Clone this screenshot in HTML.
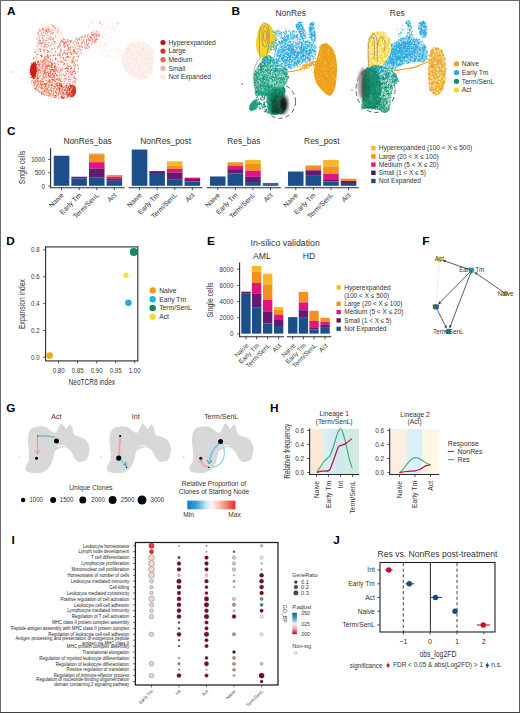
<!DOCTYPE html>
<html><head><meta charset="utf-8"><style>
html,body{margin:0;padding:0;background:#fff;}
svg{display:block;font-family:"Liberation Sans",sans-serif;}
</style></head><body>
<svg width="520" height="713" viewBox="0 0 520 713" fill="#2b2b2b">
<rect x="0" y="0" width="520" height="713" fill="#fff"/>
<text x="7.00" y="14.50" font-size="11.8" fill="#000" font-weight="bold">A</text>
<text x="231.50" y="15.00" font-size="11.8" fill="#000" font-weight="bold">B</text>
<text x="7.00" y="134.50" font-size="11.8" fill="#000" font-weight="bold">C</text>
<text x="6.30" y="244.60" font-size="11.8" fill="#000" font-weight="bold">D</text>
<text x="207.00" y="244.60" font-size="11.8" fill="#000" font-weight="bold">E</text>
<text x="422.30" y="244.60" font-size="11.8" fill="#000" font-weight="bold">F</text>
<text x="6.30" y="412.00" font-size="11.8" fill="#000" font-weight="bold">G</text>
<text x="270.00" y="412.00" font-size="11.8" fill="#000" font-weight="bold">H</text>
<text x="11.60" y="543.80" font-size="11.8" fill="#000" font-weight="bold">I</text>
<text x="333.30" y="543.80" font-size="11.8" fill="#000" font-weight="bold">J</text>
<path d="M38.5 29.6 C39.9 27.9 43.0 27.2 45.4 26.5 C47.8 25.8 50.7 25.4 53.0 25.5 C55.3 25.6 57.7 26.0 59.2 27.3 C60.8 28.6 61.4 31.2 62.3 33.5 C63.2 35.8 63.6 39.1 64.6 41.2 C65.5 43.3 66.4 44.5 68.0 46.0 C69.6 47.5 72.2 48.2 74.0 50.0 C75.8 51.8 78.5 54.6 79.0 56.5 C79.5 58.4 77.0 59.4 77.0 61.2 C77.0 63.0 79.2 64.2 79.2 67.3 C79.2 70.4 77.8 76.3 77.0 79.6 C76.2 82.9 74.9 85.2 74.6 87.3 C74.3 89.4 76.0 90.5 75.4 92.0 C74.8 93.5 73.1 95.4 70.8 96.5 C68.5 97.6 64.8 98.7 61.5 98.8 C58.2 98.9 54.1 98.1 50.8 97.3 C47.5 96.5 44.2 95.3 41.5 94.2 C38.8 93.1 36.3 92.3 34.6 90.4 C32.9 88.5 32.4 85.5 31.5 82.7 C30.6 79.9 29.7 76.6 29.5 73.5 C29.3 70.4 29.6 67.0 30.5 64.2 C31.4 61.4 33.6 59.6 34.6 56.5 C35.6 53.4 35.8 49.1 36.2 45.8 C36.6 42.5 36.6 39.2 37.0 36.5 C37.4 33.8 37.1 31.3 38.5 29.6 Z" fill="#fef4f1"/>
<path d="M62.0 38.0 C63.2 37.2 67.0 40.2 70.0 40.0 C73.0 39.8 76.8 38.2 80.0 37.0 C83.2 35.8 86.2 34.0 89.0 33.0 C91.8 32.0 95.0 30.7 97.0 31.0 C99.0 31.3 101.2 33.0 101.0 35.0 C100.8 37.0 98.5 40.5 96.0 43.0 C93.5 45.5 89.0 48.0 86.0 50.0 C83.0 52.0 81.0 55.0 78.0 55.0 C75.0 55.0 70.5 51.7 68.0 50.0 C65.5 48.3 64.0 47.0 63.0 45.0 C62.0 43.0 60.8 38.8 62.0 38.0 Z" fill="#fef7f5"/>
<path d="M132.3 42.7 C134.6 41.7 137.4 41.1 140.0 41.2 C142.6 41.3 145.5 42.0 147.7 43.5 C149.9 45.0 152.0 47.4 153.0 50.4 C154.0 53.4 153.9 57.6 153.8 61.2 C153.7 64.8 153.3 69.2 152.3 72.0 C151.3 74.8 149.8 76.7 147.7 78.0 C145.6 79.3 142.6 79.8 140.0 79.6 C137.4 79.3 134.6 77.8 132.3 76.5 C130.0 75.2 127.9 74.0 126.2 72.0 C124.5 70.0 123.0 67.0 122.3 64.2 C121.6 61.4 121.6 57.8 122.3 55.0 C123.0 52.2 124.5 49.3 126.2 47.3 C127.9 45.2 130.0 43.7 132.3 42.7 Z" fill="#fdf2ef"/>
<path d="M142.8 72.8h0M150.4 70.3h0M146.5 53.7h0M131.7 46.3h0M149.8 47.3h0M148.1 58.0h0M147.1 76.9h0M137.4 52.3h0M131.6 76.2h0M131.7 67.9h0M131.0 73.9h0M136.2 57.1h0M139.1 71.5h0M147.0 46.5h0M141.0 71.5h0M129.1 49.8h0M127.8 51.4h0M141.5 76.9h0M138.7 46.1h0M137.3 73.4h0M142.1 60.3h0M138.1 41.8h0M137.4 63.0h0M130.2 73.0h0M128.7 52.4h0M143.9 70.2h0M128.5 64.7h0M134.3 53.8h0M149.1 59.3h0M131.4 52.8h0M149.3 70.2h0M138.5 65.4h0M149.4 69.5h0M142.0 56.4h0M146.0 69.1h0M125.6 68.6h0M139.5 54.9h0M138.0 42.0h0M133.2 68.7h0M141.7 48.8h0M133.9 52.9h0M132.2 58.6h0M148.1 58.6h0M133.9 52.7h0M152.9 52.5h0M141.0 44.5h0M141.0 49.8h0M142.4 53.0h0M143.3 48.5h0M136.1 59.0h0M130.2 49.9h0M135.6 69.7h0M152.5 51.4h0M129.3 63.5h0M144.2 60.9h0M132.3 44.8h0M143.2 74.4h0M125.9 58.7h0M149.7 71.7h0M151.4 64.3h0M141.1 74.9h0M151.5 61.1h0M139.7 55.5h0M127.7 70.4h0M143.3 50.5h0M140.4 72.0h0M134.2 59.7h0M135.2 59.0h0M122.7 54.0h0M136.7 56.6h0M139.6 45.8h0M132.1 44.5h0M146.7 63.1h0M134.2 62.7h0M124.0 67.0h0M126.2 53.5h0M152.0 63.6h0M144.4 70.4h0M136.4 64.1h0M138.3 72.7h0M149.2 62.2h0M133.3 49.3h0M141.1 63.8h0M143.5 59.4h0M133.5 47.2h0M138.0 64.3h0M146.2 71.6h0M126.4 61.3h0M151.8 69.6h0M123.5 55.9h0M145.7 52.0h0M147.7 55.3h0M127.5 61.8h0M134.9 66.9h0M148.1 62.8h0M141.4 72.1h0M147.5 77.0h0M138.1 45.4h0M145.5 49.9h0M129.3 48.1h0M133.5 75.1h0M133.1 54.3h0M141.2 58.1h0M134.3 76.0h0M131.3 44.5h0M136.8 60.0h0M152.6 61.6h0M138.2 68.6h0M140.1 58.4h0M146.6 54.3h0M141.3 79.7h0M136.5 70.0h0M134.7 72.1h0M150.3 52.3h0M138.7 74.2h0M130.1 58.6h0M148.7 67.3h0M143.6 61.3h0M144.5 47.4h0M142.6 45.9h0M152.8 51.5h0M132.8 44.0h0M134.5 49.6h0M128.2 45.6h0M123.3 59.8h0M130.2 55.1h0M150.8 64.1h0M148.6 52.4h0M141.5 54.1h0M137.7 69.9h0M140.8 50.2h0M142.8 56.0h0M131.9 69.7h0M152.6 57.0h0M136.3 74.9h0M141.6 76.8h0M143.2 53.6h0M127.9 70.2h0M134.5 47.3h0M146.0 56.6h0M149.3 65.1h0M144.8 77.2h0M151.0 68.6h0M146.8 59.1h0M139.0 78.7h0M151.7 68.0h0M131.4 44.4h0M130.3 53.0h0M139.5 43.1h0M140.4 65.0h0M143.6 62.5h0M122.8 58.6h0M131.8 63.2h0M152.2 69.2h0M138.8 67.4h0M143.0 47.7h0M142.9 72.8h0M128.3 56.9h0M140.0 70.8h0M152.0 51.2h0M149.0 59.0h0M132.1 55.4h0M141.4 57.6h0M147.7 56.5h0M132.6 71.0h0M149.4 59.7h0M148.8 57.8h0M127.0 56.9h0M146.7 58.2h0M141.0 69.8h0M142.6 62.4h0M141.1 66.7h0M143.1 50.1h0M142.4 49.5h0M149.3 52.5h0M148.0 52.7h0M132.6 70.7h0M145.3 54.7h0M150.0 55.1h0M149.5 66.1h0M127.6 48.3h0M143.5 67.4h0M129.1 71.0h0M140.0 52.4h0M152.1 65.4h0M135.0 42.0h0M130.7 56.1h0M137.0 63.3h0M141.7 50.9h0M124.9 54.3h0M135.1 64.0h0M126.0 64.6h0M143.2 47.9h0M148.6 67.9h0M134.1 44.9h0M139.8 49.0h0M129.1 50.9h0M129.8 49.9h0M136.7 51.6h0M124.6 64.8h0M140.9 77.6h0M124.4 61.2h0M145.5 63.6h0M126.8 67.9h0M126.7 54.7h0M126.8 53.8h0M131.9 62.7h0M131.8 44.5h0M148.7 48.5h0M141.9 53.9h0M135.0 42.3h0M134.0 57.7h0M143.8 48.9h0M125.3 68.5h0M146.2 50.9h0M142.9 75.6h0M134.6 65.3h0M138.4 54.0h0M128.1 49.5h0M139.3 46.6h0M144.7 65.1h0M147.0 53.5h0M142.2 53.6h0M145.2 44.1h0M151.9 67.4h0M148.5 62.3h0M147.6 65.1h0M134.4 45.0h0M142.0 51.3h0M128.6 63.2h0M146.1 78.3h0M145.9 72.7h0M144.5 65.4h0M136.0 62.2h0M135.3 75.1h0M148.6 46.1h0M139.7 67.9h0M135.5 72.5h0M140.3 71.5h0M145.3 57.9h0M134.3 48.0h0M126.5 49.5h0M146.7 74.3h0M126.7 53.0h0M144.6 60.8h0M150.7 57.7h0M126.3 48.9h0M125.0 68.3h0M153.0 60.5h0M141.0 52.8h0M137.1 52.4h0M145.7 77.7h0M127.6 59.7h0M123.8 63.2h0M137.0 43.0h0M123.4 59.8h0M132.4 59.8h0M131.8 57.7h0M144.4 77.0h0M136.1 77.6h0M150.6 57.1h0M150.7 72.8h0M129.6 65.4h0M133.7 69.8h0M129.2 62.9h0M126.4 49.8h0M138.3 42.3h0M126.2 68.6h0M128.5 48.6h0M150.1 59.4h0M128.1 61.4h0M143.3 43.8h0M130.0 58.0h0M139.1 66.7h0M137.5 50.9h0M142.4 41.5h0M139.2 60.7h0M135.1 55.5h0M147.6 59.6h0M150.2 52.4h0M128.4 66.0h0M126.3 49.0h0M151.5 59.8h0M129.4 58.6h0M129.4 53.2h0M137.9 71.2h0M138.6 52.8h0M151.5 69.4h0M123.1 53.9h0M131.5 63.6h0M141.7 76.4h0M130.9 72.2h0M136.6 62.4h0M150.9 56.0h0M145.7 54.8h0M147.0 50.9h0M144.2 65.6h0M143.8 66.4h0M145.3 77.8h0M146.3 72.2h0" stroke="#f9e0d8" stroke-width="1.10" stroke-linecap="round"/>
<path d="M47.2 55.4h0M63.6 44.9h0M53.8 27.2h0M47.0 59.1h0M46.7 90.5h0M58.7 97.9h0M45.0 44.6h0M35.2 63.8h0M66.3 68.5h0M69.6 89.3h0M64.1 50.7h0M78.4 68.7h0M42.8 35.0h0M55.2 63.7h0M40.3 30.4h0M51.1 33.6h0M64.9 46.9h0M68.4 48.2h0M30.7 77.3h0M41.5 33.8h0M43.9 73.9h0M71.0 74.4h0M73.9 77.6h0M66.0 78.6h0M46.7 73.9h0M52.4 65.1h0M70.9 79.7h0M46.4 31.6h0M68.6 79.6h0M52.6 39.2h0M74.4 63.8h0M48.5 45.4h0M66.8 57.3h0M61.2 86.2h0M46.0 74.1h0M55.5 58.3h0M60.1 46.0h0M55.5 84.1h0M34.4 74.1h0M31.6 76.5h0M55.6 73.7h0M70.3 65.9h0M50.7 77.6h0M65.2 87.3h0M55.8 59.4h0M31.9 70.0h0M63.9 83.2h0M74.5 78.2h0M42.9 94.2h0M68.1 52.5h0M73.0 59.5h0M46.6 92.2h0M50.4 55.7h0M46.7 86.6h0M40.9 49.7h0M45.7 46.4h0M67.7 57.4h0M51.0 37.3h0M57.7 86.2h0M47.7 32.8h0M53.0 25.8h0M58.8 93.7h0M50.1 31.3h0M56.3 75.3h0M43.7 39.9h0M54.8 43.5h0M64.2 76.0h0M54.5 67.2h0M41.5 44.0h0M70.1 73.3h0M60.6 71.8h0M55.9 59.8h0M66.5 91.7h0M75.3 64.8h0M61.3 86.5h0M59.2 72.2h0M48.8 66.1h0M57.9 61.4h0M56.6 75.1h0M74.1 61.9h0M69.6 78.6h0M67.1 54.3h0M52.9 87.0h0M66.9 93.9h0M45.0 68.3h0M53.2 32.4h0M70.0 81.4h0M31.2 74.2h0M44.1 46.3h0M54.1 88.8h0M72.0 60.6h0M43.1 29.4h0M42.0 42.7h0M44.9 70.4h0M57.3 84.2h0M73.5 71.0h0M42.0 55.4h0M66.0 57.7h0M61.3 86.2h0M48.4 92.5h0M68.6 96.0h0M74.9 82.6h0M53.0 26.1h0M36.5 68.0h0M45.3 63.1h0M59.2 54.4h0M53.6 55.5h0M37.1 46.0h0M67.7 45.6h0M42.3 65.9h0M69.2 57.9h0M74.7 76.7h0M72.8 72.4h0M55.5 95.6h0M47.6 50.6h0M51.1 89.9h0M37.5 54.3h0M54.4 73.5h0M41.0 84.9h0M37.7 54.7h0M48.1 57.9h0M32.7 72.1h0M52.5 33.2h0M64.6 64.1h0M74.0 71.3h0M61.3 97.5h0M51.9 44.9h0M43.3 63.2h0M55.9 58.5h0M59.8 82.8h0M54.8 77.6h0M69.0 66.7h0M45.0 70.6h0M71.2 67.7h0M30.6 74.5h0M41.8 93.1h0M44.7 58.0h0M57.9 83.3h0M64.1 47.1h0M67.8 69.0h0M48.7 29.7h0M40.0 40.7h0M71.5 54.4h0M41.0 42.1h0M54.9 88.0h0M66.0 53.8h0M56.7 83.6h0M55.6 66.3h0M60.8 41.9h0M46.1 69.9h0M38.4 43.8h0M68.0 71.3h0M61.1 61.2h0M32.4 66.9h0M74.6 71.5h0M48.3 28.2h0M58.9 47.6h0M56.9 90.0h0M60.7 50.7h0M63.5 39.8h0M36.2 76.2h0M59.5 85.3h0M47.1 29.6h0M35.9 76.8h0M53.2 41.2h0M42.2 92.9h0M67.3 46.3h0M35.8 83.0h0M45.2 62.7h0M55.3 91.6h0M39.7 86.8h0M39.4 66.2h0M49.7 29.8h0M68.6 56.2h0M57.9 55.2h0M47.4 52.3h0M41.4 82.0h0M38.0 33.0h0M45.4 85.2h0M72.5 75.0h0M68.4 76.8h0M62.7 54.9h0M45.0 57.2h0M72.0 85.5h0M40.0 40.8h0M51.1 61.9h0M61.7 86.4h0M38.2 74.9h0M68.4 68.8h0M54.7 68.0h0M62.4 68.9h0M66.0 60.1h0M60.5 52.4h0M39.6 43.0h0M35.0 52.5h0M43.2 81.6h0M52.1 65.6h0M34.1 84.8h0M65.7 93.2h0M48.4 73.2h0M49.0 66.7h0M40.3 55.5h0M56.0 86.1h0M31.5 63.8h0M46.1 64.5h0M61.8 75.4h0M43.7 32.7h0M60.8 80.2h0M73.4 65.1h0M34.7 75.7h0M53.5 79.5h0M63.7 53.5h0M35.7 51.8h0M55.8 91.9h0M63.8 64.4h0M46.0 30.2h0M54.3 77.8h0M61.8 84.7h0M55.1 28.5h0M66.3 60.8h0M58.5 64.4h0M57.5 32.2h0M55.5 91.5h0M45.8 74.6h0M53.7 73.2h0M52.3 49.4h0M62.3 41.4h0M40.0 92.4h0M38.9 49.1h0M71.4 68.5h0M64.7 52.4h0M51.9 67.0h0M35.0 78.3h0M53.2 77.7h0M72.2 61.3h0M54.5 48.1h0M48.6 64.0h0M37.3 71.0h0M60.3 57.1h0M54.4 95.8h0M46.8 40.1h0M42.8 84.3h0M64.1 79.1h0M45.1 91.4h0M58.4 92.9h0M42.4 43.2h0M67.0 93.2h0M48.0 55.2h0M53.3 75.9h0M65.5 69.0h0M65.1 68.5h0M46.7 30.3h0M70.5 68.8h0M49.0 42.7h0M73.8 53.3h0M62.7 96.8h0M70.8 72.0h0M57.2 79.1h0M41.5 56.3h0M57.8 54.3h0M67.1 63.6h0M37.0 58.1h0M77.5 60.2h0M46.4 56.4h0M67.8 45.3h0M53.4 38.1h0M47.5 57.0h0M33.3 58.5h0M61.2 62.3h0M68.0 83.4h0M47.2 54.7h0M44.0 50.4h0M75.5 78.6h0M71.9 54.2h0M64.3 81.3h0M64.3 63.5h0M71.3 74.9h0M54.6 75.2h0M47.6 65.5h0M71.9 87.5h0M73.9 56.9h0M43.2 69.2h0M38.6 69.4h0M57.9 46.5h0M41.7 55.2h0M46.2 66.2h0M68.0 50.3h0M53.1 77.6h0M59.6 76.3h0M44.1 35.5h0M74.8 92.3h0M38.1 60.8h0M67.3 71.3h0M52.1 48.8h0M37.9 33.2h0M54.3 86.6h0M73.0 61.6h0M48.5 57.6h0M75.0 66.8h0M78.8 56.8h0M55.0 97.5h0M40.6 51.2h0M56.6 79.1h0M64.2 42.9h0M52.7 81.5h0M48.0 81.1h0M41.7 85.9h0M44.4 60.6h0M42.5 71.6h0M50.0 94.4h0M39.7 29.6h0M64.4 90.3h0M65.8 53.5h0M54.4 75.6h0M73.0 58.1h0M58.2 79.4h0M63.4 58.8h0M43.4 65.4h0M74.3 70.0h0M44.1 45.1h0M35.4 89.4h0M55.4 51.9h0M38.7 72.0h0M67.4 65.7h0M49.1 51.4h0M38.9 70.5h0M46.6 83.6h0M72.2 62.7h0M63.7 93.2h0M63.0 62.5h0M66.7 67.0h0M65.2 78.7h0M33.5 69.9h0M60.3 55.3h0M55.4 73.3h0M33.9 58.2h0M46.6 90.0h0M70.4 52.6h0M54.6 69.6h0M34.8 70.9h0M68.2 56.6h0M57.5 75.4h0M40.4 43.4h0M63.1 90.1h0M46.0 40.6h0M71.9 54.1h0M48.8 79.9h0M44.3 51.8h0M44.1 90.8h0M50.3 46.1h0M60.3 49.0h0M40.1 48.8h0M66.3 85.7h0M40.5 87.9h0M54.1 41.5h0M45.3 42.3h0M40.3 80.6h0M55.3 42.2h0M61.5 40.6h0M64.9 43.8h0M42.2 56.7h0M33.5 62.8h0M53.3 71.4h0M60.1 45.5h0M50.8 39.4h0M67.4 53.8h0M55.6 36.0h0M37.9 74.4h0M75.6 73.6h0M70.2 53.0h0M55.3 55.3h0M44.2 47.8h0M61.5 84.5h0M37.4 84.3h0M60.4 61.6h0M30.0 72.7h0M65.5 75.8h0M46.9 44.4h0M63.5 42.3h0M70.7 92.8h0M60.3 84.1h0M71.6 91.7h0M62.1 86.0h0M74.1 56.6h0M31.5 82.2h0M42.6 37.7h0M48.6 73.4h0M42.5 28.5h0M72.5 88.7h0M38.3 81.1h0M66.6 86.2h0M42.6 66.2h0M77.9 56.5h0M67.1 71.1h0M51.1 90.0h0M35.7 78.0h0M43.2 40.4h0M77.8 65.8h0M68.9 66.5h0M48.5 51.6h0M43.7 42.7h0M36.0 74.7h0M44.3 59.8h0M72.0 72.9h0M74.3 81.0h0M63.1 74.4h0M66.8 73.9h0M47.0 89.3h0M52.0 63.2h0M67.5 68.5h0M75.9 81.2h0M44.1 94.5h0M61.8 70.8h0M48.9 87.1h0M52.8 60.0h0M52.3 30.3h0M30.0 72.7h0M67.4 56.9h0M63.6 57.8h0M70.6 49.2h0M36.9 38.8h0M41.3 60.1h0M59.4 44.2h0M53.1 38.9h0M59.0 88.4h0M72.8 82.0h0M74.3 68.5h0M50.2 59.5h0M42.0 85.0h0M72.7 86.8h0" stroke="#e4412e" stroke-width="1.00" stroke-linecap="round"/>
<path d="M49.8 36.5h0M43.1 38.1h0M75.5 72.3h0M53.5 93.0h0M41.4 46.8h0M46.2 49.9h0M33.1 65.5h0M35.6 80.9h0M62.1 57.7h0M73.9 86.6h0M69.6 91.0h0M42.6 81.5h0M64.4 47.2h0M76.5 53.7h0M35.3 68.1h0M58.0 92.2h0M51.9 43.2h0M44.9 56.3h0M44.1 30.7h0M61.5 43.1h0M38.6 84.9h0M50.9 74.9h0M76.1 60.5h0M47.4 55.7h0M44.8 44.7h0M75.2 81.0h0M58.6 61.6h0M58.6 30.6h0M40.5 71.0h0M61.8 98.5h0M48.1 31.1h0M49.5 32.0h0M64.2 96.8h0M44.6 78.1h0M44.2 71.0h0M37.0 54.2h0M44.4 83.3h0M45.2 71.7h0M37.9 42.7h0M43.1 61.6h0M44.2 77.3h0M72.0 71.3h0M51.4 65.8h0M70.0 79.2h0M32.5 70.9h0M55.5 86.6h0M38.3 33.9h0M59.2 53.7h0M59.2 55.5h0M39.0 65.7h0M56.3 91.7h0M52.5 68.9h0M32.7 73.8h0M40.9 50.0h0M57.3 66.4h0M71.8 66.2h0M45.3 72.7h0M67.8 67.2h0M41.1 67.8h0M76.9 79.5h0M39.5 35.3h0M32.7 71.4h0M52.3 76.3h0M60.7 93.7h0M56.8 85.7h0M60.8 96.4h0M50.6 58.8h0M73.6 90.0h0M64.8 89.5h0M50.8 65.7h0M44.5 91.5h0M36.3 85.6h0M45.5 33.5h0M47.8 34.9h0M75.9 65.0h0M42.3 73.4h0M55.1 66.6h0M57.7 83.5h0M61.4 33.1h0M37.8 81.5h0M65.4 71.5h0M46.6 34.2h0M73.1 63.2h0M45.6 31.2h0M62.9 85.8h0M72.4 60.8h0M43.8 89.7h0M55.8 29.9h0M50.0 72.5h0M63.0 88.5h0M41.1 46.1h0M70.7 77.1h0M65.1 44.0h0M38.7 40.9h0M44.7 50.0h0M47.0 47.6h0M52.1 43.1h0M59.9 56.0h0M76.0 61.2h0M49.4 76.2h0M44.1 70.3h0M64.1 74.3h0M48.4 38.5h0M70.2 89.1h0M56.6 69.9h0M47.1 87.8h0M58.2 64.1h0M64.5 60.5h0M48.4 31.6h0M54.1 91.5h0M71.6 62.6h0M47.5 31.1h0M32.4 75.9h0M71.8 52.8h0M52.6 64.4h0M77.8 71.7h0M66.5 86.4h0M47.8 93.2h0M56.3 88.6h0M57.9 47.2h0M49.1 81.5h0M49.0 66.0h0M61.0 53.8h0M49.6 83.8h0M65.0 94.0h0M55.7 72.5h0M66.7 73.6h0M70.3 87.8h0M58.6 47.3h0M61.1 50.2h0M45.8 62.7h0M48.8 56.5h0M66.2 50.9h0M41.6 32.0h0M60.6 69.7h0M73.4 58.5h0M47.7 82.8h0M52.8 55.7h0M55.8 27.6h0M46.5 90.2h0M53.4 54.9h0M45.1 44.1h0M47.8 37.7h0M69.0 75.3h0M42.0 37.9h0M61.4 69.5h0M59.7 86.7h0M64.9 60.0h0M66.6 84.0h0M72.1 83.3h0M43.9 72.0h0M35.4 83.9h0M69.3 53.4h0M40.4 63.9h0M41.3 80.1h0M68.7 79.8h0M51.3 29.9h0M70.8 86.6h0M70.6 56.9h0M68.6 69.1h0M73.1 85.9h0M42.9 29.5h0M46.5 74.8h0M61.4 50.9h0M58.6 28.1h0M68.7 49.6h0M70.0 72.5h0M44.3 32.0h0M35.5 87.8h0M63.8 43.0h0M43.1 49.8h0M42.9 91.9h0M39.5 39.5h0M37.7 50.1h0M46.9 47.1h0M33.4 76.1h0M38.9 31.3h0M51.1 25.0h0M70.9 93.8h0M72.8 51.4h0M49.3 84.6h0M35.7 56.4h0M43.6 32.5h0M62.9 60.8h0M49.8 38.3h0M57.9 31.0h0M62.6 54.9h0M55.0 76.9h0M60.4 43.2h0M42.1 80.7h0M32.3 76.0h0M52.8 64.6h0M38.2 43.7h0M39.3 41.0h0M49.1 56.1h0M48.1 91.0h0M65.1 60.4h0M48.4 74.8h0M50.1 91.4h0M36.6 71.1h0M39.2 37.5h0M67.5 49.1h0M51.1 92.8h0M43.5 28.7h0M72.9 70.9h0M43.0 88.9h0M51.6 86.0h0M58.1 79.6h0M37.6 77.3h0M50.9 52.8h0M43.4 29.8h0M69.7 71.6h0M41.4 35.1h0M46.0 27.4h0M70.9 67.9h0M55.7 96.7h0M48.0 25.9h0M60.2 75.2h0M46.4 87.9h0M42.6 30.6h0M62.5 81.2h0M51.7 64.5h0M55.3 91.4h0M55.3 71.3h0M60.1 70.0h0M47.0 57.6h0M41.2 83.8h0M61.5 78.1h0M49.0 39.6h0M45.2 80.5h0M46.4 49.3h0M57.5 48.2h0M39.8 87.1h0M71.1 95.0h0M35.7 62.0h0M36.4 87.1h0M70.0 68.9h0M41.4 81.5h0M39.9 31.6h0M38.9 51.6h0M70.8 89.7h0M44.3 92.2h0M57.8 77.8h0M44.5 69.4h0M45.7 29.5h0M74.2 73.8h0M38.0 70.4h0M65.1 86.5h0M45.1 71.1h0M33.1 76.4h0M61.7 81.2h0M66.6 79.4h0M68.2 91.8h0M49.0 71.7h0M38.8 37.1h0M51.3 32.8h0M51.7 87.4h0M60.4 68.3h0M72.3 84.2h0M65.6 72.8h0" stroke="#f08a70" stroke-width="1.00" stroke-linecap="round"/>
<path d="M49.4 93.4h0M57.5 90.3h0M44.4 87.3h0M54.2 80.1h0M46.8 83.9h0M47.1 88.3h0M50.1 71.2h0M34.8 66.5h0M38.0 85.7h0M36.3 82.3h0M51.5 74.8h0M52.6 74.3h0M37.5 62.5h0M35.5 63.7h0M50.9 81.9h0M39.3 62.7h0M38.0 64.3h0M60.3 84.8h0M45.7 69.9h0M41.4 93.8h0M37.3 64.2h0M53.3 75.3h0M59.4 88.4h0M35.9 89.1h0M49.3 81.4h0M44.3 83.7h0M60.0 79.2h0M36.7 68.2h0M44.9 64.4h0M45.0 72.1h0M38.8 69.8h0M45.7 72.1h0M54.2 71.8h0M34.9 88.4h0M45.4 76.6h0M47.1 92.2h0M37.1 78.0h0M50.9 69.7h0M48.7 84.0h0M48.7 91.9h0M53.9 67.3h0M59.7 83.3h0M46.8 72.6h0M39.0 67.8h0M38.7 61.8h0M54.6 65.9h0M55.2 70.5h0M56.6 79.2h0M48.5 74.1h0M51.6 64.3h0M51.3 69.8h0M54.7 83.7h0M43.7 93.4h0M54.1 97.6h0M40.3 82.6h0M45.9 59.2h0M54.3 97.6h0M57.4 86.9h0M58.4 93.1h0M50.5 61.9h0M38.2 78.5h0M31.3 77.3h0M54.6 66.3h0M54.8 80.2h0M54.0 80.5h0M53.0 69.5h0M47.9 65.3h0M51.1 67.4h0M38.0 70.7h0M47.5 72.7h0M50.9 96.3h0M48.1 71.7h0M39.2 77.1h0M34.8 64.4h0M51.3 66.9h0M34.6 66.5h0M55.4 81.0h0M36.6 70.7h0M54.7 69.3h0M42.0 78.7h0M52.3 74.5h0M54.7 97.5h0M42.1 64.4h0M46.0 60.0h0M51.4 77.8h0M40.6 83.4h0M43.1 73.8h0M49.0 66.5h0M40.3 85.6h0M35.4 81.2h0M35.1 82.7h0M57.2 79.0h0M44.7 73.5h0M57.8 82.5h0M33.0 78.4h0M48.4 62.3h0M41.7 94.2h0M39.9 62.9h0M58.5 88.1h0M32.4 75.5h0M58.2 89.7h0M33.6 78.7h0M51.6 90.8h0M39.8 76.6h0M47.3 67.4h0M60.1 88.5h0M55.5 91.3h0M33.6 78.4h0M46.4 86.2h0M52.9 95.2h0M30.6 66.2h0M57.1 88.5h0M37.0 72.2h0M38.0 79.9h0M56.7 93.3h0M47.1 84.9h0M39.2 69.5h0M31.4 69.4h0M52.2 84.4h0M42.2 68.4h0M59.3 80.0h0M47.1 66.1h0M46.9 76.8h0M43.7 84.5h0M43.4 61.0h0M42.1 68.1h0M56.4 93.0h0M44.2 59.3h0M37.9 62.6h0M44.3 90.6h0M59.9 85.2h0M50.6 76.7h0M44.2 66.4h0M45.2 58.3h0M60.8 83.8h0M33.9 81.4h0M48.2 61.0h0M41.0 70.8h0M37.2 81.3h0M39.2 91.5h0M32.6 70.9h0M42.5 61.5h0M53.1 70.4h0M56.7 83.9h0M48.8 85.5h0M41.5 85.5h0M51.2 85.3h0M51.6 84.5h0M55.1 81.7h0M34.5 84.9h0M49.8 65.2h0M34.0 83.4h0M53.0 63.3h0M33.1 66.4h0M50.5 94.8h0M48.6 74.3h0M53.1 80.1h0M33.7 65.9h0M59.5 78.5h0M54.5 96.1h0M41.4 85.8h0M49.6 80.2h0M52.9 70.3h0M51.6 89.7h0M37.9 73.6h0M57.3 71.5h0M51.4 79.5h0M42.2 87.9h0M35.5 85.5h0M44.5 63.6h0M61.5 90.5h0M43.4 75.2h0M43.1 83.4h0M55.7 80.0h0M35.2 69.7h0M50.2 65.7h0M56.6 85.5h0M48.3 61.9h0M33.8 62.0h0M37.5 78.7h0M47.3 61.0h0M60.8 89.9h0M51.2 71.3h0M52.4 70.0h0M49.2 82.0h0M49.7 69.6h0M31.5 66.8h0M44.4 72.4h0M56.3 89.5h0M51.5 63.5h0M36.2 70.6h0M58.0 70.2h0M38.4 87.9h0M60.7 85.6h0M41.5 88.3h0M50.1 73.3h0M56.1 95.5h0M46.1 60.2h0M49.2 90.9h0M32.5 77.8h0M42.8 85.9h0M59.4 83.8h0M47.4 91.1h0M36.6 79.0h0M50.7 71.7h0M45.1 62.7h0M59.7 74.8h0M45.9 66.1h0M36.3 88.7h0M36.7 69.2h0M42.1 76.6h0M42.0 82.0h0M37.5 68.7h0M50.2 82.5h0M35.9 66.8h0M45.5 83.8h0M38.2 62.0h0M52.5 79.7h0M36.2 87.1h0M52.9 79.7h0M40.0 81.7h0M39.9 81.6h0M42.4 67.2h0M40.8 75.4h0M42.2 88.0h0M52.8 74.2h0M36.8 64.4h0M52.6 73.6h0M42.0 62.2h0M34.2 62.3h0M35.0 62.4h0M59.2 78.4h0M32.0 71.1h0M39.2 65.5h0M58.3 87.4h0M33.7 82.6h0M37.7 90.4h0M39.5 64.5h0M57.1 82.8h0M34.9 68.6h0M34.9 76.3h0M48.6 81.6h0M55.0 81.0h0M48.2 95.0h0M47.1 83.0h0M44.8 72.2h0M38.5 89.9h0M43.9 88.9h0M50.3 81.1h0M48.9 69.0h0M60.8 88.1h0M38.4 62.6h0M46.6 77.9h0M50.9 83.0h0M50.8 70.2h0M55.2 81.0h0M56.6 70.6h0M31.7 77.5h0M57.2 90.4h0M55.7 95.4h0M50.4 73.9h0M31.9 71.4h0M54.4 71.2h0M49.0 89.9h0M58.1 80.6h0M49.7 76.3h0M45.2 84.7h0M37.1 80.6h0M36.4 65.3h0M35.5 73.6h0M56.1 68.8h0M37.9 63.9h0M56.2 96.8h0M43.9 85.8h0M50.1 74.1h0M43.1 62.1h0M46.6 72.1h0M51.1 93.9h0M59.3 90.0h0M37.7 81.2h0M37.6 61.3h0M43.2 60.5h0M54.8 92.4h0M40.7 61.2h0M37.2 86.5h0M52.7 83.1h0M55.0 66.8h0M34.1 74.9h0M48.4 96.0h0M49.3 66.4h0M40.5 84.1h0M45.1 62.3h0M60.0 80.1h0M35.0 68.0h0M42.1 84.4h0M41.4 88.2h0M43.1 64.1h0M37.3 67.7h0M52.5 67.9h0M50.7 72.4h0M38.8 67.9h0M46.4 68.1h0M42.2 91.3h0M50.1 80.2h0M38.7 64.4h0M60.4 84.4h0M46.7 80.5h0M51.2 68.1h0M39.6 70.1h0M52.6 95.2h0M53.3 88.3h0M49.5 84.5h0M58.2 94.8h0M45.6 67.0h0M31.5 71.1h0M59.5 91.5h0M48.4 75.5h0M50.0 75.7h0M49.8 90.6h0M51.2 75.5h0M57.7 85.9h0M51.5 67.0h0M56.1 67.9h0M41.1 66.8h0M36.2 88.2h0M40.7 68.8h0M38.7 84.1h0M36.3 73.0h0M52.3 90.9h0M49.6 77.7h0M56.2 68.1h0M38.4 61.6h0M54.9 71.4h0M48.2 75.6h0M61.4 83.9h0M46.8 95.6h0M34.8 81.1h0M40.6 72.7h0M52.6 64.7h0M49.0 81.6h0M38.3 83.6h0M48.4 64.3h0M51.5 92.2h0M45.0 84.6h0M38.0 78.5h0M54.5 63.3h0M53.4 70.4h0M38.6 78.1h0M38.1 82.2h0M44.8 95.0h0M48.8 86.5h0M51.4 85.5h0M42.3 79.2h0M44.0 76.9h0M48.4 76.3h0M35.5 80.5h0M53.4 90.6h0M45.2 91.2h0M56.8 94.0h0M41.9 70.0h0M60.5 81.4h0M52.8 85.4h0M35.6 63.6h0M45.3 89.0h0M31.4 70.8h0M43.8 78.8h0M47.4 68.7h0M55.8 69.3h0M41.6 92.6h0M51.1 89.0h0M47.0 88.8h0M49.8 95.1h0M45.5 86.6h0M50.1 85.5h0M45.4 68.7h0M59.7 85.4h0M34.6 72.6h0M58.0 95.0h0M54.2 86.4h0M31.5 70.7h0M53.4 93.7h0M42.2 89.0h0M46.4 66.4h0M46.9 66.4h0M46.0 88.6h0M50.6 61.8h0M38.0 69.4h0M52.1 70.0h0M43.1 81.3h0M51.9 63.1h0M44.1 70.8h0M55.6 65.1h0M41.4 87.8h0M49.7 62.5h0M49.9 87.8h0M61.4 88.0h0M36.5 83.1h0M52.5 77.4h0M37.5 76.7h0M34.2 81.8h0M44.2 62.6h0M45.9 89.5h0M47.8 89.2h0M45.7 84.9h0M37.0 67.2h0M51.8 66.2h0M55.3 87.8h0M51.9 88.7h0M54.0 76.1h0M59.5 92.8h0M57.5 85.2h0M37.8 75.5h0M61.5 84.9h0M46.9 61.1h0M48.9 73.4h0M39.7 91.6h0M43.1 77.4h0M48.3 80.3h0M32.1 80.3h0M53.3 95.2h0" stroke="#e64a32" stroke-width="1.00" stroke-linecap="round"/>
<path d="M43.3 69.5h0M48.6 69.2h0M58.2 75.9h0M41.6 59.6h0M44.9 59.3h0M44.6 67.7h0M58.0 86.4h0M44.7 88.4h0M43.2 91.0h0M57.5 90.7h0M47.4 91.3h0M34.4 86.9h0M42.4 68.0h0M35.6 77.5h0M45.5 75.3h0M42.0 59.7h0M41.9 79.0h0M56.8 68.8h0M54.1 84.9h0M54.6 90.1h0M59.3 86.3h0M36.0 90.8h0M58.7 76.2h0M36.2 68.1h0M39.8 77.4h0M55.6 80.0h0M35.5 75.3h0M59.8 85.2h0M50.5 68.6h0M47.6 60.4h0M47.8 85.8h0M48.8 71.8h0M48.1 78.9h0M49.1 71.6h0M38.3 74.7h0M32.6 78.8h0M59.4 75.7h0M49.8 77.0h0M40.4 68.1h0M36.8 61.3h0M43.5 62.2h0M42.8 85.2h0M37.4 72.6h0M42.8 65.4h0M32.1 65.1h0M41.8 71.1h0M31.3 68.4h0M50.0 73.9h0M45.8 90.1h0M41.9 67.7h0M51.1 88.8h0M43.4 62.4h0M58.3 78.6h0M41.9 93.0h0M38.0 71.0h0M36.5 62.9h0M38.8 68.5h0M47.5 61.9h0M42.9 92.1h0M37.4 64.4h0M60.1 88.3h0M41.7 83.6h0M45.7 70.4h0M60.5 86.5h0M55.2 63.8h0M47.8 81.0h0M52.0 82.1h0M52.3 81.1h0M34.0 81.3h0M53.2 82.5h0M56.5 69.6h0M36.7 83.8h0M40.2 82.0h0M42.3 72.5h0M37.0 68.9h0M47.8 70.8h0M58.3 84.4h0M42.8 87.9h0M46.3 88.8h0M38.7 88.4h0M46.1 92.3h0M41.0 86.5h0M56.9 76.6h0M36.3 74.7h0M48.2 64.4h0M52.8 92.8h0M41.4 73.7h0M41.1 91.3h0M37.1 86.8h0M59.1 79.5h0M58.9 78.6h0M45.0 68.4h0M33.4 84.6h0M58.1 93.2h0M61.6 90.9h0M52.9 95.1h0M34.8 79.3h0M55.9 79.2h0M35.1 73.9h0M49.4 91.0h0M34.1 85.9h0M46.1 91.1h0M58.5 90.5h0M51.4 81.3h0M46.4 93.9h0M39.5 62.6h0M49.4 84.8h0M44.4 63.4h0M52.7 95.0h0M36.1 61.7h0M31.5 73.0h0M37.0 69.1h0M50.7 68.0h0M35.3 61.7h0M39.3 73.2h0M46.8 61.7h0M54.4 83.2h0M57.6 70.7h0M41.2 89.1h0M51.2 95.3h0M58.8 87.7h0M51.6 89.4h0M46.6 81.1h0M54.9 80.1h0M53.2 77.1h0M56.0 78.3h0M48.4 63.4h0M35.1 81.1h0M57.7 88.3h0M43.3 90.0h0M39.7 85.4h0M42.7 75.8h0M52.3 68.5h0M36.5 82.5h0M50.9 62.6h0M58.6 72.7h0M51.2 93.5h0M39.9 91.1h0M41.9 65.8h0M42.3 63.4h0M55.4 88.5h0M45.4 79.4h0M52.5 71.0h0M41.0 71.5h0M55.9 80.7h0M43.1 63.5h0M31.7 76.1h0M47.5 63.5h0M41.1 76.0h0M53.6 86.8h0M48.4 88.0h0M51.0 74.9h0M48.6 94.1h0M42.4 63.5h0M45.3 64.5h0M45.8 62.4h0M59.5 74.0h0M41.4 60.8h0M35.5 85.5h0M33.9 65.1h0M40.4 85.6h0M49.0 80.7h0M49.6 85.6h0M53.8 85.8h0M51.5 89.9h0M33.7 77.2h0M42.5 80.7h0M42.1 68.3h0M34.3 78.2h0M49.0 62.2h0M54.7 96.2h0M48.2 61.0h0M54.8 74.0h0M48.6 79.3h0M32.5 77.2h0M46.4 72.1h0M38.5 82.8h0M37.6 74.2h0M51.3 74.7h0M43.5 58.8h0" stroke="#f8c8a0" stroke-width="1.10" stroke-linecap="round"/>
<path d="M59.6 88.7h0M67.9 95.5h0M73.2 92.6h0M72.2 85.4h0M59.6 87.8h0M59.6 90.9h0M71.5 92.5h0M73.2 91.4h0M72.1 94.6h0M64.8 86.7h0M64.3 97.4h0M66.0 92.0h0M67.8 93.6h0M62.1 87.7h0M58.6 86.0h0M67.4 92.3h0M59.5 89.6h0M62.9 98.0h0M63.4 98.1h0M69.5 85.7h0M69.9 92.3h0M71.6 86.1h0M71.5 88.1h0M66.3 85.4h0M74.7 90.9h0M62.4 92.9h0M67.2 92.0h0M64.1 90.6h0M66.4 90.7h0M70.9 88.6h0M61.0 93.3h0M63.0 91.9h0M62.0 94.8h0M71.1 93.3h0M71.9 89.1h0M74.6 89.6h0M70.6 97.0h0M62.2 89.2h0M63.6 97.7h0M64.7 90.3h0M66.9 86.4h0M71.6 96.3h0M67.5 90.5h0M61.0 86.9h0M71.3 92.1h0M66.2 87.4h0M71.6 91.8h0M67.4 89.4h0M72.5 86.2h0M69.1 86.1h0M74.0 86.8h0M70.2 83.8h0M68.6 86.9h0M72.3 90.7h0M62.1 97.4h0M68.7 97.0h0M62.2 97.3h0M70.9 87.4h0M59.4 85.8h0M71.4 87.6h0M62.2 90.0h0M63.0 98.3h0M66.1 95.8h0M62.1 98.2h0M61.0 91.2h0M61.9 92.5h0M70.9 85.5h0M70.9 85.5h0M71.9 85.6h0M63.5 87.5h0M62.3 86.7h0M68.9 87.7h0M64.5 94.1h0M67.4 97.2h0M61.6 96.6h0M64.1 98.0h0M71.6 87.4h0M62.1 95.1h0M66.3 92.6h0M69.6 94.4h0M73.8 97.4h0M74.0 93.5h0M68.4 89.6h0M67.2 92.0h0M60.3 86.1h0M62.7 95.9h0M60.0 92.0h0M67.7 92.6h0M65.9 94.5h0M61.3 85.5h0M67.7 85.7h0M62.2 86.4h0M72.3 89.4h0M70.2 93.7h0M67.3 88.0h0M62.3 97.7h0M66.1 98.0h0M63.7 92.6h0M67.3 96.1h0M68.1 94.2h0M65.9 90.5h0M60.1 93.9h0M67.0 94.0h0M74.0 94.5h0M59.2 88.9h0M68.0 96.8h0M63.3 93.0h0M64.6 89.5h0M75.2 87.4h0M69.4 84.3h0M63.5 94.7h0M66.0 88.4h0M73.5 89.1h0M65.9 88.2h0M68.0 95.7h0M65.9 89.7h0M61.9 97.9h0M61.8 85.8h0M69.3 90.6h0M67.7 94.8h0" stroke="#e0402c" stroke-width="1.00" stroke-linecap="round"/>
<path d="M80.3 49.4h0M94.4 37.4h0M97.1 33.6h0M81.4 53.5h0M73.9 49.2h0M88.5 42.9h0M76.3 53.5h0M79.5 37.8h0M82.5 46.2h0M96.7 39.3h0M96.6 31.7h0M94.9 42.7h0M91.2 40.9h0M64.2 44.4h0M96.1 38.5h0M71.9 46.9h0M94.0 41.5h0M95.3 40.4h0M64.4 39.5h0M74.7 51.0h0M85.2 36.8h0M71.4 40.6h0M85.5 48.6h0M67.3 42.0h0M86.7 44.3h0M84.2 42.8h0M87.8 45.2h0M99.2 36.3h0M91.4 37.8h0M69.9 40.6h0M82.7 36.9h0M84.2 37.9h0M91.1 38.1h0M78.9 55.2h0M62.8 41.1h0M77.0 42.2h0M67.3 39.7h0M90.0 35.9h0M87.2 48.5h0M94.9 41.9h0M81.2 47.2h0M81.1 37.4h0M65.4 41.9h0M94.9 36.4h0M70.3 50.1h0M75.7 52.2h0M77.4 40.2h0M68.7 41.5h0M79.2 46.7h0M81.5 43.9h0M94.7 34.4h0M99.7 36.4h0M94.1 35.0h0M82.5 42.9h0M77.1 53.5h0M85.5 43.6h0M86.4 42.2h0M75.5 39.8h0M98.4 34.6h0M86.3 40.4h0M92.6 39.1h0M70.8 41.9h0M89.9 39.9h0M68.8 44.8h0M84.2 36.3h0M77.8 46.5h0M92.8 39.5h0M92.0 38.0h0M70.3 47.3h0M77.0 52.5h0M89.1 40.5h0M74.7 41.4h0M96.6 35.1h0M81.3 37.7h0M64.7 42.7h0M76.3 42.8h0M83.6 39.9h0M81.4 36.1h0M92.3 42.5h0M91.1 32.4h0M80.8 51.8h0M78.9 39.2h0M80.0 45.7h0M66.7 44.0h0M64.3 42.7h0M65.2 42.8h0M78.0 44.0h0M87.4 35.2h0M73.7 51.2h0M99.3 34.4h0M62.9 42.5h0M92.1 34.9h0M84.4 47.8h0M62.9 38.5h0M66.2 42.3h0M77.6 39.4h0M61.3 40.3h0M87.5 44.9h0M73.5 50.2h0M75.0 47.8h0M91.7 34.4h0M90.8 37.5h0M69.7 50.1h0M75.1 51.2h0M88.1 39.7h0M82.5 41.6h0M93.7 31.8h0M78.5 43.3h0M97.1 39.2h0M70.8 42.4h0M87.4 44.9h0M92.5 34.8h0M76.5 48.1h0M86.5 42.0h0M96.0 33.4h0M83.9 41.5h0M68.3 48.3h0M68.8 40.3h0M86.5 39.6h0M73.8 49.5h0M87.5 37.0h0M87.9 37.1h0M80.9 46.5h0M88.7 38.5h0M65.0 45.5h0M97.7 39.4h0M77.8 49.6h0M67.2 41.8h0M79.6 49.1h0M82.2 50.2h0M81.4 39.8h0M79.8 46.7h0M89.3 46.8h0M85.7 35.9h0M97.0 30.9h0M73.0 47.1h0M89.6 40.0h0M94.6 42.4h0M74.6 45.2h0M94.8 37.6h0M91.1 37.3h0M74.6 52.4h0M95.9 35.4h0M82.7 47.1h0M83.9 40.3h0M85.7 46.7h0M96.7 36.6h0M95.0 33.3h0M78.1 48.7h0M96.1 41.7h0M88.6 47.9h0M90.8 40.1h0M70.8 40.8h0M88.2 40.1h0M76.2 38.8h0M68.2 47.4h0M81.3 43.3h0M79.6 38.9h0M76.3 38.1h0M97.1 35.1h0M79.3 39.8h0M84.9 44.8h0M76.2 45.6h0M91.3 32.9h0M92.8 34.7h0M69.6 44.0h0M88.4 43.8h0M86.7 47.6h0M89.7 46.6h0M88.3 34.7h0M90.2 40.1h0M87.1 46.2h0M94.4 40.3h0M90.2 36.8h0M81.5 43.2h0M73.7 50.4h0M90.1 37.0h0M96.8 37.0h0M70.4 42.4h0M92.8 41.1h0M76.1 54.4h0M78.1 44.2h0M69.6 47.9h0M91.3 44.1h0M73.0 42.1h0M74.9 51.6h0M93.2 34.9h0M92.2 36.0h0M78.3 51.5h0M70.4 41.5h0M73.3 43.2h0M96.9 35.3h0M95.6 39.9h0M94.8 34.2h0M73.5 50.9h0M77.0 43.7h0M98.3 35.4h0M77.3 40.9h0M85.8 34.9h0M65.8 40.9h0" stroke="#e8604a" stroke-width="0.90" stroke-linecap="round"/>
<path d="M103.3 24.7h0M109.1 19.8h0M112.6 25.4h0M103.0 36.7h0M101.6 21.5h0M111.9 28.6h0M105.1 43.7h0M100.7 26.8h0M110.9 29.4h0M108.8 28.4h0M88.9 26.5h0M99.7 45.8h0M105.1 27.9h0M109.6 27.2h0M96.4 46.4h0M108.0 23.9h0M88.9 24.7h0M114.9 30.8h0M110.6 32.7h0M93.5 21.8h0M104.8 29.7h0M118.9 22.5h0M100.6 45.7h0M107.8 42.9h0M101.0 45.2h0M113.7 28.7h0M110.1 36.6h0M93.1 32.4h0M104.8 44.6h0M98.7 37.3h0M100.4 27.6h0M117.1 22.9h0M97.6 46.3h0M94.0 33.5h0M94.8 37.2h0M109.4 38.0h0M100.5 42.4h0M91.0 22.8h0M101.9 24.5h0M96.9 21.3h0M100.9 34.0h0M100.3 21.3h0M115.2 30.1h0M118.0 26.4h0M102.1 23.8h0M115.8 27.3h0M99.6 32.1h0M93.4 23.4h0M103.4 38.2h0M109.1 41.1h0M117.7 32.9h0M96.6 43.3h0M102.3 24.1h0M102.5 36.4h0M104.9 34.5h0M97.9 24.0h0M93.1 41.7h0M107.8 33.5h0M113.4 27.0h0M91.9 22.1h0" stroke="#f6cfc6" stroke-width="1.00" stroke-linecap="round"/>
<path d="M104.8 49.1h0M103.1 50.1h0M109.8 56.8h0M113.5 56.6h0M119.4 49.5h0M116.1 48.5h0M110.9 44.0h0M105.0 46.3h0M112.0 49.2h0M105.6 49.8h0M103.5 54.0h0M108.3 46.7h0M103.4 53.6h0M102.8 52.2h0M116.8 53.6h0M106.9 54.7h0M98.3 52.6h0M120.6 55.2h0M120.6 51.2h0M121.4 57.3h0M103.3 45.5h0M104.7 45.0h0M110.7 49.9h0M109.9 55.3h0M109.8 51.8h0M99.0 48.2h0M114.3 58.3h0M109.7 51.9h0M108.6 51.2h0M118.7 52.6h0M101.3 50.5h0M107.7 46.2h0M108.0 55.7h0M118.4 58.9h0M118.9 50.5h0M101.5 44.6h0M119.3 56.6h0M121.1 51.8h0M113.1 47.2h0M105.4 56.5h0" stroke="#f8d8d0" stroke-width="1.00" stroke-linecap="round"/>
<path d="M34 62 Q29.5 66 30 71 Q30.5 76 34 79 Q36.5 76 36.5 70 Q36.5 65 34 62 Z" fill="#d41a1a"/>
<path d="M36.4 70.0h0M31.1 67.0h0M31.5 64.9h0M34.5 68.1h0M35.5 63.7h0M35.3 62.7h0M34.5 70.4h0M36.3 65.0h0M33.3 69.8h0M36.0 65.2h0M36.9 65.7h0M34.9 71.1h0M31.4 73.7h0M32.8 69.9h0M31.9 66.3h0M35.9 68.2h0M36.6 71.3h0M31.6 65.8h0M32.5 70.2h0M35.3 73.3h0M33.5 67.5h0M33.7 64.9h0M34.7 71.5h0M34.5 70.8h0M31.0 70.5h0M36.8 68.2h0M34.3 68.8h0M32.6 64.4h0M31.7 74.0h0M36.0 68.6h0M32.1 70.7h0M35.1 72.9h0M31.8 66.4h0M35.1 71.6h0M35.7 65.6h0M31.8 69.9h0M33.8 64.3h0M35.8 64.4h0M34.4 66.3h0M34.5 65.7h0M34.5 64.6h0M32.5 73.0h0M36.8 71.2h0M34.0 73.0h0M32.0 63.8h0M32.6 77.1h0M35.2 69.8h0M33.0 75.1h0M33.5 65.5h0M35.5 73.3h0" stroke="#d01c1c" stroke-width="1.00" stroke-linecap="round"/>
<path d="M73.5 84.5 Q77 88 76 93 Q74.5 97 70 97.5 Q72.5 93 72.5 89 Z" fill="#d42a24" opacity="0.85"/>
<path d="M72.7 96.5h0M69.1 90.1h0M72.6 86.3h0M71.6 92.5h0M72.1 86.6h0M71.5 86.2h0M70.1 88.7h0M74.0 87.8h0M69.7 89.0h0M72.6 86.0h0M72.5 90.6h0M73.3 87.6h0M68.0 88.3h0M70.7 95.6h0M68.4 87.5h0M70.8 85.3h0M70.8 85.9h0M68.6 94.2h0M71.5 85.9h0M70.1 94.7h0M74.0 94.8h0M74.9 89.6h0M74.7 88.3h0M71.2 91.2h0M70.8 90.6h0M74.2 91.4h0M74.7 89.5h0M69.9 94.1h0M69.6 88.6h0M71.9 91.6h0M73.5 94.6h0M68.2 88.0h0M70.0 86.8h0M73.5 90.6h0M70.5 86.5h0M69.6 88.7h0M69.6 88.8h0M71.4 92.4h0M69.2 94.7h0M71.4 90.9h0M73.9 95.2h0M71.4 91.5h0M73.2 95.6h0M73.8 91.8h0M69.2 92.1h0M69.5 94.0h0M69.9 90.1h0M70.0 92.6h0M74.5 93.2h0M73.9 86.6h0M73.0 91.5h0M73.6 91.4h0M75.4 91.8h0M72.3 86.2h0M68.9 95.2h0M73.8 89.8h0M70.1 95.8h0M68.7 93.7h0M70.4 86.1h0M74.1 89.7h0" stroke="#d02a22" stroke-width="1.00" stroke-linecap="round"/>
<circle cx="13.00" cy="72.00" r="0.80" fill="#e8a8a0"/>
<circle cx="100.00" cy="23.00" r="1.20" fill="#f4d0c8"/>
<circle cx="117.50" cy="23.50" r="1.20" fill="#f4d0c8"/>
<circle cx="163.00" cy="42.50" r="2.60" fill="#c0101c"/>
<text x="168.50" y="44.81" font-size="6.7" fill="#333">Hyperexpanded</text>
<circle cx="163.00" cy="51.10" r="2.60" fill="#c43a22"/>
<text x="168.50" y="53.41" font-size="6.7" fill="#333">Large</text>
<circle cx="163.00" cy="59.70" r="2.60" fill="#e2694c"/>
<text x="168.50" y="62.01" font-size="6.7" fill="#333">Medium</text>
<circle cx="163.00" cy="68.30" r="2.60" fill="#eeb2a8"/>
<text x="168.50" y="70.61" font-size="6.7" fill="#333">Small</text>
<circle cx="163.00" cy="76.90" r="2.60" fill="#fbe7e2"/>
<text x="168.50" y="79.21" font-size="6.7" fill="#333">Not Expanded</text>
<text x="290.70" y="16.40" font-size="8.4" text-anchor="middle" fill="#333">NonRes</text>
<text x="397.30" y="16.40" font-size="8.4" text-anchor="middle" fill="#333">Res</text>
<path d="M274.0 50.0 C274.7 47.8 276.3 45.0 278.0 43.0 C279.7 41.0 282.0 39.7 284.0 38.0 C286.0 36.3 288.3 34.3 290.0 33.0 C291.7 31.7 292.7 29.5 294.0 30.0 C295.3 30.5 296.5 34.3 298.0 36.0 C299.5 37.7 301.3 39.3 303.0 40.0 C304.7 40.7 306.3 40.0 308.0 40.0 C309.7 40.0 311.6 38.7 313.0 40.0 C314.4 41.3 316.0 45.3 316.5 48.0 C317.0 50.7 316.8 53.8 316.0 56.0 C315.2 58.2 314.0 59.9 312.0 61.0 C310.0 62.1 306.5 61.7 304.0 62.5 C301.5 63.3 299.3 64.9 297.0 66.0 C294.7 67.1 292.3 69.0 290.0 69.0 C287.7 69.0 285.2 67.2 283.0 66.0 C280.8 64.8 278.5 63.7 277.0 62.0 C275.5 60.3 274.5 58.0 274.0 56.0 C273.5 54.0 273.3 52.2 274.0 50.0 Z" fill="#d2ecf8"/>
<path d="M295.5 24.5 C295.8 23.4 297.4 21.8 298.5 21.5 C299.6 21.2 301.2 21.6 302.0 22.5 C302.8 23.4 302.4 25.4 303.0 27.0 C303.6 28.6 305.0 30.2 305.5 32.0 C306.0 33.8 306.6 36.8 306.0 38.0 C305.4 39.2 303.2 39.8 302.0 39.0 C300.8 38.2 299.9 34.8 299.0 33.0 C298.1 31.2 297.1 29.4 296.5 28.0 C295.9 26.6 295.2 25.6 295.5 24.5 Z" fill="#d2ecf8"/>
<path d="M309.5 25.0 C309.9 23.5 310.8 22.4 311.5 22.0 C312.2 21.6 313.4 21.2 314.0 22.5 C314.6 23.8 314.7 27.1 315.0 30.0 C315.3 32.9 316.3 37.8 316.0 40.0 C315.7 42.2 314.0 43.3 313.0 43.0 C312.0 42.7 310.7 40.0 310.0 38.0 C309.3 36.0 309.1 33.2 309.0 31.0 C308.9 28.8 309.1 26.5 309.5 25.0 Z" fill="#d2ecf8"/>
<path d="M285.1 38.4h0M290.4 55.4h0M280.4 61.4h0M277.1 45.3h0M290.5 35.1h0M310.0 58.3h0M287.8 57.6h0M297.1 57.3h0M290.0 66.6h0M290.4 51.6h0M305.6 41.2h0M297.0 42.6h0M286.2 54.1h0M291.5 36.9h0M285.7 66.9h0M291.9 39.6h0M289.4 64.6h0M295.3 45.1h0M283.4 40.7h0M290.9 59.7h0M284.1 50.5h0M293.0 35.0h0M275.7 51.3h0M280.9 44.9h0M286.7 53.5h0M298.1 51.8h0M285.0 40.4h0M285.2 40.7h0M284.3 51.2h0M297.5 37.7h0M278.8 60.7h0M284.2 51.2h0M309.0 47.6h0M305.3 46.8h0M292.6 51.4h0M290.7 38.6h0M305.8 42.7h0M292.6 49.5h0M284.4 55.0h0M309.7 42.4h0M281.6 57.3h0M302.4 43.1h0M286.4 65.6h0M281.0 52.3h0M311.2 44.4h0M290.1 47.8h0M305.1 42.2h0M295.0 36.8h0M296.0 57.0h0M278.2 60.7h0M297.6 60.8h0M297.2 64.8h0M311.3 44.8h0M289.0 54.9h0M291.5 49.1h0M306.1 50.5h0M274.4 56.1h0M298.8 46.3h0M304.9 58.9h0M294.4 35.4h0M282.5 49.8h0M301.7 52.5h0M284.5 61.1h0M292.2 53.2h0M284.2 54.0h0M290.5 41.6h0M305.0 47.6h0M281.3 64.0h0M299.7 47.3h0M286.1 53.2h0M279.1 50.0h0M276.7 55.8h0M300.1 60.3h0M310.0 45.2h0M291.6 36.6h0M288.7 66.4h0M277.1 59.5h0M308.0 57.6h0M311.2 46.7h0M296.3 65.3h0M302.8 55.6h0M285.1 65.7h0M283.0 61.2h0M309.0 59.0h0M302.9 52.3h0M294.2 36.6h0M290.8 38.1h0M308.2 44.8h0M283.5 58.2h0M304.1 46.2h0M309.2 51.8h0M300.0 39.7h0M310.9 48.7h0M298.7 44.8h0M279.2 43.9h0M304.0 60.3h0M290.0 41.5h0M288.0 36.7h0M283.9 40.2h0M307.8 45.0h0M292.7 44.4h0M309.8 54.9h0M285.6 65.1h0M291.3 49.7h0M279.4 58.4h0M307.3 41.2h0M281.7 47.7h0M283.2 59.0h0M299.9 61.6h0M312.2 56.5h0M313.7 47.5h0M314.7 46.2h0M297.0 56.5h0M302.0 62.4h0M286.0 41.9h0M285.4 63.0h0M291.5 36.6h0M289.0 65.0h0M274.9 49.1h0M297.0 36.0h0M300.9 57.8h0M300.7 42.7h0M292.8 57.4h0M302.2 43.7h0M296.8 63.9h0M288.8 38.8h0M312.4 49.0h0M277.9 56.3h0M277.3 61.6h0M299.1 38.5h0M291.3 44.4h0M314.2 49.2h0M291.6 60.3h0M290.2 42.5h0M296.4 62.1h0M299.1 62.8h0M309.3 60.2h0M285.9 44.4h0M311.3 50.6h0M276.8 60.6h0M282.4 57.7h0M291.5 50.0h0M288.3 38.5h0M308.5 58.2h0M296.2 44.4h0M290.0 67.5h0M308.4 45.3h0M286.9 36.9h0M283.7 67.3h0M307.2 48.8h0M303.8 60.8h0M277.6 54.1h0M314.6 50.6h0M316.0 47.1h0M282.7 42.9h0M294.9 54.9h0M293.2 51.8h0M286.4 49.6h0M278.5 55.6h0M286.3 49.4h0M315.4 58.0h0M293.1 48.7h0M282.6 60.3h0M301.8 44.6h0M310.4 42.8h0M284.1 64.9h0M305.0 52.7h0M278.9 50.7h0M278.6 58.8h0M294.4 63.9h0M293.9 41.6h0M308.6 41.8h0M305.0 59.0h0M306.9 54.9h0M301.5 43.2h0M300.9 51.8h0M306.1 52.0h0M293.4 30.7h0M286.1 51.7h0M295.7 59.6h0M304.7 48.2h0M277.9 59.6h0M285.5 39.7h0M315.0 51.7h0M297.1 42.8h0M296.3 45.0h0M279.7 57.8h0M285.5 59.4h0M297.7 34.5h0M303.9 41.8h0M300.3 37.1h0M302.0 45.1h0M287.8 35.4h0M298.9 61.4h0M315.7 47.8h0M311.3 47.5h0M277.8 51.7h0M310.2 60.7h0M284.9 43.4h0M312.9 40.6h0M315.6 54.4h0M305.6 46.7h0M300.9 39.5h0M293.8 66.2h0M301.3 45.7h0M305.1 62.2h0M288.6 55.9h0M288.9 39.8h0M305.7 57.0h0M290.7 34.4h0M298.0 63.1h0M289.4 46.5h0M285.0 41.5h0M295.0 54.6h0M286.6 40.5h0M300.5 56.6h0M305.6 59.2h0M287.2 54.3h0M290.4 47.5h0M294.7 57.3h0M315.0 45.3h0M281.9 59.9h0M307.0 56.6h0M278.9 56.0h0M289.9 48.3h0M290.6 54.3h0M302.4 56.1h0M288.2 48.5h0M316.0 51.7h0M303.5 40.2h0M273.6 49.5h0M291.6 36.6h0M310.2 61.2h0M304.3 44.2h0M297.3 52.9h0M286.4 39.7h0M278.8 48.8h0M290.8 35.8h0M278.5 50.6h0M296.6 56.2h0M301.0 53.3h0M303.0 44.3h0M307.5 58.6h0M308.9 56.0h0M283.0 57.3h0M288.2 52.0h0M292.8 31.6h0M299.3 52.2h0M296.3 35.7h0M290.0 67.6h0M294.7 51.6h0M274.7 54.1h0M307.5 61.4h0M292.7 47.0h0M301.7 59.0h0M284.3 47.2h0M304.1 60.4h0M292.7 34.2h0M300.8 56.3h0M293.0 43.3h0M282.6 44.3h0M309.1 50.7h0M291.2 64.6h0M289.6 48.8h0M309.3 42.7h0M305.0 48.1h0M285.8 47.2h0M309.1 46.1h0M288.3 49.4h0M309.8 57.9h0M278.9 58.5h0M288.4 66.9h0M313.6 43.0h0M285.6 46.7h0M291.3 50.6h0M285.4 65.6h0M285.4 62.3h0M302.2 55.2h0M303.2 50.5h0M307.1 46.1h0M292.5 51.3h0M292.3 57.4h0M284.9 47.6h0M294.7 66.8h0M295.8 51.4h0M285.3 48.5h0M297.5 66.6h0M289.9 64.7h0M287.5 49.2h0M297.5 35.3h0M306.3 57.6h0M293.6 47.2h0M278.6 51.1h0M288.6 67.5h0M305.5 56.6h0M300.9 47.0h0M304.6 55.0h0M308.7 55.2h0M288.6 36.3h0M290.0 45.3h0M299.4 43.3h0M297.0 36.8h0M276.1 49.5h0M301.5 46.4h0M288.7 57.0h0M294.5 55.4h0M300.4 58.7h0M312.3 44.2h0M292.8 38.4h0M289.5 46.1h0M282.2 48.1h0M297.6 52.7h0M305.6 52.9h0M285.4 61.0h0M301.4 42.1h0M305.1 55.5h0M290.2 67.2h0M297.6 44.6h0M289.8 64.7h0M296.2 31.7h0M309.3 50.4h0M307.9 41.8h0M291.5 36.9h0M298.5 43.2h0M305.3 58.7h0M283.9 42.6h0M307.6 58.7h0M305.3 47.9h0M297.5 39.7h0M291.3 44.4h0M292.1 50.7h0M280.9 46.8h0M311.8 52.7h0M279.8 60.8h0M307.8 46.0h0M288.6 54.0h0M288.0 37.2h0M292.9 59.1h0M286.9 53.8h0M280.1 56.3h0M281.7 40.2h0M309.3 45.3h0M294.9 52.5h0M307.0 41.1h0M308.6 53.2h0M287.3 64.9h0M296.4 62.7h0M281.2 54.5h0M294.2 62.3h0M290.8 68.7h0M281.0 47.3h0M303.5 50.2h0M301.5 62.9h0M292.0 49.8h0M293.4 49.3h0M291.7 49.8h0M306.0 52.2h0M288.4 49.6h0M300.2 53.0h0M290.7 57.0h0M293.6 31.6h0M275.6 50.1h0M302.8 46.1h0M278.6 60.4h0M281.9 63.7h0M294.6 65.1h0M313.7 56.8h0M307.1 61.9h0M292.1 65.3h0M276.0 58.7h0M285.3 46.7h0M287.2 40.2h0M291.9 67.6h0M304.9 60.1h0M284.9 63.2h0M288.1 45.7h0M291.3 52.4h0M312.2 44.8h0M309.5 43.4h0M286.9 53.7h0M301.9 52.5h0M286.7 43.8h0M287.5 38.6h0M291.0 55.5h0M285.2 37.8h0M288.3 41.9h0M295.3 51.9h0M287.2 57.9h0M313.2 46.5h0M278.0 50.6h0M285.0 45.8h0M288.2 42.4h0M278.8 50.5h0M276.4 48.5h0M280.4 55.1h0M289.8 53.3h0M282.5 58.1h0M307.0 47.5h0M294.5 37.5h0M306.5 45.1h0M309.1 49.3h0M280.6 54.5h0M295.1 50.9h0M301.9 56.4h0M308.5 46.3h0M305.1 51.6h0M292.0 45.5h0M279.2 55.9h0M294.5 53.4h0M282.9 57.9h0M285.1 56.3h0M298.7 52.7h0M293.2 37.4h0M283.3 39.4h0M288.0 44.5h0M302.0 57.1h0M301.7 48.2h0M282.3 46.0h0M294.3 63.6h0M285.6 43.9h0M299.4 41.7h0M293.4 38.5h0M297.9 61.4h0M305.7 44.2h0M312.3 45.4h0M302.8 41.2h0M285.0 41.8h0M303.4 48.0h0M282.6 46.7h0M307.1 44.9h0M302.5 61.7h0M308.4 59.2h0M296.3 37.0h0M315.2 54.0h0M288.2 55.1h0M295.5 42.4h0M299.0 51.4h0M288.7 55.9h0M314.5 52.1h0M288.0 54.6h0M281.1 64.4h0M296.4 63.9h0M300.0 64.7h0M286.7 39.3h0M302.9 60.5h0M297.9 59.4h0M289.1 65.6h0M288.6 47.9h0M300.2 47.9h0M307.0 42.2h0M310.7 51.0h0M296.9 35.0h0M305.9 50.6h0M280.6 64.4h0M292.1 49.1h0M290.7 32.7h0M305.2 46.5h0M280.5 50.1h0M309.9 53.2h0M307.3 54.0h0M276.1 59.2h0M292.1 51.0h0M297.7 52.6h0M293.2 53.2h0M294.8 49.9h0M311.8 55.3h0M294.6 59.6h0M310.2 59.5h0M306.8 55.0h0M313.2 58.4h0M287.8 59.2h0M276.7 48.3h0M313.9 51.7h0M290.4 53.6h0M289.9 45.4h0M311.9 50.7h0M310.0 58.9h0M284.0 60.2h0M294.5 64.7h0M280.7 65.2h0" stroke="#2aaade" stroke-width="1.20" stroke-linecap="round"/>
<path d="M286.0 61.0h0M297.8 54.5h0M304.0 56.4h0M289.7 62.2h0M300.3 53.7h0M293.5 52.4h0M297.6 56.0h0M310.4 52.8h0M288.1 53.6h0M308.5 54.2h0M297.4 47.4h0M282.4 56.9h0M290.8 57.7h0M295.4 63.9h0M287.0 52.1h0M279.1 56.8h0M312.2 49.9h0M299.0 53.1h0M279.6 50.4h0M295.3 52.6h0M306.5 50.2h0M282.4 53.2h0M310.9 50.1h0M283.2 49.3h0M281.3 51.1h0M305.6 58.1h0M283.2 58.0h0M286.5 46.8h0M297.9 54.4h0M308.0 58.2h0M282.2 58.1h0M293.2 57.7h0M309.0 52.5h0M296.8 56.5h0M279.5 55.4h0M289.4 50.4h0M297.1 53.4h0M297.3 61.0h0M285.4 59.9h0M287.5 45.3h0M290.7 66.2h0M285.4 50.5h0M297.9 53.2h0M287.5 45.6h0M311.5 53.2h0M285.0 49.9h0M291.1 52.0h0M287.5 59.1h0M291.8 48.6h0M294.5 53.5h0M298.7 55.1h0M282.0 46.9h0M282.7 48.6h0M289.2 45.9h0M300.7 47.1h0M295.0 63.3h0M282.5 57.3h0M290.1 57.4h0M291.0 46.3h0M294.1 46.3h0M290.7 56.5h0M303.1 54.5h0M307.2 53.3h0M301.4 51.3h0M303.7 59.2h0M303.3 51.2h0M295.8 55.0h0M310.4 52.8h0M297.1 58.3h0M295.8 47.3h0M288.9 61.7h0M308.5 49.8h0M283.8 57.0h0M304.2 48.0h0M296.7 49.2h0M298.1 58.2h0M285.1 57.0h0M302.6 50.6h0M297.0 57.1h0M310.2 50.9h0M301.0 47.7h0M295.3 62.3h0M286.5 63.5h0M305.9 48.2h0M312.2 55.8h0M291.0 53.3h0M286.5 60.0h0M284.9 58.8h0M301.2 50.9h0M296.7 49.1h0M304.5 49.3h0M296.2 54.7h0M305.9 50.5h0M301.4 47.3h0M288.8 45.2h0M302.9 49.4h0M281.4 59.6h0M278.6 52.6h0M295.5 57.9h0M309.6 53.4h0M293.9 62.8h0M301.4 53.6h0M300.8 50.7h0M298.5 63.1h0M298.3 52.2h0M298.4 54.9h0M291.3 50.0h0M283.1 51.5h0M302.5 54.7h0M296.9 48.4h0M295.9 55.1h0M284.6 53.6h0M300.1 60.2h0M300.3 58.4h0M288.2 64.6h0M308.5 53.8h0M297.1 48.2h0M307.6 51.3h0M298.1 61.8h0M292.8 49.9h0M286.7 61.8h0M288.1 60.3h0M297.6 53.0h0M288.2 47.5h0M302.8 55.7h0M293.9 49.8h0M278.9 55.5h0M307.1 48.3h0M297.4 55.8h0M300.8 55.8h0M297.1 47.7h0M287.3 57.7h0M286.9 62.8h0M303.6 55.7h0M287.2 49.5h0M289.8 47.8h0M281.0 55.8h0M285.8 56.8h0M292.6 60.8h0M308.8 55.2h0M277.0 53.0h0M306.3 54.2h0M286.6 53.2h0M283.3 61.7h0M292.6 56.0h0M294.6 64.1h0M295.8 51.8h0M284.5 56.3h0M284.0 46.1h0M287.5 52.9h0M290.4 45.5h0M303.4 55.5h0M280.8 54.6h0M289.9 50.0h0M290.4 56.0h0M312.4 49.6h0M309.6 55.1h0M297.7 54.7h0M312.7 50.7h0M284.3 45.3h0M287.8 55.5h0M301.1 48.4h0M299.6 48.9h0M280.7 52.8h0M289.8 56.2h0M295.4 57.0h0M309.5 50.2h0M307.7 57.7h0M303.0 54.3h0M292.0 53.3h0M284.2 45.8h0M290.0 44.7h0M281.5 58.2h0M306.4 48.6h0M284.7 54.8h0M280.2 56.3h0M305.3 55.5h0M278.1 55.4h0M283.4 51.9h0M294.2 54.2h0M293.7 59.8h0M304.1 54.3h0M282.3 59.4h0M307.4 51.5h0M291.8 47.9h0M308.2 54.0h0M301.2 48.2h0M287.5 45.8h0M303.1 56.9h0M288.9 53.0h0M301.0 53.2h0M296.0 46.5h0M290.7 46.8h0M288.5 48.0h0M289.4 57.5h0M298.8 58.1h0M303.5 53.3h0M297.1 49.8h0M286.9 61.1h0M303.8 58.8h0M280.4 54.4h0M298.1 62.4h0M278.8 52.3h0M300.1 60.2h0M289.4 60.2h0M292.8 48.2h0M306.6 51.3h0M305.7 51.5h0M304.9 50.3h0M289.8 58.4h0M289.7 59.4h0M300.8 49.7h0M280.0 52.4h0M302.2 50.8h0M302.3 50.0h0M305.5 58.0h0M285.2 61.6h0M288.3 60.0h0M292.9 64.9h0M292.7 61.3h0M309.6 52.5h0M298.0 60.7h0M313.3 49.9h0M306.1 51.6h0M288.4 63.8h0M292.0 46.3h0M292.8 54.3h0M288.5 50.5h0M290.2 51.6h0M283.7 53.9h0M291.0 51.2h0M292.2 60.7h0M289.7 59.6h0M302.5 51.9h0M291.7 62.5h0M299.0 54.0h0M289.3 49.0h0M277.3 54.8h0M283.3 50.2h0M290.6 56.2h0M287.3 58.1h0M310.4 49.3h0M302.9 59.3h0M298.3 46.8h0M310.4 51.9h0M283.6 50.3h0M303.6 53.0h0M287.5 49.1h0M286.6 63.8h0M293.4 50.4h0M286.1 60.3h0M299.8 48.1h0M281.8 51.6h0M294.2 63.9h0M291.7 45.0h0M303.5 49.2h0M292.6 53.4h0M295.7 57.4h0M297.7 62.1h0M290.5 64.4h0M307.6 57.3h0M294.4 63.1h0M287.9 60.4h0M308.2 54.2h0M297.2 62.0h0M282.1 50.0h0M295.8 61.1h0M292.9 48.2h0M296.6 55.6h0M281.8 49.3h0M283.8 62.7h0M297.0 55.1h0M301.8 47.6h0M282.5 55.5h0M306.3 52.2h0M293.6 52.6h0M290.2 56.9h0M289.7 62.7h0M296.8 52.4h0M301.8 51.2h0M289.2 57.5h0M285.5 62.3h0M303.4 47.8h0M290.6 59.7h0M303.8 46.5h0M290.3 49.0h0M284.5 49.8h0M302.5 60.2h0M293.2 55.5h0M294.8 61.9h0M289.2 48.3h0M293.7 51.9h0M292.8 48.4h0M283.5 55.6h0M287.4 59.6h0M291.1 55.8h0M291.5 61.6h0M282.6 51.8h0M289.2 61.6h0M286.4 56.6h0M301.4 58.5h0M310.2 56.8h0M284.3 50.7h0M302.0 49.5h0M284.6 59.6h0M285.2 52.8h0M278.2 52.9h0M289.2 56.4h0M283.9 49.3h0M293.3 54.1h0M291.5 49.8h0M294.3 58.7h0M300.5 49.2h0M303.7 50.1h0M298.8 55.8h0M278.8 53.0h0M298.9 60.7h0M302.2 57.4h0M281.2 59.0h0M293.1 45.6h0" stroke="#2aaade" stroke-width="1.20" stroke-linecap="round"/>
<path d="M301.4 35.0h0M302.4 37.0h0M299.2 25.3h0M303.9 31.0h0M305.2 38.1h0M300.1 32.3h0M301.8 34.7h0M301.2 24.9h0M302.3 29.6h0M302.9 33.5h0M301.5 34.4h0M304.4 36.2h0M299.5 28.1h0M297.9 29.2h0M297.8 27.1h0M301.4 35.2h0M301.0 37.1h0M302.9 27.3h0M296.4 24.8h0M299.3 26.3h0M303.8 32.8h0M298.4 26.7h0M304.7 34.9h0M301.9 35.0h0M300.5 28.2h0M298.3 28.3h0M301.0 35.5h0M304.7 30.5h0M301.5 34.7h0M300.5 25.5h0M300.3 24.1h0M300.5 24.3h0M303.5 38.7h0M303.2 32.7h0M300.0 23.9h0M300.9 36.5h0M297.3 29.5h0M299.2 31.2h0M301.6 30.6h0M296.3 26.7h0M302.4 38.7h0M303.5 35.5h0M296.6 27.0h0M296.2 25.5h0M300.6 33.9h0M301.8 26.4h0M302.3 28.3h0M300.7 28.9h0M301.0 22.4h0M296.2 24.8h0M297.9 25.9h0M298.7 23.9h0M300.3 31.4h0M302.2 22.4h0M305.9 37.1h0M298.3 22.1h0M303.9 29.9h0M301.8 37.2h0M300.1 32.4h0M298.9 24.1h0M297.0 27.0h0M303.6 33.8h0M299.0 25.0h0M302.7 38.0h0M302.0 24.8h0M302.9 28.5h0M305.1 36.0h0M300.6 35.3h0M303.8 29.0h0M300.8 28.4h0M296.9 24.3h0M302.7 27.6h0M300.1 23.2h0M301.4 24.8h0M298.4 27.3h0M301.2 25.3h0M300.4 25.9h0M301.0 26.1h0M301.9 30.0h0M296.5 27.5h0M299.1 22.4h0M305.3 35.3h0M298.1 24.3h0M300.1 22.6h0M302.2 26.5h0M304.2 36.0h0M299.0 26.8h0M297.2 26.4h0M299.2 31.7h0M299.3 30.4h0M302.2 36.3h0M302.1 39.1h0M299.6 33.7h0M305.9 33.1h0M300.0 29.1h0M304.0 38.5h0M301.3 33.6h0M302.1 36.8h0M301.2 28.5h0M301.2 31.3h0M301.9 33.3h0M304.0 31.3h0M296.5 27.2h0M302.4 31.3h0M303.6 27.0h0M299.8 31.2h0M299.7 32.2h0M302.4 37.6h0M300.6 24.9h0M296.8 28.0h0" stroke="#2aaade" stroke-width="1.20" stroke-linecap="round"/>
<path d="M310.4 27.5h0M311.9 39.3h0M309.9 28.7h0M312.5 25.9h0M308.8 34.3h0M311.4 28.3h0M312.5 35.4h0M311.6 30.1h0M312.2 24.5h0M310.2 28.7h0M310.6 30.8h0M310.3 36.9h0M314.6 30.9h0M313.2 28.7h0M314.6 41.1h0M310.1 24.3h0M311.6 23.4h0M312.1 29.3h0M310.7 31.6h0M311.2 38.8h0M314.5 37.1h0M313.6 25.4h0M312.5 24.3h0M314.7 32.5h0M314.3 39.1h0M315.3 34.7h0M313.1 31.8h0M311.3 23.0h0M314.6 35.8h0M314.3 33.8h0M311.4 37.7h0M314.1 32.0h0M310.4 27.0h0M311.6 23.3h0M309.6 28.4h0M311.7 35.0h0M309.3 32.0h0M315.3 34.3h0M310.5 31.3h0M310.1 34.7h0M310.0 24.3h0M312.0 29.8h0M311.0 23.2h0M312.2 36.5h0M314.3 32.9h0M309.8 28.9h0M313.9 36.2h0M312.2 22.9h0M312.1 35.2h0M313.6 34.9h0M314.8 36.7h0M310.1 31.8h0M311.0 31.9h0M311.1 24.2h0M314.5 39.3h0M313.7 42.1h0M311.0 29.0h0M311.4 33.4h0M311.9 28.0h0M311.9 28.1h0M312.0 39.1h0M312.0 39.8h0M311.0 34.6h0M314.2 40.0h0M310.3 24.3h0M313.5 22.7h0M309.8 24.8h0M312.3 33.1h0M314.7 41.2h0M314.1 32.2h0M315.2 37.4h0M309.3 27.5h0M311.9 33.9h0M313.7 24.1h0M311.9 27.4h0M312.9 24.5h0M314.6 34.4h0M314.8 41.0h0M312.4 29.4h0M314.3 40.0h0M312.0 22.5h0M310.8 29.5h0M311.6 34.7h0M309.5 30.0h0M310.3 30.5h0M311.6 36.3h0M314.2 28.1h0M311.6 29.0h0M312.0 29.0h0M311.9 38.9h0M310.9 28.2h0M310.9 36.1h0M312.5 33.9h0M314.1 31.5h0M315.7 38.7h0M314.3 35.4h0M311.4 25.7h0M312.2 38.7h0M311.1 32.3h0M313.6 36.1h0M309.7 27.8h0M313.3 27.5h0M311.2 34.3h0M310.3 30.9h0M311.9 40.0h0M309.5 37.4h0M310.4 26.0h0M310.4 34.0h0M314.1 23.9h0M311.7 23.9h0" stroke="#2aaade" stroke-width="1.20" stroke-linecap="round"/>
<path d="M285.4 30.3h0M285.7 31.5h0M288.4 34.9h0M283.5 37.3h0M280.0 33.8h0M289.2 30.5h0M281.6 33.1h0M285.7 29.7h0M288.3 31.2h0M292.1 32.7h0M281.8 35.5h0M282.1 37.6h0M289.9 31.5h0M293.0 34.8h0M284.5 35.9h0M286.3 36.8h0M281.9 34.9h0M284.8 38.4h0" stroke="#2aaade" stroke-width="1.00" stroke-linecap="round"/>
<path d="M321.0 45.0 C322.5 43.2 325.2 43.5 327.0 44.0 C328.8 44.5 330.6 46.0 332.0 48.0 C333.4 50.0 334.7 53.0 335.5 56.0 C336.3 59.0 336.8 62.3 337.0 66.0 C337.2 69.7 336.8 74.3 336.5 78.0 C336.2 81.7 335.9 85.1 335.0 88.0 C334.1 90.9 332.5 94.5 331.0 95.5 C329.5 96.5 327.8 95.2 326.0 94.0 C324.2 92.8 321.7 90.0 320.0 88.0 C318.3 86.0 317.0 84.3 316.0 82.0 C315.0 79.7 314.2 77.0 314.0 74.0 C313.8 71.0 314.3 67.2 315.0 64.0 C315.7 60.8 317.0 58.2 318.0 55.0 C319.0 51.8 319.5 46.8 321.0 45.0 Z" fill="#eea21c"/>
<path d="M325.5 84.4h0M330.4 82.3h0M322.3 55.5h0M328.7 94.4h0M325.1 69.6h0M333.0 89.7h0M331.7 56.2h0M332.1 67.0h0M316.6 79.4h0M328.7 71.5h0M327.2 79.5h0M329.3 49.3h0M325.1 88.7h0M328.0 81.8h0M316.0 71.3h0M319.8 74.4h0M326.8 47.8h0M335.1 66.7h0M313.1 72.6h0M319.9 58.7h0M332.2 90.0h0M327.3 70.7h0M319.4 77.9h0M333.7 68.9h0M327.1 56.2h0M332.5 89.7h0M320.8 87.7h0M318.8 70.5h0M316.2 66.1h0M314.7 69.8h0M323.5 48.4h0M330.2 87.6h0M318.0 65.5h0M323.5 68.8h0M321.4 80.1h0M330.3 54.9h0M331.4 66.5h0M328.7 74.7h0M325.6 44.7h0M329.7 66.5h0M317.5 73.5h0M319.0 65.4h0M335.5 73.5h0M326.8 61.7h0M325.4 67.4h0M322.0 59.9h0M333.1 50.2h0M323.8 61.4h0M333.9 65.1h0M325.7 75.1h0M328.0 87.7h0M329.2 93.2h0M320.4 50.4h0M321.4 58.4h0M319.4 53.6h0M321.1 78.5h0M331.3 55.5h0M323.0 84.7h0M324.3 81.4h0M317.4 66.4h0M317.1 78.1h0M322.2 59.1h0M322.2 81.9h0M327.9 54.9h0M328.6 51.9h0M328.1 64.7h0M323.4 81.1h0M317.9 81.8h0M330.8 71.8h0M317.7 82.2h0M325.2 46.2h0M319.7 51.9h0M321.1 66.9h0M331.7 55.4h0M331.8 63.5h0M326.6 53.3h0M328.0 80.2h0M329.6 84.6h0M319.7 50.0h0M331.6 89.3h0M329.6 78.9h0M320.8 51.3h0M328.4 77.5h0M326.7 65.5h0M333.8 59.7h0M320.5 51.9h0M317.4 57.9h0M333.4 63.9h0M317.9 62.9h0M331.1 77.4h0M321.2 73.1h0M320.2 47.1h0M333.0 55.2h0M331.4 92.2h0M318.9 71.4h0M330.8 75.2h0M330.0 55.6h0M332.8 69.9h0M329.3 48.6h0M323.2 84.4h0M325.1 68.2h0M319.1 53.2h0M323.6 61.5h0M316.1 73.0h0M326.1 69.5h0M316.5 66.5h0M317.7 66.1h0M327.5 67.4h0M325.9 60.2h0M327.9 88.8h0M329.3 83.9h0M325.3 79.7h0M328.6 63.5h0M326.1 73.9h0M320.3 87.7h0M322.1 75.3h0M334.8 62.6h0M316.0 67.0h0M327.4 74.3h0M325.0 71.4h0M315.6 76.0h0M332.8 55.2h0M324.3 64.7h0M334.7 64.1h0M320.1 58.1h0M332.6 84.4h0M332.5 87.3h0M331.3 90.9h0M328.4 72.9h0M330.9 85.0h0M326.8 68.9h0M323.9 86.8h0M327.0 61.9h0M317.2 60.8h0M335.4 75.3h0M322.8 63.6h0M332.6 85.8h0M327.9 85.5h0M321.3 48.9h0M330.0 79.5h0M334.7 87.1h0M323.0 52.3h0M314.1 66.1h0M332.2 89.3h0M325.6 90.3h0M328.1 45.2h0M328.0 90.7h0M328.5 78.0h0M330.1 76.3h0M334.0 72.8h0M331.0 91.1h0M331.1 79.7h0M334.5 56.0h0M317.6 62.1h0M318.1 57.3h0M328.1 60.0h0M322.5 77.8h0M318.1 68.6h0M333.4 50.8h0M327.8 80.8h0M320.0 52.4h0M318.0 77.1h0M325.8 91.5h0M324.8 77.2h0M323.8 54.3h0M329.1 83.4h0M324.3 72.2h0M334.3 64.0h0M321.6 75.3h0M331.4 49.4h0M322.1 77.6h0M320.1 55.7h0M323.1 77.4h0M319.1 63.3h0M333.8 62.6h0M334.0 84.2h0M332.2 50.4h0M325.1 79.2h0M329.8 69.9h0M324.4 88.3h0M331.8 57.5h0M325.3 58.2h0M326.1 66.9h0M318.6 77.2h0M333.9 81.4h0M326.9 48.2h0M329.6 54.9h0M332.5 79.5h0M322.9 50.3h0M323.2 68.0h0M323.2 66.1h0M329.6 71.9h0M325.7 50.3h0M328.2 66.6h0M329.3 84.6h0M333.1 73.0h0M323.4 53.6h0M321.8 78.7h0M320.0 61.2h0M319.3 68.4h0M331.2 54.6h0M328.5 70.2h0M317.2 68.3h0M320.4 64.5h0M329.6 73.1h0M321.8 76.6h0M330.4 83.0h0M328.6 51.4h0M331.7 90.3h0M327.2 47.4h0M324.6 92.4h0M326.1 55.7h0M319.6 68.7h0M333.3 61.9h0M329.4 49.2h0M326.3 79.8h0M331.3 80.6h0M316.6 64.3h0M328.4 78.1h0M333.5 87.1h0M326.3 43.4h0M334.2 77.4h0M316.2 75.4h0M335.4 67.3h0M321.0 54.8h0M329.9 62.3h0M336.6 65.9h0M326.3 86.4h0M321.2 81.1h0M337.1 70.5h0M320.5 59.7h0M331.2 88.7h0M327.3 46.4h0M326.3 61.8h0M332.6 61.9h0M335.9 68.5h0M332.7 66.2h0M333.5 51.4h0M326.7 86.5h0M324.6 61.8h0M335.1 77.2h0M335.3 56.1h0M323.9 89.3h0M335.0 77.8h0M322.5 66.0h0M331.6 58.6h0M317.2 66.2h0M324.7 83.3h0M320.6 71.6h0M319.2 46.9h0" stroke="#eea21c" stroke-width="1.20" stroke-linecap="round"/>
<path d="M332.7 76.6h0M321.0 60.4h0M334.3 69.7h0M335.5 66.5h0M334.8 63.7h0M325.7 69.8h0M321.7 54.2h0M315.9 70.0h0M336.0 66.9h0M333.0 64.0h0M332.7 80.4h0M333.9 88.9h0M322.3 68.4h0M335.7 78.9h0M322.7 87.8h0M327.2 68.6h0M319.2 59.8h0M320.9 46.9h0M328.7 77.1h0M323.8 88.0h0M328.2 51.7h0M320.3 50.0h0M331.5 70.5h0M327.6 94.2h0M335.1 78.1h0M324.6 61.1h0M324.3 69.3h0M320.7 74.0h0M330.4 95.0h0M324.7 61.7h0M322.0 63.9h0M331.9 93.1h0M325.9 74.2h0M333.6 60.7h0M324.9 72.1h0M333.5 75.7h0M332.8 64.5h0M320.5 50.9h0M336.7 71.2h0M328.4 49.9h0M334.9 58.0h0M326.4 72.6h0M323.4 67.0h0M326.2 88.8h0M335.8 66.4h0M325.4 63.7h0M323.6 81.2h0M331.4 63.0h0M325.1 84.0h0M317.7 77.3h0M323.2 79.0h0M318.4 57.6h0M332.2 60.4h0M326.2 91.3h0M331.3 85.2h0M316.9 61.4h0M324.2 48.3h0M328.4 59.7h0M332.1 65.4h0M330.2 72.9h0M335.6 79.2h0M331.3 66.4h0M316.9 60.4h0M319.7 57.3h0M321.7 58.0h0M328.6 54.1h0M327.2 75.1h0M321.7 78.5h0M325.4 63.6h0M332.6 87.5h0M319.8 79.4h0M318.8 79.2h0M327.6 75.4h0M314.7 68.2h0M332.2 87.7h0M332.6 51.7h0M316.9 74.8h0M328.8 55.3h0M318.7 64.5h0M321.3 59.8h0" stroke="#f8c870" stroke-width="0.90" stroke-linecap="round"/>
<path d="M285 72 Q292 72 299 70 Q306 67 312 63 L318 61" fill="none" stroke="#eea21c" stroke-width="1.3"/>
<path d="M308.0 63.1h0M312.4 61.5h0M305.9 67.0h0M307.3 67.0h0M306.7 67.2h0M305.6 68.0h0M309.7 64.7h0M305.2 65.4h0M304.3 64.7h0M306.3 64.2h0M309.4 62.7h0M304.6 66.9h0M306.5 63.8h0M310.1 63.6h0M302.8 66.4h0M309.4 66.8h0M300.4 68.0h0M311.8 64.3h0M312.4 63.5h0M306.6 64.4h0M309.3 66.2h0M302.9 67.0h0M305.8 63.0h0M313.3 64.4h0M300.9 67.0h0M310.8 65.0h0M304.7 67.9h0M307.5 64.5h0M311.7 64.7h0M311.6 65.8h0M313.2 64.8h0M306.9 63.9h0M312.8 62.8h0M313.6 64.1h0M311.8 62.6h0M303.0 65.3h0M306.7 68.2h0M312.7 62.8h0M310.6 65.6h0M304.3 65.4h0M308.3 68.1h0M309.6 65.8h0M313.8 61.1h0M310.4 63.9h0M306.1 65.2h0M304.5 68.1h0M302.2 65.5h0M311.7 63.7h0M303.7 65.1h0M313.5 65.1h0M309.4 65.1h0M305.8 67.8h0M310.2 61.9h0M310.6 61.2h0M313.8 64.3h0M313.7 61.0h0M300.7 69.7h0M314.6 64.5h0M311.9 63.9h0M304.4 69.3h0" stroke="#eea21c" stroke-width="1.20" stroke-linecap="round"/>
<path d="M263.0 24.0 C264.5 23.2 266.5 22.8 268.0 23.5 C269.5 24.2 270.8 26.1 272.0 28.0 C273.2 29.9 274.8 32.7 275.5 35.0 C276.2 37.3 276.6 39.7 276.0 42.0 C275.4 44.3 273.5 46.8 272.0 49.0 C270.5 51.2 268.8 54.0 267.0 55.5 C265.2 57.0 263.1 58.6 261.5 58.0 C259.9 57.4 258.4 54.3 257.5 52.0 C256.6 49.7 256.1 46.7 256.0 44.0 C255.9 41.3 256.5 38.7 257.0 36.0 C257.5 33.3 258.0 30.0 259.0 28.0 C260.0 26.0 261.5 24.8 263.0 24.0 Z" fill="#f4d42c"/>
<path d="M273.1 38.4h0M262.0 44.8h0M268.1 50.7h0M263.9 44.8h0M264.5 35.7h0M268.5 33.8h0M259.3 32.4h0M265.1 27.3h0M267.0 46.8h0M273.4 36.8h0M273.8 34.9h0M267.6 53.7h0M257.4 39.7h0M262.6 24.3h0M261.1 57.2h0M268.8 48.8h0M263.8 29.1h0M267.3 27.2h0M272.7 42.0h0M263.2 46.1h0M260.1 55.4h0M273.8 38.4h0M262.6 30.5h0M265.9 44.1h0M270.8 31.4h0M274.4 38.7h0M266.2 32.2h0M265.3 55.2h0M257.2 44.0h0M261.8 46.9h0M260.5 46.6h0M272.9 37.5h0M265.0 48.9h0M268.5 45.1h0M265.0 52.2h0M256.5 43.8h0M275.7 41.2h0M274.2 38.9h0M258.7 36.3h0M262.6 36.5h0M267.6 36.4h0M275.2 42.4h0M266.8 36.9h0M258.4 43.3h0M259.3 36.2h0M271.8 33.8h0M268.2 52.5h0M264.1 50.3h0M264.4 52.2h0M271.3 39.8h0M258.8 49.7h0M271.6 34.7h0M269.6 27.1h0M261.0 55.2h0M263.9 50.5h0M269.6 41.4h0M260.3 31.7h0M266.0 30.0h0M263.5 53.2h0M266.9 42.4h0M257.6 42.4h0M269.3 44.1h0M256.8 48.3h0M264.4 33.0h0M262.1 49.5h0M271.0 38.6h0M257.7 35.0h0M260.2 54.5h0M267.4 49.4h0M266.9 49.5h0M268.5 47.6h0M273.6 35.3h0M258.9 49.1h0M263.4 51.9h0M268.8 51.4h0M257.8 36.6h0M264.1 22.8h0M258.6 47.0h0M259.5 31.7h0M262.2 45.7h0M267.9 46.4h0M256.9 41.1h0M266.2 53.9h0M258.4 48.1h0M260.3 41.6h0M261.2 45.9h0M262.6 48.4h0M269.3 48.6h0M259.2 50.3h0M258.8 41.4h0M261.9 28.0h0M267.8 46.3h0M268.6 52.4h0M264.4 27.8h0M267.1 47.2h0M271.2 31.2h0M268.2 36.3h0M269.2 37.0h0M268.1 38.6h0M256.6 39.5h0M261.1 46.7h0M261.0 35.1h0M275.4 39.7h0M267.5 49.0h0M269.4 35.6h0M265.9 43.6h0M273.8 36.0h0M270.9 48.5h0M258.5 35.1h0M269.0 27.2h0M273.0 39.0h0M269.8 38.3h0M272.7 40.9h0M270.2 34.4h0M265.1 34.1h0M258.4 50.3h0M261.7 49.8h0M261.3 40.4h0M275.1 42.1h0M261.2 37.2h0M257.6 45.3h0M273.0 45.3h0M262.9 26.0h0M274.0 37.0h0M261.6 31.0h0M269.9 28.2h0M269.5 41.6h0M266.7 31.9h0M266.0 48.4h0M271.0 31.3h0M270.9 28.6h0M260.6 48.3h0M264.0 53.5h0M271.2 47.7h0M271.4 27.3h0M272.4 47.3h0M274.2 41.9h0M263.5 24.4h0M258.8 36.8h0M261.7 50.0h0M263.9 49.8h0M260.1 36.9h0M262.0 27.6h0M262.9 50.1h0M271.6 38.0h0M261.7 33.8h0M272.2 44.8h0M260.1 40.3h0M268.2 37.9h0M265.3 23.5h0" stroke="#f4d42c" stroke-width="1.20" stroke-linecap="round"/>
<path d="M272.0 42.3h0M279.9 41.2h0M278.3 31.3h0M284.5 33.4h0M276.7 33.2h0M274.2 42.5h0M275.5 46.0h0M276.7 43.7h0M281.7 42.5h0M279.7 42.4h0M279.4 42.2h0M281.3 32.9h0M282.4 41.6h0M280.7 38.0h0M277.1 31.1h0M282.5 38.2h0M270.6 49.2h0M284.3 37.7h0M276.5 46.9h0M278.4 35.7h0M282.7 42.5h0M282.2 37.2h0M278.2 32.8h0M281.5 43.3h0M276.7 36.2h0M285.3 33.2h0M276.2 45.5h0M272.8 41.8h0M275.6 34.6h0M273.6 47.5h0M270.8 48.1h0M276.7 39.8h0M274.3 32.2h0M276.1 43.8h0M285.1 34.6h0M275.8 42.6h0M279.8 34.9h0M279.3 42.6h0M284.6 39.5h0M286.3 33.0h0M271.4 42.8h0M287.8 35.0h0M273.5 36.0h0M280.6 43.6h0M279.0 32.9h0M282.8 37.9h0M275.6 31.6h0M273.2 46.7h0M274.9 46.2h0M279.2 41.6h0M276.1 47.0h0M275.2 47.0h0M273.1 30.7h0M281.9 40.6h0M273.7 36.1h0M282.0 33.0h0M278.0 33.3h0M271.6 49.9h0M273.2 44.2h0M286.1 32.2h0M277.2 39.2h0M279.9 42.8h0M276.2 38.6h0M274.1 45.2h0M279.9 33.5h0M278.6 41.3h0M280.4 32.8h0M274.1 39.7h0M276.4 33.1h0M275.4 32.4h0M269.9 46.3h0M275.9 40.2h0M284.0 32.7h0M284.7 36.6h0M278.8 30.1h0M277.2 45.0h0M272.0 46.2h0M276.0 33.9h0M279.9 31.4h0M287.2 36.2h0M268.5 48.9h0M281.3 37.5h0M281.4 42.9h0M272.3 43.0h0M270.6 46.8h0M273.3 46.8h0M277.2 34.9h0M281.7 37.8h0M274.1 42.7h0M275.4 37.8h0M274.5 48.1h0M283.5 32.1h0M285.8 34.5h0M273.2 31.7h0M286.6 36.0h0M281.2 34.8h0M273.9 44.9h0M280.0 36.5h0M273.8 49.2h0M281.8 41.6h0M276.5 40.8h0M271.3 46.3h0M277.3 31.0h0M274.9 32.5h0M275.3 41.1h0M271.7 44.0h0M287.8 35.3h0M286.3 31.4h0M278.0 44.0h0M276.6 30.8h0" stroke="#2aaade" stroke-width="1.10" stroke-linecap="round"/>
<ellipse cx="279.8" cy="101.5" rx="15.8" ry="16.8" fill="none" stroke="#3a3a3a" stroke-width="0.8" stroke-dasharray="4.5 3"/>
<path d="M264.5 56.5 C265.9 55.6 267.3 54.1 269.8 55.4 C272.3 56.6 276.6 61.7 279.5 64.0 C282.4 66.3 285.6 67.2 287.0 69.4 C288.4 71.6 288.0 74.8 288.0 77.0 C288.0 79.2 287.6 80.7 287.0 82.3 C286.4 83.9 284.8 84.8 284.4 86.6 C284.0 88.4 286.6 91.8 284.5 93.0 C282.4 94.2 275.8 93.5 272.0 94.0 C268.2 94.5 264.7 95.8 262.0 96.0 C259.3 96.2 257.0 95.8 255.8 95.0 C254.6 94.2 255.2 93.1 254.8 91.0 C254.5 88.9 253.8 85.2 253.7 82.3 C253.6 79.4 253.6 76.2 254.2 73.7 C254.8 71.2 255.8 69.4 257.0 67.2 C258.2 65.0 259.9 62.6 261.2 60.8 C262.4 59.0 263.1 57.4 264.5 56.5 Z" fill="#7ccab2"/>
<path d="M269.0 90.0 C271.8 87.3 281.8 87.0 284.4 88.0 C287.0 89.0 284.3 92.3 284.5 96.0 C284.7 99.7 286.1 107.0 285.5 110.0 C284.9 113.0 283.6 113.3 281.0 114.0 C278.4 114.7 272.2 115.7 270.0 114.0 C267.8 112.3 267.7 108.0 267.5 104.0 C267.3 100.0 266.2 92.7 269.0 90.0 Z" fill="#3aa888"/>
<path d="M249.4 106.0 C249.6 104.7 250.4 103.8 251.5 102.7 C252.6 101.6 254.7 99.3 255.8 99.5 C256.9 99.7 257.9 102.4 258.0 104.0 C258.1 105.6 257.8 107.9 256.5 109.0 C255.2 110.1 251.7 111.3 250.5 110.8 C249.3 110.3 249.2 107.3 249.4 106.0 Z" fill="#4ab090"/>
<path d="M253.9 82.9h0M283.9 83.7h0M281.9 73.8h0M286.4 71.9h0M259.0 72.6h0M270.0 76.1h0M266.5 73.9h0M266.9 89.6h0M276.3 79.3h0M265.9 67.8h0M286.2 72.0h0M259.4 78.7h0M284.4 89.8h0M262.6 81.4h0M266.0 92.2h0M268.7 86.0h0M278.3 79.2h0M276.1 82.8h0M283.4 81.3h0M264.7 86.5h0M256.7 87.3h0M262.1 64.6h0M267.3 61.0h0M261.4 64.2h0M266.4 71.5h0M275.7 89.3h0M275.4 93.6h0M257.0 79.1h0M282.4 76.2h0M273.1 75.1h0M273.7 93.9h0M276.2 91.5h0M272.9 81.2h0M285.9 69.7h0M261.3 89.1h0M274.3 76.1h0M276.1 74.7h0M261.6 69.1h0M266.7 57.6h0M285.1 81.4h0M256.0 80.4h0M280.0 78.0h0M270.0 59.3h0M254.6 82.7h0M282.1 72.1h0M260.4 68.7h0M264.4 69.2h0M271.5 73.4h0M264.9 76.7h0M282.3 87.8h0M286.4 80.2h0M270.6 73.6h0M281.4 84.9h0M265.6 70.1h0M270.7 56.8h0M271.2 94.1h0M268.6 76.6h0M260.5 63.6h0M264.7 57.5h0M263.6 60.9h0M269.9 79.8h0M266.1 93.3h0M283.8 70.4h0M258.6 93.6h0M260.8 66.4h0M276.2 68.8h0M263.2 77.2h0M266.2 90.1h0M286.0 82.9h0M261.3 70.3h0M258.6 67.0h0M264.7 69.4h0M266.7 90.5h0M270.5 66.8h0M258.8 66.0h0M260.8 71.2h0M277.0 74.3h0M258.2 91.2h0M274.4 91.6h0M282.7 78.9h0M261.7 84.9h0M270.0 61.2h0M281.3 72.9h0M262.7 59.4h0M267.7 75.6h0M273.2 89.1h0M276.9 89.4h0M280.8 73.0h0M256.2 92.2h0M272.2 76.9h0M271.3 85.7h0M268.8 93.5h0M275.7 92.9h0M282.2 68.6h0M280.5 79.2h0M278.7 77.1h0M260.7 64.4h0M260.6 67.6h0M268.5 60.1h0M280.2 76.6h0M256.4 81.1h0M266.4 65.7h0M273.5 77.3h0M257.1 68.9h0M267.7 58.9h0M282.3 79.5h0M259.0 68.1h0M284.0 92.5h0M266.8 77.0h0M268.5 67.5h0M283.5 91.2h0M277.0 78.0h0M261.5 72.1h0M258.9 74.6h0M267.3 88.8h0M263.7 87.8h0M269.3 65.7h0M259.7 78.9h0M270.7 64.9h0M260.2 62.9h0M257.1 78.5h0M274.0 70.9h0M268.5 65.6h0M257.2 72.7h0M256.8 91.0h0M257.0 77.8h0M269.8 82.1h0M282.6 79.5h0M271.9 79.1h0M255.6 82.8h0M276.0 70.1h0M275.0 80.9h0M281.7 72.6h0M272.5 92.7h0M264.9 74.9h0M263.7 77.9h0M269.2 62.8h0M262.7 85.2h0M286.7 74.3h0M276.5 76.0h0M267.2 64.2h0M266.8 70.1h0M272.4 66.9h0M263.8 76.6h0M278.5 79.3h0M274.4 87.6h0M270.7 75.2h0M268.4 91.0h0M272.1 88.8h0M259.6 69.6h0M259.9 91.1h0M266.5 57.4h0M271.7 65.2h0M267.8 80.1h0M277.0 93.7h0M275.9 65.7h0M271.1 60.2h0M269.0 75.5h0M265.9 80.3h0M264.8 63.6h0M268.2 67.9h0M268.4 58.9h0M258.9 69.4h0M260.8 70.7h0M270.7 86.1h0M266.4 94.4h0M273.8 62.0h0M262.0 84.9h0M264.5 63.2h0M267.7 58.1h0M283.4 77.8h0M272.0 87.4h0M282.7 92.0h0M275.9 92.1h0M265.1 67.8h0M270.2 90.4h0M265.1 79.1h0M281.0 82.3h0M274.3 83.4h0M271.5 65.6h0M265.3 93.0h0M278.4 70.3h0M262.3 59.2h0M264.8 75.1h0M257.7 79.2h0M264.7 80.2h0M264.4 94.5h0M268.4 77.3h0M275.3 87.0h0M263.3 84.7h0M259.4 77.8h0M274.5 79.3h0M277.6 90.9h0M271.6 86.3h0M255.4 71.0h0M265.0 83.4h0M267.6 73.2h0M259.0 89.7h0M285.3 72.8h0M262.6 62.0h0M258.6 91.5h0M261.3 86.4h0M271.1 70.0h0M262.4 75.3h0M266.6 75.9h0M275.1 89.9h0M254.5 85.4h0M264.6 73.1h0M258.2 88.1h0M283.7 68.8h0M270.0 62.2h0M280.9 79.7h0M263.3 79.9h0M255.9 70.5h0M284.4 69.1h0M272.8 62.1h0M257.6 83.8h0M255.5 71.7h0M265.9 86.3h0M273.7 77.5h0M256.7 75.2h0M286.9 78.9h0M268.8 89.9h0M268.4 86.8h0M269.5 62.6h0M255.7 74.2h0M271.1 78.2h0M263.1 84.9h0M263.6 87.8h0M277.3 69.8h0M287.6 78.5h0M257.4 82.3h0M280.1 90.5h0M277.2 81.5h0M272.5 74.0h0M263.0 85.5h0M267.8 83.7h0M258.2 71.2h0M257.0 91.1h0M261.0 81.7h0M274.4 71.8h0M271.4 60.1h0M269.2 87.6h0M271.1 58.4h0M278.1 82.8h0M266.6 76.4h0M263.3 79.9h0M267.8 70.2h0M263.0 66.4h0M266.4 89.1h0M273.2 59.0h0M255.3 82.6h0M263.5 72.5h0M258.2 79.0h0M261.7 93.9h0M281.4 84.9h0M267.0 84.3h0M269.9 76.0h0M264.4 82.4h0M286.6 73.3h0M283.3 74.0h0M255.8 88.8h0M262.3 79.8h0M268.6 87.0h0M279.2 79.5h0M264.7 76.4h0M260.9 85.8h0M259.1 69.2h0M284.1 89.6h0M268.6 80.2h0M264.5 65.9h0M268.5 83.3h0M278.2 65.2h0M261.3 70.0h0M260.8 77.0h0M284.9 83.9h0M269.2 88.7h0M278.3 74.8h0M260.3 84.8h0M267.9 80.2h0M281.1 76.7h0M268.9 86.4h0M264.6 94.9h0M256.9 75.7h0M268.6 66.1h0M260.2 86.2h0M267.3 83.2h0M266.6 87.2h0M275.1 74.6h0M269.7 70.7h0M267.5 63.8h0M261.2 66.3h0M258.5 81.9h0M268.0 64.0h0M285.1 75.0h0M265.5 89.8h0M274.2 66.2h0M259.7 93.4h0M262.5 78.2h0M259.6 86.6h0M254.6 74.0h0M283.4 83.4h0M260.9 86.1h0M264.5 59.6h0M261.1 66.9h0M277.1 87.6h0M285.4 68.7h0M269.5 86.9h0M259.2 66.8h0M264.4 65.0h0M267.2 77.6h0M274.4 84.6h0M257.0 93.0h0M265.1 64.2h0M275.0 71.8h0M260.8 88.2h0M271.8 70.4h0M266.8 86.8h0M273.5 67.7h0M263.0 68.9h0M260.9 82.3h0M268.1 70.4h0M266.4 89.2h0M267.7 74.1h0M267.1 84.7h0M266.4 70.1h0M282.1 84.3h0M268.5 75.4h0M272.4 79.2h0M272.3 72.3h0M285.0 82.0h0M254.6 80.9h0M267.7 64.7h0M261.5 88.8h0M270.3 63.3h0M267.3 64.5h0M275.1 76.8h0M280.1 80.9h0M276.6 68.5h0M261.8 90.6h0M278.8 78.3h0M258.1 73.2h0M275.4 93.5h0M254.6 85.2h0M267.7 91.6h0M265.2 87.9h0M275.7 70.2h0M277.5 69.1h0M275.7 89.9h0M277.4 88.8h0M273.2 87.7h0M272.5 89.6h0M262.4 66.5h0M286.7 81.1h0M274.8 74.2h0M266.2 63.3h0M263.5 83.9h0M264.8 85.3h0M264.7 74.0h0M258.3 92.3h0M265.3 86.8h0M265.5 95.1h0M259.4 74.9h0M286.5 69.0h0M268.3 71.8h0M283.4 90.2h0M263.8 93.7h0M283.3 87.5h0M279.9 81.7h0M255.2 79.1h0M279.2 65.9h0M268.5 88.5h0M274.5 83.4h0M258.8 72.3h0M264.6 67.4h0M268.1 56.9h0M267.2 73.9h0M283.1 82.5h0M275.1 77.7h0M269.5 79.0h0M278.0 82.5h0M263.3 65.5h0M262.3 62.8h0M267.1 66.2h0M283.0 86.7h0M272.1 73.9h0M281.9 84.7h0M277.8 71.7h0M259.1 67.3h0M254.2 74.1h0M282.0 91.4h0M260.2 92.8h0M281.2 83.3h0M262.1 77.3h0M285.2 91.6h0M279.6 67.5h0M269.8 87.4h0M265.0 94.6h0M274.7 83.7h0M257.7 79.3h0M276.1 70.6h0M267.5 66.9h0M284.3 83.6h0M258.6 90.8h0M279.4 87.8h0M272.3 89.6h0M274.4 63.9h0M271.1 72.6h0M267.4 79.8h0M275.5 77.4h0M269.2 58.6h0M284.6 73.6h0M259.6 69.0h0M256.0 80.4h0M277.2 73.0h0M276.3 61.1h0M270.5 90.1h0M256.7 77.9h0M269.3 76.4h0M259.9 69.6h0M277.4 91.0h0M279.9 91.4h0M277.4 93.3h0M274.7 73.6h0M277.8 79.7h0M269.7 60.1h0M273.1 76.8h0M283.4 82.7h0M282.1 69.9h0M256.4 72.8h0M265.1 85.5h0M263.8 65.9h0M254.5 78.6h0M267.3 93.8h0M260.6 83.1h0M263.5 92.8h0M264.8 65.6h0M255.0 75.4h0M277.7 65.7h0M280.0 88.3h0M256.1 91.6h0M257.3 87.8h0M263.6 94.2h0M267.9 87.3h0M259.7 72.9h0M254.6 80.0h0M271.0 71.4h0M288.3 76.4h0M268.9 79.7h0M260.6 76.2h0M258.9 77.1h0M254.6 81.7h0M275.9 74.9h0M268.4 89.5h0M257.9 77.3h0M257.9 90.5h0M255.7 94.8h0M281.4 70.3h0M260.9 78.5h0M254.6 73.8h0M272.4 80.1h0M268.3 92.0h0M285.6 82.5h0M261.9 78.7h0M277.6 88.0h0M262.4 78.9h0M285.2 80.8h0M284.6 67.8h0M268.0 57.1h0M263.2 76.9h0M267.5 59.2h0M264.1 63.4h0M276.8 62.4h0M270.1 57.3h0M283.1 70.9h0M275.6 71.6h0M280.3 86.8h0M272.2 60.0h0M277.1 65.8h0M272.3 89.1h0M260.9 69.9h0M256.3 80.3h0M271.7 74.5h0M281.7 90.9h0M281.0 76.9h0M269.0 85.8h0M277.4 86.8h0M268.6 85.3h0M280.7 70.1h0M264.3 88.6h0M268.4 80.6h0M279.0 90.5h0M284.6 91.0h0M281.6 78.1h0M258.8 95.0h0M261.8 63.6h0M264.0 81.0h0M271.8 90.0h0M267.1 66.1h0M269.9 73.9h0M264.3 90.9h0M268.6 57.7h0M274.1 77.1h0M268.3 93.7h0M256.6 87.7h0M271.8 84.8h0M260.4 67.5h0M260.7 80.6h0M264.0 81.3h0M268.1 57.3h0M260.6 85.2h0M275.7 63.4h0M261.7 78.7h0M285.7 73.4h0M266.1 65.8h0M265.5 58.3h0M256.8 72.0h0M264.1 63.4h0M264.7 89.1h0M255.8 87.6h0M258.7 90.6h0M258.9 73.5h0M287.6 77.8h0M264.7 60.4h0M269.7 87.6h0M279.6 80.5h0M275.4 71.6h0M255.6 71.6h0M286.0 76.7h0M286.8 72.5h0M266.1 90.6h0M263.9 71.8h0M263.2 58.8h0M258.8 85.2h0M255.2 85.5h0M269.3 60.6h0M269.9 56.0h0M262.1 77.6h0M269.5 77.1h0M263.3 68.5h0M263.4 92.1h0M271.4 62.5h0M274.3 80.0h0M283.3 87.8h0M265.2 57.2h0M272.9 62.0h0M283.8 91.4h0M283.1 76.5h0M264.4 79.4h0M274.5 62.9h0M261.6 93.1h0M266.0 93.5h0M265.6 70.0h0M271.1 85.3h0M267.2 93.5h0M287.1 77.8h0M265.2 75.0h0M283.2 81.8h0M287.8 76.9h0M282.6 71.9h0M268.6 67.0h0M273.8 76.4h0M281.0 75.7h0M269.3 72.7h0M278.5 90.8h0M275.1 91.3h0M260.2 87.8h0M265.0 65.6h0M284.3 79.3h0M266.8 86.9h0M272.3 77.8h0M271.4 70.7h0M285.6 77.9h0M276.9 82.7h0M284.5 74.3h0M282.6 81.0h0M267.6 86.1h0M258.5 87.2h0M282.6 87.2h0M286.3 75.0h0M277.0 90.2h0M263.3 62.4h0M280.2 78.7h0M269.8 61.9h0M266.6 78.7h0M277.8 79.0h0M273.1 91.9h0M272.5 85.6h0M260.6 85.9h0M270.4 74.6h0M260.6 72.1h0M274.1 87.1h0M272.0 90.2h0M270.3 59.9h0M260.7 68.3h0M279.7 71.8h0M275.1 86.9h0M275.8 89.2h0M259.2 94.7h0M261.1 91.5h0M275.0 70.5h0M275.0 63.1h0M280.7 93.1h0M271.2 69.2h0M271.5 59.2h0M280.8 91.6h0M261.5 66.1h0M275.6 89.5h0M266.7 93.5h0M276.7 70.8h0M267.4 68.4h0M262.0 82.1h0M272.0 93.1h0M283.6 88.4h0M279.2 66.1h0M286.8 73.2h0M277.4 63.0h0M281.2 89.1h0M284.0 78.5h0M276.3 81.0h0M256.9 70.9h0M258.9 89.9h0M270.9 57.1h0M278.9 76.0h0M275.8 74.3h0M285.6 74.1h0M276.7 78.2h0M265.7 82.8h0M261.8 66.7h0M288.5 77.8h0M275.7 68.8h0M265.5 91.0h0M269.7 56.4h0M268.2 57.9h0M264.2 83.9h0M267.6 63.5h0M275.5 74.1h0M261.4 80.3h0M259.6 74.8h0M281.4 77.8h0M284.3 72.3h0M262.3 77.9h0M261.9 68.1h0M270.2 64.4h0M282.1 73.5h0M271.6 61.0h0M282.1 84.7h0M282.1 66.2h0M275.9 92.9h0M278.4 91.4h0M264.2 79.3h0M262.6 78.6h0M270.3 69.7h0M275.6 87.0h0M286.4 80.6h0M274.8 68.7h0M264.5 79.0h0M275.0 91.4h0M275.2 62.5h0M279.2 73.2h0M263.0 65.0h0M264.0 92.5h0M257.4 91.2h0M280.1 69.6h0M260.9 85.2h0M268.8 76.3h0M269.8 93.9h0M268.5 93.6h0M278.8 85.8h0M257.8 83.4h0M270.8 62.2h0M255.5 74.9h0M275.4 81.1h0M273.2 90.3h0M261.8 69.3h0M279.1 76.2h0M280.3 90.4h0M269.6 62.5h0M276.0 88.3h0M266.7 92.7h0M265.0 61.4h0M260.3 63.4h0M263.0 74.8h0M262.6 81.6h0M266.7 56.2h0M262.6 71.3h0M259.1 66.2h0M274.1 65.2h0M274.7 65.4h0M265.5 82.4h0M277.7 84.6h0M263.9 63.3h0M269.6 64.8h0M257.0 86.5h0M256.7 95.6h0M273.8 76.9h0M267.1 62.6h0M276.7 90.5h0M268.1 70.1h0M261.9 76.0h0M285.1 70.0h0M264.1 80.2h0M260.6 85.8h0M260.1 79.5h0M266.1 89.0h0M266.9 79.8h0M268.1 71.2h0M269.7 91.3h0M273.6 75.9h0M263.6 82.0h0M273.2 68.2h0M272.7 84.7h0M279.9 92.6h0M272.5 88.3h0M283.7 79.9h0M273.1 71.8h0M287.1 70.0h0M263.9 70.3h0M280.8 68.9h0M257.3 68.1h0M259.3 71.0h0M283.7 87.7h0M268.8 75.9h0M262.7 86.4h0M277.1 91.5h0M262.8 65.0h0M260.5 67.2h0M278.9 83.1h0M261.6 81.8h0M259.2 66.3h0M260.0 65.0h0M264.0 77.3h0M260.1 85.0h0M281.9 82.5h0M268.7 77.1h0M260.7 92.7h0M263.4 78.6h0M276.6 88.3h0M279.3 93.1h0M263.2 86.4h0M262.0 62.9h0M284.1 67.7h0M257.2 92.6h0M262.1 95.3h0M265.2 78.8h0M262.2 75.1h0M270.2 90.2h0M270.5 78.4h0M254.7 77.5h0M270.3 59.0h0M266.6 66.8h0M257.6 88.5h0M267.1 85.2h0M278.9 92.7h0M286.4 76.5h0M284.6 78.7h0M284.0 79.2h0M284.3 83.1h0M261.5 93.5h0M282.2 68.6h0M281.5 76.4h0M270.7 87.1h0M268.4 85.5h0M274.5 89.4h0M283.3 90.6h0M276.8 75.4h0M269.5 64.4h0M261.3 66.9h0M273.0 61.7h0M261.4 94.9h0M280.0 82.1h0M281.5 66.9h0M286.6 70.2h0M270.6 93.5h0M269.1 70.3h0M275.2 93.4h0M264.9 84.1h0M257.6 93.0h0M279.6 71.8h0M254.5 85.3h0M270.6 63.2h0M267.3 82.5h0M276.2 84.1h0M268.3 90.5h0M268.6 62.1h0M263.5 69.3h0M262.9 78.1h0M257.6 89.0h0M255.8 90.5h0M256.8 76.5h0M275.9 76.5h0M269.1 86.9h0M267.3 88.8h0M269.1 81.8h0M267.9 69.4h0M278.6 76.3h0M265.7 94.7h0M263.2 68.5h0M283.8 92.3h0M254.3 82.4h0" stroke="#139a7a" stroke-width="1.20" stroke-linecap="round"/>
<path d="M279.3 101.8h0M272.0 113.0h0M275.3 92.3h0M280.4 95.7h0M281.5 103.5h0M281.3 102.3h0M284.7 103.3h0M280.3 108.0h0M271.0 100.4h0M275.1 91.0h0M284.1 91.9h0M275.7 98.0h0M277.8 108.8h0M279.0 94.5h0M273.9 92.3h0M273.9 91.0h0M275.9 103.7h0M273.6 99.9h0M273.9 102.6h0M276.6 90.6h0M270.9 96.7h0M281.4 113.2h0M273.7 113.0h0M270.7 95.6h0M279.8 103.4h0M284.9 104.3h0M273.8 93.4h0M269.8 107.3h0M271.3 94.0h0M280.2 97.6h0M277.7 104.4h0M282.5 94.9h0M276.1 96.6h0M275.0 89.8h0M275.7 98.4h0M277.9 109.5h0M276.5 108.8h0M270.5 94.4h0M279.9 92.0h0M270.1 95.8h0M275.5 93.4h0M273.7 108.6h0M280.9 96.5h0M273.7 102.4h0M270.1 104.1h0M273.9 93.6h0M283.7 90.7h0M282.4 102.6h0M278.2 108.4h0M276.0 91.7h0M270.9 98.4h0M268.6 94.4h0M283.1 103.8h0M278.7 93.4h0M276.6 90.0h0M275.9 111.2h0M280.6 90.7h0M273.6 94.4h0M283.1 105.0h0M279.6 96.6h0M269.9 100.1h0M273.8 97.2h0M268.2 103.1h0M283.4 97.4h0M279.1 91.8h0M282.4 108.4h0M279.2 100.4h0M272.0 96.7h0M280.6 101.4h0M276.7 108.4h0M269.3 104.5h0M272.9 92.6h0M278.8 103.9h0M277.4 94.0h0M275.9 113.5h0M281.1 102.4h0M269.8 92.0h0M283.5 109.9h0M273.0 92.6h0M272.2 103.5h0M268.4 104.0h0M275.6 89.4h0M273.1 107.9h0M272.8 107.0h0M276.2 105.6h0M272.4 101.8h0M273.4 95.9h0M272.5 106.3h0M270.2 112.6h0M271.6 109.4h0M270.9 98.1h0M273.5 95.5h0M275.2 90.3h0M283.2 89.6h0M280.2 111.0h0M279.3 94.7h0M282.4 93.1h0M281.7 107.9h0M281.5 111.9h0M284.0 104.0h0M277.7 101.4h0M278.4 101.1h0M269.4 104.3h0M283.8 100.4h0M277.5 112.6h0M282.0 109.9h0M281.3 110.4h0M268.6 104.3h0M277.7 97.5h0M272.9 95.1h0M276.5 113.0h0M269.3 106.3h0M276.0 112.5h0M284.2 95.0h0M282.4 88.7h0M280.3 95.0h0M278.4 96.8h0M269.5 104.6h0M282.6 92.5h0M282.8 101.4h0M282.6 113.4h0M274.7 98.8h0M270.6 98.8h0M284.0 88.9h0M269.8 95.1h0M280.6 104.0h0M271.8 100.9h0M268.6 104.5h0M279.8 95.3h0M279.6 110.3h0M283.7 110.3h0M281.6 106.5h0M282.7 107.4h0M279.9 108.9h0M273.0 103.3h0M283.8 93.8h0M278.2 113.1h0M269.2 98.3h0M274.2 100.1h0M284.7 102.1h0M272.7 106.0h0M281.0 100.1h0M277.3 111.7h0M269.9 110.5h0M275.9 97.2h0M278.7 108.0h0M284.2 107.9h0M276.6 96.2h0M280.5 114.0h0M280.8 99.6h0M284.4 103.0h0M274.1 90.0h0M283.3 91.5h0M272.7 101.4h0M270.6 101.4h0M275.9 109.2h0M282.2 110.6h0M277.7 89.8h0M277.2 89.6h0M268.8 97.5h0M269.1 109.1h0M281.3 92.2h0M275.4 90.2h0M278.9 107.7h0M284.4 100.7h0M280.5 104.0h0M281.6 103.8h0M279.8 91.6h0M277.7 97.5h0M277.4 107.6h0M282.0 112.5h0M283.4 93.7h0M277.0 113.9h0M277.4 102.5h0M284.4 93.2h0M273.7 106.4h0M272.4 106.0h0M272.7 111.7h0M277.9 109.8h0M273.0 89.7h0M281.8 94.9h0M268.1 104.0h0M273.5 99.5h0M276.2 94.7h0M274.9 100.6h0M275.7 99.3h0M271.0 111.7h0M269.6 95.8h0M269.5 108.8h0M272.0 90.3h0M282.2 110.2h0M280.5 95.8h0M276.0 105.1h0M272.6 101.6h0M278.5 107.1h0M276.7 98.5h0M271.8 98.7h0M271.9 94.9h0M271.4 98.8h0M283.4 111.0h0M281.8 101.5h0M276.8 102.6h0M279.3 101.7h0M284.2 103.6h0M271.7 108.9h0M275.1 96.0h0M270.5 104.9h0M274.8 98.5h0M273.3 112.3h0M268.7 93.8h0M275.4 104.6h0M275.4 100.7h0M273.6 99.6h0M278.5 105.5h0M283.9 108.3h0M275.1 111.9h0M268.8 101.6h0M271.8 93.2h0M270.6 104.4h0M273.7 94.9h0M282.9 96.4h0M282.3 91.0h0M275.2 103.6h0M282.8 108.3h0M285.2 107.9h0M284.6 107.4h0M270.6 92.5h0M279.6 89.4h0M284.1 106.4h0M278.2 96.1h0M280.2 104.4h0M279.9 103.9h0M271.3 104.8h0M281.6 96.3h0M276.5 112.7h0M280.1 98.8h0M282.7 97.7h0M276.6 94.8h0M274.2 101.4h0M268.5 98.0h0M272.9 110.8h0M271.2 97.1h0M281.5 105.3h0M278.2 97.0h0M278.6 105.0h0M275.6 91.0h0M271.0 111.2h0M269.2 103.7h0M283.7 109.4h0M275.7 95.4h0M268.8 103.1h0M279.7 92.9h0M275.6 90.9h0M281.3 92.0h0M280.5 99.0h0M280.7 106.2h0M275.2 107.4h0M274.0 93.6h0M269.5 106.6h0M269.2 98.9h0M279.6 94.4h0M280.8 94.9h0M275.0 105.2h0M277.1 96.5h0M282.1 111.2h0M268.2 105.2h0M271.6 94.7h0M276.6 98.1h0M274.3 93.0h0M282.6 107.7h0M280.2 96.4h0M274.0 113.1h0M279.2 89.2h0M275.5 92.2h0M280.3 98.7h0M268.6 108.5h0M280.3 91.3h0M270.3 99.4h0M271.2 98.3h0M280.6 95.7h0M284.6 88.4h0M275.9 93.1h0M280.6 106.1h0M278.0 109.3h0M276.0 102.0h0M284.4 98.8h0M280.8 98.0h0M275.8 101.6h0M283.5 93.7h0M280.1 108.4h0M272.1 95.9h0M273.2 102.3h0M275.4 100.9h0M270.1 95.3h0M275.2 99.8h0M268.7 92.6h0M281.9 93.3h0M274.5 101.6h0M273.5 110.1h0M269.5 95.9h0" stroke="#0e8a68" stroke-width="1.20" stroke-linecap="round"/>
<path d="M263.7 104.4h0M258.5 99.0h0M267.9 94.7h0M266.7 97.0h0M260.3 98.6h0M259.4 103.8h0M267.7 99.9h0M264.3 102.5h0M259.8 108.5h0M268.5 110.6h0M261.7 104.2h0M263.0 106.9h0M266.6 109.1h0M260.8 93.1h0M266.2 106.0h0M263.4 94.6h0M259.8 104.5h0M261.1 98.9h0M255.1 92.7h0M265.4 94.4h0M259.9 103.7h0M266.1 95.6h0M262.8 93.7h0M263.1 105.3h0M268.2 100.9h0M267.9 97.1h0M264.1 101.9h0M267.3 95.6h0M260.4 103.0h0M259.5 91.9h0M268.8 112.9h0M261.8 96.3h0M267.9 102.4h0M266.5 109.4h0M268.0 96.0h0M268.3 99.4h0M259.3 101.9h0M259.1 107.2h0M268.3 95.4h0M269.1 93.4h0M264.4 96.2h0M266.7 95.4h0M266.8 102.8h0M264.2 111.8h0M259.0 106.5h0M262.4 96.3h0M258.4 104.2h0M265.0 102.1h0M259.4 91.6h0M266.0 110.4h0M265.1 111.4h0M263.8 94.0h0M258.1 99.7h0M267.8 101.5h0M257.7 99.8h0M262.9 93.0h0M258.3 102.9h0M269.6 96.8h0M264.1 107.6h0M261.5 94.3h0M262.7 92.1h0M268.3 102.1h0M265.3 110.6h0M262.4 96.5h0M264.9 91.7h0M261.7 106.3h0M260.3 108.7h0M262.6 108.0h0M261.8 104.7h0M267.7 106.7h0M269.1 107.3h0M264.6 106.1h0M264.9 104.7h0M267.1 98.5h0M263.8 97.5h0M266.0 109.1h0M265.9 111.8h0M258.7 94.2h0M269.3 94.7h0M267.4 111.5h0M262.4 97.6h0M258.9 104.7h0M257.3 101.2h0M263.2 99.9h0M257.5 95.9h0M261.6 104.3h0M264.5 105.6h0M262.0 94.1h0M268.1 109.7h0M268.0 100.2h0M256.3 99.2h0M256.2 97.5h0M265.5 98.0h0M259.9 104.0h0M265.1 94.1h0M263.5 106.8h0M260.2 98.1h0M261.6 92.0h0M266.8 100.0h0M262.8 93.6h0M267.5 95.9h0M259.4 102.9h0M267.4 106.3h0M260.3 103.5h0M261.1 103.5h0M257.3 97.2h0M261.9 100.1h0M256.5 92.2h0M260.3 108.3h0M266.4 101.3h0M265.2 94.7h0M265.3 93.7h0M267.0 112.8h0M260.6 99.3h0M264.3 103.0h0M260.9 109.2h0M264.2 109.3h0M262.2 107.7h0M256.4 92.8h0M265.5 106.4h0" stroke="#139a7a" stroke-width="1.20" stroke-linecap="round"/>
<path d="M251.9 106.5h0M251.5 103.0h0M252.3 103.3h0M251.4 109.3h0M250.4 110.6h0M252.4 105.6h0M253.8 102.1h0M254.3 106.2h0M256.3 107.4h0M252.7 110.0h0M250.3 108.2h0M250.5 106.6h0M252.9 107.9h0M255.0 102.0h0M254.3 102.4h0M254.1 100.2h0M254.4 106.8h0M255.5 106.0h0M252.7 101.5h0M252.6 104.0h0M255.6 104.2h0M253.9 107.6h0M251.7 108.5h0M254.1 105.3h0M256.3 103.9h0M254.3 102.5h0M258.0 104.1h0M254.2 104.4h0M250.2 109.7h0M254.5 107.7h0M252.2 109.8h0M254.7 105.2h0M254.5 104.3h0M250.8 107.1h0M255.8 102.1h0M253.7 103.4h0M251.9 108.7h0M255.1 103.7h0M253.2 105.8h0M251.3 103.3h0M251.2 105.3h0M250.2 106.0h0M255.0 103.1h0M252.8 109.6h0M255.8 103.4h0M256.3 107.5h0M251.9 107.1h0M256.0 100.3h0M254.5 108.6h0M252.6 108.3h0M252.3 107.3h0M250.7 108.4h0M253.5 105.3h0M255.1 103.7h0M254.9 107.3h0M256.8 105.6h0M250.2 105.2h0M256.4 107.1h0M253.6 108.2h0M253.9 103.3h0M254.8 109.0h0M253.8 102.2h0M255.2 102.4h0M255.3 100.8h0M255.9 103.2h0M255.7 101.1h0M249.5 108.4h0M257.3 104.4h0M252.9 105.8h0M251.5 104.9h0" stroke="#139a7a" stroke-width="1.20" stroke-linecap="round"/>
<path d="M276.5 68.7h0M274.5 69.0h0M276.5 60.1h0M276.2 68.2h0M284.8 68.2h0M274.7 73.3h0M266.3 58.8h0M266.4 60.1h0M277.2 71.5h0M266.6 60.2h0M283.4 68.2h0M274.5 71.8h0M283.2 69.3h0M269.9 58.3h0M271.0 67.0h0M269.6 66.0h0M278.2 71.9h0M268.8 57.4h0M271.5 58.7h0M273.7 71.9h0M284.4 70.9h0M282.2 69.4h0M275.9 66.4h0M281.3 68.8h0M272.8 58.4h0M271.1 68.4h0M280.0 69.1h0M276.4 63.1h0M272.6 59.2h0M279.3 61.1h0M285.2 71.6h0M272.5 66.9h0M269.4 60.5h0M286.0 73.2h0M270.7 68.0h0M272.9 65.0h0M280.4 68.3h0M273.0 60.5h0M267.5 62.0h0M267.8 65.7h0M277.3 59.9h0M268.3 63.0h0M283.0 68.6h0M264.1 56.9h0M276.7 59.9h0M274.2 61.7h0M268.8 64.2h0M279.8 67.5h0M266.7 60.2h0M264.9 57.4h0M285.5 74.0h0M266.6 62.7h0M271.0 57.5h0M267.0 67.4h0M273.1 57.9h0M266.8 61.2h0M285.1 68.7h0M264.4 62.5h0M277.7 72.9h0M274.5 59.9h0M272.0 60.7h0M276.6 72.4h0M276.8 70.4h0M263.9 59.9h0M275.1 60.2h0M264.2 59.0h0M266.1 64.0h0M277.1 69.4h0M278.5 63.0h0M270.0 56.9h0M274.5 64.1h0M266.5 62.3h0M275.2 67.0h0M276.9 61.9h0M281.1 74.6h0M282.1 71.1h0M282.0 63.5h0M277.9 69.0h0M270.8 61.3h0M265.5 60.7h0M286.1 73.5h0M277.2 69.3h0M264.7 59.6h0M272.9 61.0h0M272.0 67.5h0M267.5 59.0h0M271.7 58.0h0M269.3 55.8h0M265.4 61.3h0M274.2 67.4h0" stroke="#2aaade" stroke-width="1.10" stroke-linecap="round"/>
<path d="M278.8 64.1h0M260.1 76.7h0M272.2 71.8h0M266.8 63.5h0M259.8 81.5h0M275.4 82.3h0M264.1 68.6h0M282.5 76.4h0M281.7 67.5h0M268.8 57.8h0M276.7 74.5h0M273.3 74.1h0M280.1 76.4h0M259.8 68.2h0M270.7 80.7h0M276.8 64.4h0M279.3 67.6h0M280.9 76.2h0M280.1 75.3h0M275.1 72.7h0M285.8 81.2h0M274.9 76.8h0M286.2 77.3h0M270.0 79.8h0M268.5 76.7h0M268.0 67.0h0M257.4 68.0h0M281.6 74.2h0M281.1 84.4h0M272.7 84.2h0M260.6 61.1h0M261.9 80.0h0M274.7 75.8h0M271.9 59.1h0M266.6 68.5h0M277.9 79.9h0M271.5 64.6h0M271.6 73.1h0M272.0 67.6h0M260.0 61.9h0M282.8 83.6h0M264.7 73.3h0M277.2 73.5h0M269.9 77.0h0M267.3 74.7h0M261.6 76.1h0M278.4 67.1h0M269.2 82.5h0M287.1 78.0h0M285.1 83.7h0M269.3 65.7h0M280.7 69.0h0M256.9 69.4h0M281.1 72.1h0M264.5 80.6h0M284.3 81.1h0M260.0 77.2h0M275.4 63.3h0M256.9 70.9h0M279.7 66.2h0M283.7 75.4h0M261.1 60.6h0M269.2 59.1h0M275.3 61.4h0M280.8 72.8h0M260.0 77.5h0M286.9 72.0h0M258.7 68.3h0M286.1 70.5h0M274.2 65.1h0M259.6 71.8h0M255.9 69.3h0M277.4 84.9h0M278.2 82.8h0M277.8 67.2h0M259.4 67.3h0M265.0 67.2h0M259.4 71.9h0M282.6 82.3h0M274.6 65.5h0M268.9 58.3h0M287.2 82.2h0M266.8 73.1h0M276.8 72.6h0M271.6 74.3h0M258.7 67.4h0M269.0 61.2h0M285.2 78.8h0M270.0 75.4h0M274.1 83.2h0M273.0 82.3h0M266.1 83.0h0M259.5 63.3h0M264.5 68.8h0M263.9 70.0h0M284.4 70.7h0M271.4 68.1h0M269.8 74.8h0M279.7 79.8h0M263.4 64.0h0M280.8 69.0h0M271.6 62.2h0M268.6 67.2h0M262.3 64.0h0M261.7 77.8h0M260.7 62.2h0M269.1 64.6h0M271.5 71.8h0M261.8 57.5h0M274.5 67.0h0M285.7 80.3h0M272.8 78.4h0M275.3 81.3h0M265.8 67.8h0M266.9 65.1h0M268.7 56.6h0M278.4 76.6h0M282.7 68.6h0M274.1 75.6h0M271.0 63.9h0M273.7 67.3h0M268.8 71.2h0M280.4 66.8h0M270.6 69.8h0M259.4 67.2h0M269.3 79.8h0M270.9 82.2h0M283.7 75.6h0M257.5 71.0h0M271.5 62.6h0" stroke="#e4f4ee" stroke-width="1.10" stroke-linecap="round"/>
<defs><radialGradient id="dgk" cx="0.5" cy="0.5" r="0.5"><stop offset="0" stop-color="#0a0505" stop-opacity="0.95"/><stop offset="0.45" stop-color="#1a1a1a" stop-opacity="0.75"/><stop offset="0.75" stop-color="#505050" stop-opacity="0.35"/><stop offset="1" stop-color="#909090" stop-opacity="0"/></radialGradient><linearGradient id="dgs" x1="0" x2="0" y1="0" y2="1"><stop offset="0" stop-color="#063a26" stop-opacity="0"/><stop offset="0.4" stop-color="#063a26" stop-opacity="0.6"/><stop offset="1" stop-color="#042a1c" stop-opacity="0.8"/></linearGradient><radialGradient id="dgr" cx="0.5" cy="0.5" r="0.5"><stop offset="0" stop-color="#fff" stop-opacity="1"/><stop offset="0.7" stop-color="#fff" stop-opacity="0.9"/><stop offset="1" stop-color="#fff" stop-opacity="0"/></radialGradient></defs>
<defs><filter id="blr1" x="-30%" y="-30%" width="160%" height="160%"><feGaussianBlur stdDeviation="1"/></filter></defs>
<path d="M272 94 Q277 89 283 90 L284 113.5 L272 113.5 Q270 104 272 94 Z" fill="url(#dgs)" filter="url(#blr1)"/>
<ellipse cx="284" cy="104" rx="6.5" ry="12.5" fill="url(#dgk)"/>
<g fill="none" stroke="#98686a" stroke-width="0.6"><path d="M260 58 Q258.5 40 260 30 Q262 22.5 265 23 Q269 24 269.3 32 Q270 44 267 54"/><ellipse cx="265" cy="36.5" rx="3.1" ry="10.5"/><ellipse cx="265.2" cy="36" rx="1.7" ry="5.5"/><path d="M260 58 Q254 64 253.5 76 Q254 84 257 86"/></g>
<circle cx="242.00" cy="84.00" r="0.80" fill="#555"/>
<path d="M384.0 52.0 C385.0 48.5 387.7 47.0 390.0 45.0 C392.3 43.0 395.3 41.5 398.0 40.0 C400.7 38.5 403.3 36.3 406.0 36.0 C408.7 35.7 411.7 37.3 414.0 38.0 C416.3 38.7 418.0 38.7 420.0 40.0 C422.0 41.3 424.7 43.3 426.0 46.0 C427.3 48.7 428.3 53.3 428.0 56.0 C427.7 58.7 426.3 61.0 424.0 62.0 C421.7 63.0 417.3 61.7 414.0 62.0 C410.7 62.3 407.0 63.0 404.0 64.0 C401.0 65.0 398.7 66.3 396.0 68.0 C393.3 69.7 390.0 74.3 388.0 74.0 C386.0 73.7 384.7 69.7 384.0 66.0 C383.3 62.3 383.0 55.5 384.0 52.0 Z" fill="#b4e0f2"/>
<path d="M419.0 24.0 C419.5 22.5 420.8 21.2 422.0 21.0 C423.2 20.8 425.2 21.2 426.0 23.0 C426.8 24.8 427.2 29.5 427.0 32.0 C426.8 34.5 426.0 37.2 425.0 38.0 C424.0 38.8 422.0 38.3 421.0 37.0 C420.0 35.7 419.3 32.2 419.0 30.0 C418.7 27.8 418.5 25.5 419.0 24.0 Z" fill="#b4e0f2"/>
<path d="M411.0 48.3h0M402.2 53.3h0M413.1 50.7h0M418.9 61.2h0M396.1 56.9h0M417.5 50.7h0M391.1 60.3h0M418.3 43.3h0M384.2 54.3h0M408.2 58.2h0M415.2 49.7h0M411.2 48.3h0M384.8 54.9h0M392.1 57.4h0M406.7 61.5h0M403.7 38.2h0M407.6 47.6h0M402.0 45.1h0M404.7 45.8h0M421.4 57.9h0M405.8 39.5h0M401.4 44.9h0M386.0 51.5h0M401.8 43.6h0M414.1 52.0h0M389.6 46.6h0M387.7 57.9h0M387.3 65.3h0M405.1 44.0h0M414.7 61.4h0M399.5 63.3h0M388.1 72.9h0M388.9 61.5h0M386.1 61.5h0M419.8 60.0h0M396.2 50.7h0M419.5 53.2h0M409.4 39.2h0M389.6 59.4h0M400.4 51.3h0M397.2 57.4h0M401.5 62.4h0M397.2 46.6h0M403.7 57.8h0M421.8 57.6h0M393.1 63.2h0M390.4 54.7h0M426.0 55.1h0M412.7 46.9h0M385.9 62.8h0M392.2 69.1h0M404.8 57.3h0M403.1 53.3h0M385.0 58.1h0M390.2 47.8h0M404.5 59.0h0M389.8 64.0h0M390.2 52.3h0M389.7 48.5h0M390.4 63.6h0M394.5 52.7h0M415.9 45.7h0M418.9 44.4h0M393.1 62.2h0M397.0 65.2h0M383.5 64.3h0M394.0 45.0h0M416.8 39.0h0M415.0 56.1h0M389.6 66.5h0M423.0 58.9h0M419.1 54.6h0M414.6 49.8h0M387.9 49.2h0M398.6 39.6h0M401.0 40.8h0M398.8 44.4h0M416.2 48.0h0M404.1 42.0h0M410.8 60.6h0M392.6 55.6h0M416.1 57.4h0M409.9 52.8h0M407.8 62.9h0M408.6 42.9h0M389.0 60.1h0M397.7 57.4h0M414.7 42.8h0M422.8 52.9h0M386.1 58.1h0M424.3 59.7h0M409.3 51.7h0M403.9 63.7h0M412.9 48.7h0M387.4 65.2h0M388.8 60.2h0M405.6 51.3h0M392.9 54.6h0M391.2 46.5h0M403.6 46.6h0M400.3 53.2h0M391.1 57.9h0M423.4 48.1h0M400.3 57.5h0M415.0 60.4h0M387.0 68.4h0M414.3 51.0h0M416.3 48.9h0M422.3 57.6h0M406.8 50.5h0M417.9 53.1h0M403.4 54.0h0M415.9 58.9h0M419.4 50.5h0M396.7 64.1h0M398.9 48.2h0M406.0 46.4h0M414.8 61.2h0M425.3 47.3h0M384.2 53.5h0M421.2 51.4h0M412.3 57.7h0M417.4 50.4h0M420.1 54.2h0M398.4 51.8h0M387.6 49.4h0M400.1 52.3h0M423.9 46.9h0M401.3 44.9h0M404.7 56.3h0M406.5 50.0h0M407.1 51.0h0M386.2 56.8h0M393.0 58.6h0M398.9 42.1h0M400.3 51.1h0M412.0 53.1h0M408.7 44.9h0M424.8 53.9h0M400.5 38.7h0M418.6 39.6h0M407.5 54.0h0M424.8 57.7h0M388.6 54.8h0M391.2 62.0h0M416.6 56.4h0M402.2 63.8h0M398.8 45.9h0M417.0 51.4h0M400.5 56.6h0M409.3 54.2h0M410.2 41.3h0M398.8 56.2h0M389.7 52.0h0M395.2 53.7h0M391.9 51.5h0M409.3 52.5h0M390.3 67.8h0M418.6 56.5h0M411.3 38.9h0M393.9 49.3h0M425.9 47.1h0M402.5 63.1h0M423.4 53.9h0M426.0 56.6h0M389.3 66.5h0M397.6 59.3h0M387.3 62.3h0M388.2 71.9h0M406.8 54.8h0M413.5 52.1h0M415.5 59.0h0M407.2 41.9h0M399.1 43.3h0M400.1 63.3h0M421.0 56.8h0M392.3 65.0h0M384.8 58.7h0M423.0 49.1h0M391.2 59.4h0M388.7 73.2h0M406.6 60.1h0M407.4 44.1h0M384.2 60.9h0M426.8 58.4h0M403.4 38.5h0M398.5 64.9h0M391.5 59.0h0M408.1 55.0h0M388.4 69.1h0M402.4 38.4h0M413.1 37.7h0M419.1 48.0h0M384.6 52.4h0M385.1 59.9h0M390.1 45.6h0M408.6 46.2h0M414.9 58.9h0M393.2 66.1h0M397.1 50.1h0M401.1 62.1h0M412.2 48.5h0M389.1 58.2h0M403.4 61.0h0M408.2 38.9h0M422.6 58.7h0M420.2 49.4h0M405.7 54.8h0M411.0 41.6h0M394.1 63.1h0M410.5 57.4h0M389.4 51.1h0M404.1 45.0h0M420.6 59.1h0M412.3 56.4h0M416.2 56.3h0M399.8 44.3h0M416.8 41.5h0M397.8 66.1h0M420.8 54.1h0M398.8 43.0h0M397.7 42.3h0M413.5 45.0h0M396.6 66.8h0M415.0 41.4h0M394.2 56.0h0M395.0 53.4h0M417.0 48.0h0M384.2 57.6h0M399.9 65.3h0M409.7 44.1h0M416.4 58.4h0M397.3 50.8h0M407.0 53.8h0M422.5 57.4h0M408.2 53.8h0M407.5 48.7h0M414.1 54.0h0M415.8 51.8h0M401.6 40.7h0M409.0 61.6h0M411.7 39.6h0M393.2 64.8h0M393.5 66.7h0M409.2 39.5h0M387.8 49.7h0M392.8 68.5h0M391.4 53.1h0M385.6 66.0h0M395.1 48.6h0M406.0 54.7h0M411.2 58.1h0M403.0 60.9h0M391.1 45.1h0M398.8 55.0h0M403.3 44.4h0M386.0 62.8h0M419.1 42.0h0M402.4 60.2h0M404.0 51.8h0M404.0 45.6h0M386.2 61.4h0M407.2 37.1h0M403.5 47.5h0M395.2 69.2h0M392.1 71.8h0M399.9 64.9h0M390.4 56.8h0M422.8 54.0h0M408.9 52.2h0M390.9 51.5h0M391.5 45.8h0M423.8 51.8h0M386.0 69.6h0M392.1 54.7h0M423.3 61.8h0M404.7 48.0h0M424.7 46.3h0M387.0 59.8h0M406.2 48.0h0M417.1 53.9h0M400.5 60.3h0M419.6 56.5h0M410.7 55.5h0M426.1 59.5h0M411.9 39.7h0M386.9 59.8h0M420.7 60.3h0M417.6 60.4h0M402.9 53.7h0M406.4 38.7h0M414.9 59.3h0M388.4 54.2h0M414.3 59.2h0M415.2 41.6h0M411.4 57.5h0M399.6 44.2h0M420.0 50.7h0M417.2 40.8h0M393.6 67.0h0M404.0 52.3h0M415.2 52.9h0M393.3 51.8h0M407.6 50.7h0M401.4 64.5h0M403.1 47.0h0M397.1 50.2h0M410.4 54.4h0M410.9 59.1h0M388.9 70.5h0M391.0 51.2h0M401.2 45.6h0M414.7 58.2h0M413.5 48.8h0M416.5 45.2h0M415.3 48.1h0M396.3 58.6h0M393.4 52.6h0M393.1 48.2h0M417.3 49.5h0M388.5 52.1h0M399.5 58.2h0M395.1 61.3h0M412.4 56.6h0M414.7 49.2h0M417.7 47.7h0M426.4 51.7h0M426.7 52.5h0M405.1 56.0h0M391.5 45.1h0M406.3 56.8h0M414.3 41.9h0M397.6 44.8h0M422.6 52.1h0M416.9 46.0h0M402.9 48.1h0M400.2 60.9h0M415.4 56.5h0M409.4 59.6h0M418.1 46.5h0M393.4 61.6h0M398.9 47.8h0M398.4 47.2h0M387.2 63.3h0M410.2 42.2h0M420.8 48.0h0M384.9 57.1h0M416.7 39.1h0M408.2 38.8h0M391.0 44.0h0M397.0 60.0h0M395.9 63.9h0M389.0 72.2h0M406.9 55.6h0M390.5 47.7h0M409.7 46.6h0M422.3 41.2h0M387.1 67.7h0M408.0 58.6h0M403.3 57.7h0M414.4 42.2h0M413.4 41.5h0M401.9 52.2h0M396.6 66.9h0M417.0 51.9h0M406.0 51.8h0M393.2 65.6h0M404.0 43.2h0M398.3 64.2h0M412.1 43.3h0M417.2 43.5h0M388.7 49.6h0M410.4 59.9h0M409.1 55.4h0M391.3 68.3h0M426.9 52.2h0M415.6 59.9h0M419.0 49.1h0M402.1 61.3h0M392.5 59.8h0M402.2 51.1h0M423.2 51.3h0M416.2 39.0h0M409.0 45.3h0M422.4 49.0h0M413.7 39.7h0M413.4 48.4h0M416.6 46.8h0M419.3 39.6h0M417.2 41.7h0M419.2 60.4h0M414.2 50.6h0M393.7 66.2h0M388.9 57.3h0M401.9 52.0h0M398.9 54.7h0M390.5 61.2h0M403.7 58.6h0M419.5 47.8h0M397.4 51.0h0M424.5 61.5h0M415.4 47.6h0M391.1 63.2h0M419.3 55.8h0M388.0 64.0h0M404.5 38.8h0M410.2 57.3h0M400.4 65.6h0M419.4 50.0h0M392.8 55.4h0M408.6 55.1h0M422.9 48.8h0M419.6 47.9h0M397.1 47.0h0M405.7 52.0h0M398.8 40.0h0M399.7 49.6h0M399.5 57.7h0M416.5 56.4h0M389.0 50.6h0M400.2 59.5h0M414.2 58.2h0M402.1 48.8h0M409.9 37.2h0M417.4 54.9h0M406.7 36.2h0M404.0 63.5h0M419.3 48.7h0M402.6 57.1h0M394.4 65.0h0M389.6 47.0h0M398.4 47.3h0M414.0 49.1h0M399.5 49.0h0M419.1 59.2h0M421.4 55.5h0M418.2 60.0h0M415.3 44.0h0M404.5 60.5h0M386.7 60.4h0M388.6 56.1h0M400.7 48.1h0M408.1 56.7h0M384.7 59.9h0M392.2 68.9h0M389.7 72.4h0M419.6 58.0h0M403.2 45.2h0M400.1 47.6h0M405.4 42.7h0M395.5 49.4h0M415.5 50.6h0M392.1 49.6h0M399.1 64.0h0M403.7 47.2h0M422.9 53.3h0M404.0 42.6h0M396.2 48.5h0M405.8 48.5h0M387.6 52.3h0M422.9 54.8h0M414.0 41.9h0M412.8 53.8h0M423.8 60.8h0M408.8 48.6h0M405.8 56.6h0M400.4 45.1h0M386.2 62.7h0M396.6 52.1h0M416.1 48.2h0M394.1 52.0h0M414.0 47.5h0M423.1 58.9h0M386.8 67.3h0M406.7 50.9h0M396.6 56.2h0M416.4 48.3h0M410.5 40.6h0M418.6 39.6h0M396.2 63.4h0M389.4 66.4h0M408.5 37.3h0M411.7 49.8h0M401.9 42.9h0M414.9 59.0h0M392.2 51.1h0M398.8 57.4h0M399.5 57.0h0M403.7 56.5h0M404.3 41.7h0M404.7 56.8h0M396.2 42.7h0M405.0 54.0h0M422.9 57.3h0M392.0 45.3h0M394.7 43.0h0M394.8 62.9h0M396.3 62.3h0M395.2 46.7h0M404.7 58.3h0M421.2 45.0h0M398.4 66.0h0M385.7 68.8h0M407.2 57.4h0M404.3 45.0h0M393.1 49.1h0M408.9 40.0h0M396.3 43.3h0M397.8 59.3h0M397.7 56.1h0M406.9 63.2h0M395.5 59.2h0M393.2 63.1h0M410.2 61.8h0M417.3 51.3h0M423.8 50.9h0M385.6 55.7h0M408.9 63.2h0M408.6 38.5h0M424.0 56.2h0M399.6 43.0h0M424.5 45.7h0M391.0 57.7h0M383.9 60.5h0M417.5 45.8h0M420.5 49.7h0M413.8 60.0h0M388.3 68.5h0M398.8 57.8h0M397.9 58.4h0M420.9 60.0h0M390.1 61.5h0M400.0 49.2h0M390.7 47.0h0M418.3 52.0h0M413.1 45.2h0M400.2 64.4h0M407.2 46.6h0M403.9 60.8h0M406.1 44.4h0M409.3 41.5h0M422.2 49.4h0M405.5 61.1h0M422.0 61.8h0M392.4 61.8h0M387.5 69.3h0M404.8 45.0h0M408.9 37.1h0M413.7 61.2h0M409.3 50.4h0M401.6 39.3h0M386.0 54.3h0M414.9 55.3h0M401.7 54.4h0M423.7 49.9h0M404.4 58.1h0M397.0 42.5h0M404.6 53.7h0M403.0 58.4h0M416.6 48.1h0M413.2 40.3h0M392.2 44.4h0M417.2 47.5h0M420.1 42.6h0M416.2 57.9h0M394.6 49.7h0M386.9 51.1h0M422.1 56.5h0M410.5 46.6h0M417.3 49.9h0M389.6 70.5h0M403.6 48.9h0M400.3 40.5h0M393.6 51.7h0M401.5 60.6h0M402.3 43.5h0M404.7 52.8h0M414.9 59.6h0M422.2 47.3h0M394.8 62.0h0M415.2 53.5h0M391.9 53.4h0M394.5 45.9h0M418.3 42.1h0M399.0 52.5h0M398.3 52.6h0M392.1 62.1h0M390.2 55.9h0M391.2 69.9h0M414.5 39.3h0M392.2 60.5h0M401.0 48.8h0M395.5 68.4h0M426.5 56.7h0M391.4 51.8h0M422.2 58.9h0M397.9 64.0h0M408.4 59.0h0M403.1 57.0h0M410.8 46.4h0M423.4 45.8h0M418.4 56.2h0M399.5 50.0h0M424.4 49.8h0M422.5 47.3h0M404.7 45.9h0M416.5 39.5h0M424.4 48.1h0M408.4 62.4h0M403.6 56.5h0M389.5 51.7h0M386.3 69.7h0M406.9 60.4h0M424.8 47.6h0M391.0 57.8h0M393.0 53.8h0M415.9 48.2h0M403.3 39.0h0M393.8 56.4h0M410.0 59.8h0M423.0 55.5h0M412.5 61.9h0M398.5 51.5h0M402.7 42.7h0M395.0 50.7h0M418.4 59.1h0M413.7 47.0h0M384.8 63.9h0M420.9 53.8h0M392.6 67.7h0M415.8 40.3h0M411.3 54.5h0M401.2 51.0h0M422.1 55.6h0M409.9 55.7h0M409.5 38.0h0M385.8 64.6h0M404.9 46.6h0M418.9 43.8h0M389.2 66.9h0M399.7 49.5h0M398.4 58.8h0M404.8 43.1h0M393.9 63.9h0M420.4 60.3h0M393.0 54.3h0M425.1 49.2h0M412.1 60.1h0M412.5 52.6h0M399.5 51.8h0" stroke="#2aaade" stroke-width="1.20" stroke-linecap="round"/>
<path d="M412.3 52.5h0M395.1 53.8h0M413.5 50.3h0M410.4 42.6h0M399.7 50.6h0M401.1 48.1h0M398.6 53.4h0M397.1 60.4h0M401.5 57.3h0M400.0 60.8h0M414.1 54.2h0M385.8 61.0h0M409.7 42.4h0M389.3 51.7h0M392.2 58.8h0M393.1 49.7h0M407.5 40.7h0M408.2 54.1h0M405.9 56.6h0M403.7 47.0h0M387.2 52.2h0M389.0 53.1h0M390.2 62.6h0M415.5 46.5h0M407.0 48.8h0M400.7 58.6h0M400.9 59.9h0M395.9 50.9h0M409.8 44.5h0M401.7 50.1h0M388.8 51.4h0M400.8 54.3h0M405.2 56.1h0M401.0 47.5h0M409.5 44.2h0M410.7 56.9h0M415.0 45.5h0M401.1 49.0h0M407.3 44.2h0M401.0 53.5h0M403.3 56.4h0M410.1 42.8h0M397.9 58.5h0M390.7 60.7h0M411.9 52.2h0M396.2 59.2h0M392.8 52.3h0M392.4 58.7h0M412.5 54.2h0M389.4 55.0h0M389.4 55.2h0M396.2 47.9h0M389.3 58.1h0M397.9 58.3h0M388.2 58.0h0M392.8 47.8h0M413.6 55.7h0M412.5 52.0h0M398.2 59.6h0M409.2 48.0h0M395.3 59.3h0M409.2 44.4h0M386.8 56.4h0M398.0 45.3h0M397.2 50.9h0M415.6 44.7h0M393.9 58.8h0M412.1 42.3h0M399.0 54.8h0M399.0 50.5h0M410.4 41.9h0M399.5 46.5h0M410.4 43.4h0M393.9 60.8h0M389.8 52.9h0M397.2 59.4h0M393.9 48.8h0M406.8 44.0h0M412.2 44.2h0M397.2 61.5h0M407.7 56.3h0M394.5 56.9h0M415.6 45.4h0M402.3 60.0h0M398.8 57.4h0M413.9 54.8h0M393.6 54.3h0M407.7 49.1h0M403.5 54.3h0M407.8 49.1h0M401.5 55.7h0M402.9 50.5h0M402.0 57.3h0M396.3 44.5h0M410.0 46.8h0M404.2 44.4h0M392.4 57.1h0M404.0 57.7h0M395.3 54.6h0M413.6 44.5h0M397.5 53.3h0M395.3 51.7h0M405.2 42.9h0M392.9 59.2h0M408.6 44.0h0M396.1 57.9h0M404.5 47.2h0M403.0 43.2h0M392.1 49.1h0M404.9 53.9h0M400.6 56.8h0M410.3 55.0h0M401.3 50.4h0M411.6 46.7h0M395.3 56.8h0M408.6 49.8h0M405.8 47.9h0M394.1 54.4h0M388.5 57.1h0M387.2 54.5h0M390.7 56.5h0M387.3 53.5h0M404.4 51.0h0M399.3 43.5h0M409.7 53.1h0M409.9 51.6h0M402.0 52.6h0M396.6 53.9h0M407.6 46.1h0M396.7 54.1h0M404.9 48.7h0M413.5 44.7h0M390.1 58.7h0M395.9 49.8h0M393.8 51.0h0M396.2 52.5h0M401.5 51.2h0M406.6 46.6h0M406.7 57.4h0M398.9 59.8h0M388.0 57.0h0M392.0 60.8h0M407.4 43.8h0M410.6 54.7h0M403.5 46.1h0M393.8 58.7h0M386.3 55.3h0M392.9 56.6h0M408.8 45.3h0M394.2 46.4h0M407.3 42.3h0M414.2 50.5h0M407.0 48.7h0M387.8 62.7h0M409.9 55.3h0M396.1 53.6h0M395.0 54.9h0M399.4 58.2h0M406.2 43.3h0M390.5 53.0h0M398.1 46.4h0M411.5 51.7h0M394.2 51.2h0M391.7 49.5h0M407.1 51.4h0M392.9 63.6h0M394.0 56.4h0M390.4 61.0h0M409.6 47.8h0M393.6 56.5h0M391.4 61.2h0M387.2 58.3h0M399.4 50.8h0M393.8 58.8h0M388.5 62.3h0M400.9 52.6h0M396.1 55.9h0M398.1 55.0h0M406.4 50.1h0M392.4 49.3h0M397.2 44.5h0M399.7 50.5h0M399.2 52.1h0M404.8 50.3h0M399.4 48.6h0M403.3 46.5h0M405.1 54.5h0M404.7 51.2h0M403.9 45.5h0M413.3 47.8h0M411.7 49.5h0M398.7 48.0h0M394.6 50.4h0M406.7 53.1h0M386.2 52.7h0M405.3 50.6h0M411.4 56.8h0M399.8 49.4h0M402.2 55.6h0M400.9 49.3h0M403.0 58.1h0M401.7 60.3h0M405.4 42.0h0M396.4 58.1h0M390.0 51.2h0M408.7 48.6h0M409.6 53.7h0M387.2 52.6h0M392.1 51.0h0M410.1 48.4h0M398.6 47.7h0M400.3 47.5h0M409.5 42.3h0M394.3 49.4h0M388.8 62.0h0M394.8 60.1h0M397.2 57.8h0M393.1 59.3h0M393.8 46.6h0M398.4 56.5h0M399.8 59.3h0M405.4 45.7h0M406.4 55.7h0M403.6 46.2h0M411.0 56.6h0M402.1 41.7h0M400.3 45.9h0M389.4 63.0h0M414.5 44.4h0M395.3 55.3h0M401.0 46.5h0M409.5 48.8h0M392.8 53.1h0M400.6 51.8h0M408.1 44.2h0M392.5 53.0h0M391.8 62.5h0M405.2 46.9h0M401.3 44.2h0M405.5 54.9h0M392.9 63.7h0M400.4 60.8h0M395.9 58.0h0M411.6 44.3h0M412.9 48.0h0M394.6 60.5h0M406.8 51.2h0M404.2 47.8h0M393.5 64.2h0M402.0 47.1h0M407.8 42.4h0M405.2 48.8h0M393.6 61.2h0M399.7 49.8h0M389.0 56.8h0M388.3 55.3h0M411.5 43.8h0M397.8 56.8h0M399.9 56.7h0M409.6 47.3h0M391.8 49.7h0M396.0 48.7h0M391.7 64.9h0M396.1 61.5h0M403.4 50.2h0M403.5 56.4h0M408.1 41.9h0M392.6 48.6h0M407.7 42.5h0M391.8 51.3h0M404.3 43.0h0M405.1 43.2h0M391.3 63.1h0M414.1 52.3h0M416.0 45.5h0M407.9 46.0h0M405.7 57.4h0M405.3 41.5h0M403.5 41.3h0M408.1 49.9h0M402.7 51.9h0M393.6 62.3h0M389.9 52.1h0M391.8 58.7h0M407.7 55.8h0M387.7 54.1h0M400.3 45.0h0M407.3 55.9h0M389.7 59.4h0M396.4 46.4h0M394.0 59.6h0M403.6 57.8h0M407.7 51.6h0M397.5 60.8h0M408.4 43.9h0M391.8 49.1h0M392.4 60.2h0M397.2 48.0h0M396.9 46.8h0M388.4 50.9h0M391.4 49.7h0M403.5 47.0h0M392.7 56.9h0M399.5 45.2h0M395.2 55.8h0M396.4 57.0h0M390.3 51.2h0M410.9 44.6h0M397.9 50.4h0M405.5 48.4h0M413.0 52.4h0M414.5 52.3h0M391.9 63.2h0M400.6 54.9h0M388.3 51.9h0M401.1 58.0h0M390.4 58.8h0M395.9 45.6h0M411.5 54.4h0M409.1 42.3h0M406.9 52.8h0M389.9 56.1h0M410.2 54.0h0M387.8 57.9h0M404.2 58.1h0M396.3 63.1h0M397.6 61.0h0M410.3 51.4h0M411.4 49.8h0M389.5 53.7h0M399.9 47.6h0M415.0 45.3h0M397.1 61.5h0M389.5 52.9h0M405.7 43.6h0M406.9 53.8h0M387.8 62.2h0M402.4 55.1h0M397.0 45.5h0M390.9 54.5h0M399.3 52.4h0M397.4 53.4h0M401.2 45.3h0M397.4 53.1h0M400.0 45.0h0M398.3 54.9h0M396.1 58.2h0M396.5 62.6h0M409.3 44.4h0M397.6 46.8h0" stroke="#2aaade" stroke-width="1.20" stroke-linecap="round"/>
<path d="M411.3 32.1h0M409.6 21.3h0M409.4 26.6h0M409.2 23.8h0M411.3 27.5h0M411.1 26.4h0M407.5 35.5h0M406.6 23.3h0M409.9 31.2h0M409.7 29.9h0M407.3 33.4h0M408.1 24.9h0M412.5 35.4h0M409.5 30.4h0M409.3 34.7h0M411.9 34.6h0M410.7 26.1h0M408.3 20.5h0M411.1 33.9h0M410.4 23.7h0M407.6 29.5h0M409.5 36.4h0M406.1 22.4h0M412.5 31.5h0M409.5 33.1h0M408.5 32.6h0M407.0 21.4h0M408.9 25.0h0M408.2 26.9h0M411.0 37.1h0M408.8 21.7h0M406.4 22.4h0M407.5 24.0h0M408.2 23.9h0M410.5 30.1h0M408.9 25.4h0M407.9 32.8h0M409.6 29.4h0M407.2 25.0h0M405.9 23.5h0M409.1 37.1h0M407.9 25.0h0M409.0 29.2h0M410.9 28.4h0M408.5 24.0h0M407.2 21.2h0M409.4 34.8h0M412.7 35.0h0M411.1 33.3h0M408.4 25.9h0M408.0 24.9h0M409.3 24.6h0M409.8 22.6h0M408.0 22.9h0M409.7 26.9h0M409.6 36.6h0M410.8 25.6h0M409.1 29.4h0M410.5 30.0h0M410.6 35.4h0" stroke="#2aaade" stroke-width="1.20" stroke-linecap="round"/>
<path d="M422.6 31.0h0M421.0 31.6h0M421.0 26.6h0M426.3 32.3h0M421.3 23.4h0M426.3 32.2h0M421.5 28.4h0M423.8 27.4h0M425.9 29.8h0M424.7 26.8h0M425.7 36.7h0M424.9 34.9h0M425.0 33.3h0M419.6 23.5h0M424.7 34.9h0M423.7 36.3h0M421.5 31.5h0M420.8 22.9h0M420.7 30.1h0M425.5 23.7h0M421.7 29.8h0M425.8 34.1h0M423.7 23.4h0M421.3 31.8h0M422.2 31.5h0M418.9 27.6h0M421.6 24.7h0M421.9 23.1h0M423.1 23.0h0M421.8 24.6h0M425.0 26.1h0M423.4 32.5h0M426.9 28.9h0M421.3 31.0h0M421.6 34.1h0M422.1 23.2h0M422.1 24.1h0M418.9 23.1h0M421.9 29.3h0M420.9 34.6h0M423.4 22.5h0M423.2 34.4h0M423.1 21.9h0M424.5 34.1h0M423.8 22.8h0M422.3 24.7h0M426.1 32.8h0M422.2 25.3h0M420.3 26.4h0M424.3 35.9h0M422.3 23.0h0M423.8 31.9h0M420.8 31.1h0M419.9 22.7h0M423.8 32.9h0M421.6 32.1h0M419.6 28.9h0M420.2 26.6h0M418.9 25.3h0M422.9 26.6h0M424.7 22.0h0M420.9 24.5h0M425.8 26.5h0M423.7 25.9h0M423.3 27.1h0M425.3 23.4h0M424.7 32.0h0M421.8 32.3h0M422.4 21.3h0M424.8 29.7h0M422.8 24.0h0M422.0 29.7h0M423.3 23.3h0M424.1 26.0h0M426.5 26.6h0M420.7 32.5h0M426.4 32.4h0M423.1 24.0h0M426.2 34.8h0M423.6 30.1h0M425.6 27.4h0M421.3 23.8h0M419.5 23.4h0M419.7 32.7h0M423.9 22.8h0M418.5 28.1h0M423.7 22.8h0M420.2 31.5h0M424.3 31.5h0M423.1 22.4h0M424.7 25.1h0M423.5 21.4h0M425.8 32.8h0M422.2 32.7h0M420.5 34.1h0M422.2 31.5h0M424.1 23.3h0M420.1 32.6h0M422.8 23.9h0M420.4 22.7h0M425.3 23.8h0M423.6 32.9h0M420.7 28.7h0M423.8 30.4h0M425.9 34.0h0M423.2 37.0h0M423.9 33.6h0M419.1 29.0h0M424.6 30.8h0M422.1 24.5h0M424.1 30.5h0M421.3 33.8h0M425.9 31.8h0M422.4 31.2h0M424.2 35.8h0M423.5 22.7h0M420.2 32.6h0M425.5 29.5h0M421.4 25.3h0M420.5 33.7h0" stroke="#2aaade" stroke-width="1.20" stroke-linecap="round"/>
<path d="M400.8 33.1h0M402.7 30.0h0M400.3 31.8h0M398.6 34.4h0M400.3 34.8h0M401.5 28.9h0M402.4 25.4h0M400.4 38.1h0M400.2 32.8h0M404.1 29.7h0M401.6 32.7h0M399.1 36.4h0M402.1 30.7h0M399.1 33.7h0M397.1 29.8h0" stroke="#2aaade" stroke-width="1.00" stroke-linecap="round"/>
<path d="M431.0 49.0 C432.3 47.2 435.2 46.8 437.0 47.0 C438.8 47.2 440.6 47.8 442.0 50.0 C443.4 52.2 444.8 56.3 445.5 60.0 C446.2 63.7 446.1 68.0 446.0 72.0 C445.9 76.0 445.8 80.5 445.0 84.0 C444.2 87.5 442.5 91.1 441.0 93.0 C439.5 94.9 437.7 95.7 436.0 95.5 C434.3 95.3 432.2 94.2 431.0 92.0 C429.8 89.8 429.0 85.7 428.5 82.0 C428.0 78.3 427.9 74.0 428.0 70.0 C428.1 66.0 428.5 61.5 429.0 58.0 C429.5 54.5 429.7 50.8 431.0 49.0 Z" fill="#f8dca0"/>
<path d="M438.1 90.9h0M439.8 73.8h0M438.5 77.1h0M440.4 80.8h0M435.0 55.0h0M429.4 62.0h0M439.7 63.4h0M428.9 67.7h0M435.3 89.6h0M428.9 60.7h0M434.0 47.2h0M434.9 55.8h0M441.1 67.3h0M440.2 64.1h0M437.6 62.7h0M435.0 89.5h0M431.2 70.3h0M440.5 82.0h0M432.2 60.5h0M437.9 71.9h0M435.1 82.7h0M440.7 71.2h0M443.4 71.5h0M436.5 86.6h0M434.5 60.5h0M436.4 54.4h0M433.9 81.3h0M442.8 83.7h0M430.5 60.8h0M434.0 77.1h0M432.8 65.2h0M440.8 88.4h0M431.8 68.1h0M440.6 89.1h0M444.6 71.1h0M433.8 53.8h0M446.3 68.5h0M431.4 84.7h0M433.8 76.2h0M431.5 65.1h0M441.5 72.3h0M440.2 90.0h0M442.3 64.9h0M444.6 76.8h0M431.3 61.4h0M429.0 83.2h0M430.0 80.0h0M431.2 90.7h0M432.8 82.2h0M439.7 93.2h0M432.2 87.5h0M439.9 75.8h0M431.7 84.2h0M438.1 87.6h0M436.6 78.1h0M441.3 85.5h0M434.9 53.6h0M444.6 80.1h0M432.2 62.6h0M440.2 61.1h0M434.0 52.7h0M442.1 79.3h0M441.5 78.3h0M443.6 56.0h0M431.5 50.8h0M439.3 66.1h0M428.5 68.0h0M432.0 66.0h0M443.4 57.5h0M431.1 83.7h0M431.4 59.3h0M429.1 63.7h0M433.8 74.0h0M442.2 61.5h0M435.8 60.9h0M438.1 86.7h0M439.3 92.9h0M437.5 76.8h0M428.8 55.1h0M436.9 88.0h0M433.3 64.4h0M443.8 55.8h0M442.8 67.4h0M439.8 58.6h0M440.6 70.5h0M444.7 68.8h0M439.0 60.2h0M435.9 71.3h0M429.3 74.2h0M442.5 54.8h0M439.2 90.5h0M434.4 85.7h0M442.9 85.2h0M440.9 57.2h0M436.1 58.9h0M442.7 84.9h0M430.8 72.1h0M442.3 55.3h0M431.0 70.9h0M441.5 89.4h0M433.4 67.0h0M442.5 73.8h0M430.1 75.2h0M436.5 48.6h0M430.2 56.4h0M442.8 75.8h0M429.9 77.1h0M445.6 64.5h0M439.8 92.9h0M432.1 66.0h0M441.7 89.9h0M431.8 63.9h0M435.7 88.2h0M434.9 80.1h0M435.1 93.6h0M440.8 60.2h0M437.6 78.0h0M435.3 59.6h0M441.4 74.1h0M437.8 51.0h0M433.7 93.5h0M439.2 55.6h0M433.5 58.3h0M430.7 90.1h0M438.7 92.4h0M436.6 86.2h0M430.0 59.5h0M432.9 72.5h0M444.1 66.2h0M433.2 50.8h0M437.8 66.4h0M437.5 60.6h0M435.0 55.0h0M428.9 84.1h0M432.4 73.7h0M435.3 60.8h0M439.6 70.0h0M440.5 55.0h0M435.6 48.9h0M432.1 56.0h0M436.9 59.2h0M441.3 64.3h0M441.4 82.3h0M438.4 62.8h0M434.4 65.6h0M430.8 52.2h0M433.8 59.0h0M433.0 69.6h0M433.5 67.2h0M442.3 53.6h0M435.8 91.2h0M441.4 59.4h0M429.3 60.7h0M439.6 76.6h0M444.6 63.5h0M433.0 49.7h0M433.2 82.1h0M432.9 89.2h0M442.8 84.4h0M438.4 87.8h0M431.2 89.1h0M439.0 83.9h0M442.7 54.2h0M442.1 86.9h0M430.7 65.3h0M429.4 62.5h0M437.8 56.1h0M442.5 70.9h0M429.8 80.2h0M442.4 88.2h0M431.6 83.5h0M439.5 55.2h0M437.2 54.0h0M444.4 62.7h0M437.9 55.9h0M442.3 81.1h0M428.9 77.9h0M438.9 64.6h0M436.6 73.7h0M429.7 71.5h0M437.6 55.5h0M443.2 74.3h0M436.7 61.9h0M435.0 73.1h0M440.9 63.1h0M443.3 77.9h0M436.6 94.3h0M443.2 66.2h0M438.3 80.6h0M431.0 89.4h0M429.8 89.4h0M444.2 66.1h0M434.6 52.5h0M429.8 73.3h0M440.4 86.8h0M439.2 70.7h0M432.7 70.3h0M433.9 82.9h0M438.3 87.3h0M443.5 54.7h0M429.2 65.9h0M432.4 71.8h0M441.2 57.8h0M436.2 81.9h0M430.3 58.4h0M441.1 78.4h0M438.6 49.3h0M436.6 51.6h0M437.0 73.3h0M441.0 67.5h0M437.0 75.9h0M442.5 79.4h0M436.6 64.4h0M429.9 86.3h0M432.1 86.8h0M443.7 88.6h0M442.0 70.4h0M442.8 86.5h0M438.5 79.7h0M441.2 50.2h0M441.3 63.2h0M431.6 82.0h0M431.4 52.6h0M445.2 58.1h0M428.2 69.4h0M437.3 55.9h0M434.3 89.1h0M434.1 84.8h0M432.7 68.0h0M444.5 80.9h0M435.2 65.3h0M441.9 74.7h0M431.5 65.9h0M443.6 72.3h0M433.7 78.5h0M433.7 72.7h0M435.7 66.0h0M436.4 83.1h0M444.2 75.3h0M439.9 61.3h0M442.3 51.2h0M432.5 51.3h0M445.0 70.2h0M438.4 61.1h0M440.5 63.2h0M441.3 88.9h0M430.7 71.0h0M429.8 83.4h0M437.1 63.3h0M438.5 60.2h0M430.9 66.9h0M432.4 66.7h0M443.1 65.5h0M432.0 58.6h0M443.8 82.5h0M432.3 82.4h0M442.0 65.8h0M436.8 68.0h0M434.0 57.0h0M436.1 84.4h0M437.9 63.8h0M432.3 88.0h0M433.8 67.7h0M430.9 79.5h0M431.9 62.3h0M442.4 83.8h0M431.9 66.2h0M431.2 56.0h0M432.6 84.0h0M440.1 80.7h0M433.6 70.8h0M443.1 75.1h0M431.3 53.0h0M433.7 92.9h0M431.4 59.4h0M441.4 71.4h0M429.5 67.2h0M437.0 48.4h0M431.1 66.4h0M439.5 86.3h0M430.4 90.8h0M432.2 50.9h0M434.2 77.8h0M438.7 57.1h0M435.5 69.2h0M429.6 88.1h0M431.4 66.6h0M433.6 62.3h0M435.7 71.7h0M435.4 49.9h0M438.8 67.1h0M430.9 55.2h0M432.1 85.3h0M431.6 60.9h0M439.7 84.7h0M439.2 67.6h0M445.1 73.9h0M431.1 54.6h0M434.9 67.8h0M442.8 83.2h0M434.9 60.1h0M429.8 75.9h0M429.3 69.8h0M431.5 50.4h0M445.8 68.8h0M437.4 82.2h0M431.6 83.4h0M441.3 60.5h0M441.7 67.7h0M445.0 59.4h0M434.6 58.7h0M433.4 91.7h0M436.8 49.9h0M444.5 63.2h0M433.8 81.1h0M432.4 49.9h0M433.9 68.1h0M440.4 89.2h0M443.7 56.1h0M432.4 74.6h0M432.2 52.2h0M428.6 78.3h0M440.1 60.2h0M438.0 63.4h0M440.6 63.3h0M429.7 73.5h0M443.9 59.2h0M432.3 83.2h0M436.3 87.9h0M429.4 77.0h0M436.0 78.2h0M432.1 59.0h0M441.4 62.8h0M438.5 67.2h0M430.6 89.2h0M442.2 65.9h0M443.9 82.5h0M436.8 90.6h0M429.2 73.9h0M439.2 88.8h0M437.6 48.7h0M433.8 71.0h0M440.7 80.8h0M436.6 61.5h0M441.3 69.6h0M440.8 88.8h0M442.1 55.5h0M438.9 76.3h0M437.0 83.1h0M436.4 85.6h0M433.3 75.8h0M439.2 71.7h0M442.8 63.8h0M431.7 79.7h0M435.0 54.8h0M443.4 84.2h0M435.8 79.0h0M428.8 72.9h0M436.1 86.3h0M437.0 48.5h0M433.8 92.0h0M437.0 71.2h0M438.1 56.7h0M435.5 64.9h0M432.7 62.3h0M440.5 74.2h0M442.0 61.5h0M439.5 68.1h0M440.8 70.3h0M429.5 60.7h0M430.2 78.1h0M435.7 58.1h0M434.1 87.6h0M433.8 72.5h0M431.3 64.0h0M441.4 84.4h0M434.7 92.1h0M432.3 90.6h0M441.5 64.8h0M434.7 60.8h0M433.8 67.5h0M441.2 90.2h0M442.5 73.5h0M435.0 67.5h0M437.5 66.0h0M431.8 63.5h0M437.3 52.8h0M443.7 60.7h0M442.6 64.8h0M442.2 52.6h0M445.6 73.9h0M429.9 55.5h0M443.7 75.8h0M435.6 57.2h0M439.5 73.0h0M442.3 82.9h0M444.0 75.4h0M442.0 58.8h0M437.4 53.2h0M433.5 72.4h0M434.1 83.2h0M435.3 93.4h0M437.8 61.8h0M432.2 53.8h0M435.9 70.6h0M434.1 60.8h0M433.5 89.7h0M442.5 86.5h0M433.6 76.8h0M436.3 74.4h0M431.8 67.2h0M432.0 65.4h0M433.5 72.1h0M435.9 75.4h0M433.6 75.0h0M438.1 77.8h0M434.0 91.8h0M440.8 62.2h0M442.8 82.1h0M439.7 68.9h0M432.8 64.1h0M434.9 64.5h0M441.5 51.4h0M437.7 59.0h0M435.1 65.5h0M440.2 56.0h0M440.0 51.5h0M429.5 85.8h0M429.8 79.9h0M439.9 80.4h0M438.7 55.9h0M433.7 58.1h0M435.0 79.2h0M441.2 49.9h0M432.0 51.1h0M431.0 75.7h0M435.4 76.0h0M432.9 57.4h0M439.1 87.1h0M434.5 89.5h0M445.2 73.1h0M431.2 66.4h0M430.1 63.3h0M429.7 66.6h0M432.1 54.9h0M437.0 69.6h0M433.7 61.9h0M441.5 70.6h0M438.0 93.6h0M437.0 67.6h0M433.5 65.6h0M440.7 69.3h0M433.8 60.0h0M441.6 67.4h0M432.2 71.9h0M434.3 68.8h0M442.0 79.7h0M441.4 62.6h0M437.4 85.2h0M446.0 78.1h0M431.1 87.7h0M435.9 89.7h0M435.4 95.2h0M443.6 74.3h0M435.5 72.5h0M428.4 73.7h0M444.5 81.9h0M435.2 73.9h0M438.3 54.8h0M437.4 63.9h0M441.6 78.1h0M437.3 82.9h0M443.0 66.4h0M444.8 69.4h0M438.4 48.7h0M441.2 57.6h0M433.1 65.9h0M436.0 71.7h0M439.5 61.8h0M438.7 86.3h0M442.2 50.8h0M439.6 70.5h0M429.2 79.2h0M441.1 85.9h0M441.9 61.4h0M433.0 93.0h0M441.6 71.4h0M428.3 59.7h0M439.4 55.5h0M438.2 56.3h0M445.5 73.9h0M440.4 59.8h0M437.4 58.2h0M430.9 54.2h0M432.7 53.1h0M436.9 49.3h0M441.5 89.9h0M439.8 88.9h0M437.0 69.4h0M444.2 73.2h0M437.3 60.9h0M440.1 54.9h0M438.7 83.7h0M441.5 87.9h0M445.8 71.6h0M434.8 69.7h0M429.7 73.9h0M428.7 74.1h0M442.6 76.8h0M439.7 61.0h0M437.6 83.4h0M440.0 53.2h0M439.4 52.7h0M443.8 81.5h0M443.8 64.1h0M431.7 56.3h0M434.8 57.0h0M432.1 72.3h0M437.0 82.7h0M436.8 74.7h0" stroke="#eea21c" stroke-width="1.20" stroke-linecap="round"/>
<path d="M392 71 Q400 70 408 68.5 Q416 67.5 420 65 L428 62" fill="none" stroke="#eea21c" stroke-width="1.2"/>
<path d="M369.0 36.0 C370.1 33.8 372.2 32.8 374.0 32.0 C375.8 31.2 378.0 30.8 380.0 31.0 C382.0 31.2 384.3 31.5 386.0 33.0 C387.7 34.5 389.2 37.2 390.0 40.0 C390.8 42.8 391.3 47.0 391.0 50.0 C390.7 53.0 389.5 55.7 388.0 58.0 C386.5 60.3 384.2 62.5 382.0 64.0 C379.8 65.5 377.2 66.7 375.0 67.0 C372.8 67.3 370.2 68.0 369.0 66.0 C367.8 64.0 367.8 58.5 367.5 55.0 C367.2 51.5 367.2 48.2 367.5 45.0 C367.8 41.8 367.9 38.2 369.0 36.0 Z" fill="#fbf0b0"/>
<path d="M373.6 45.5h0M383.7 34.7h0M388.9 48.1h0M380.6 58.9h0M379.1 41.6h0M379.4 36.9h0M384.6 54.0h0M376.4 32.8h0M374.4 61.0h0M368.7 38.8h0M370.9 58.8h0M368.8 66.4h0M384.5 48.8h0M381.7 36.4h0M373.4 64.6h0M370.8 42.4h0M370.5 59.9h0M368.6 61.3h0M371.4 40.0h0M389.4 39.8h0M381.7 59.0h0M387.7 49.0h0M374.9 43.5h0M384.0 51.9h0M375.8 36.0h0M374.5 33.3h0M382.3 49.0h0M383.2 36.2h0M383.3 52.8h0M375.1 41.2h0M381.4 46.8h0M371.3 49.0h0M385.5 55.2h0M369.9 62.3h0M375.6 58.9h0M376.9 47.2h0M369.6 61.0h0M382.9 61.1h0M368.9 44.5h0M380.1 41.9h0M373.8 57.2h0M374.2 53.7h0M368.5 39.6h0M373.6 48.5h0M386.2 41.0h0M378.3 61.3h0M379.7 57.8h0M384.9 46.5h0M381.0 33.3h0M378.5 40.1h0M389.8 49.9h0M377.5 32.7h0M386.4 55.1h0M372.3 54.3h0M375.1 65.3h0M380.0 53.1h0M377.5 33.0h0M383.0 37.5h0M378.9 32.6h0M387.9 56.1h0M378.0 51.5h0M373.3 32.2h0M374.8 41.5h0M373.9 33.7h0M385.6 57.3h0M382.8 36.0h0M369.3 56.6h0M387.8 48.1h0M375.9 55.5h0M378.8 61.7h0M380.6 55.7h0M387.8 37.8h0M384.4 41.1h0M388.6 49.0h0M373.3 37.7h0M377.8 34.1h0M373.7 36.4h0M380.9 45.7h0M371.7 62.8h0M383.6 44.3h0M371.7 61.5h0M372.8 58.3h0M378.6 34.6h0M388.3 44.4h0M382.4 48.8h0M382.7 58.2h0M369.3 38.1h0M379.9 36.3h0M374.3 65.2h0M385.3 41.8h0M381.7 32.6h0M388.4 52.5h0M388.7 40.9h0M372.6 63.7h0M371.6 37.9h0M369.5 46.9h0M369.1 47.3h0M369.4 55.8h0M384.3 61.2h0M374.0 37.8h0M376.7 51.3h0M376.6 38.7h0M373.1 46.3h0M376.5 65.8h0M386.9 44.4h0M382.3 52.0h0M383.9 49.6h0M379.5 48.7h0M381.8 54.6h0M385.2 32.5h0M380.2 45.8h0M370.1 65.8h0M377.2 51.3h0M371.4 43.7h0M385.3 49.5h0M378.0 54.0h0M379.2 40.5h0M374.0 58.6h0M380.7 62.6h0M384.5 48.7h0M372.2 40.3h0M383.4 36.5h0M382.2 41.4h0M377.6 45.0h0M372.6 40.8h0M385.4 56.1h0M379.3 43.9h0M372.0 53.7h0M384.7 56.4h0M383.5 51.3h0M368.6 48.1h0M374.2 58.7h0M373.8 42.2h0M380.7 57.6h0M378.5 64.8h0M380.7 63.8h0M377.2 32.1h0M371.5 51.6h0M386.5 38.5h0M384.3 37.7h0M378.8 59.1h0M375.0 54.8h0M374.3 56.5h0M379.9 32.5h0M380.6 57.2h0M369.9 62.9h0M388.3 43.4h0M372.2 36.0h0M382.0 40.4h0M379.6 35.7h0M383.3 36.6h0M371.5 63.2h0M388.3 42.4h0M378.5 61.5h0M384.4 54.8h0M377.7 54.4h0M386.1 49.0h0M385.8 37.0h0M370.4 46.7h0M378.4 44.4h0M372.7 44.9h0M376.8 63.0h0M388.4 52.3h0M380.7 42.5h0M382.1 38.5h0M378.3 56.9h0M386.2 47.3h0M383.4 39.7h0M379.5 45.1h0M372.6 41.6h0M378.4 34.2h0M381.9 59.2h0M372.2 64.5h0M386.5 54.7h0M375.8 52.6h0M381.2 55.9h0M382.6 57.9h0M379.0 35.0h0M386.0 46.5h0M383.0 48.5h0M374.3 38.4h0M388.2 51.3h0M380.8 44.9h0M373.0 33.7h0M383.2 39.3h0M387.6 39.3h0M372.6 44.6h0M381.6 37.5h0M386.5 48.0h0M372.2 56.9h0M382.1 40.7h0M372.9 63.0h0M369.9 53.8h0M380.1 51.1h0M372.2 42.6h0M382.8 48.5h0M376.4 48.2h0M370.9 53.6h0M378.6 40.2h0M371.3 38.9h0M378.5 59.2h0M383.5 32.9h0M387.9 53.0h0M369.9 54.2h0M376.4 33.1h0M373.1 61.8h0M369.5 65.1h0M370.3 48.6h0M389.7 39.6h0M388.9 44.9h0M382.9 52.5h0M375.8 48.5h0M382.8 63.3h0M385.8 51.2h0M372.6 53.0h0M378.0 43.8h0M377.6 50.4h0M376.8 64.6h0M387.8 46.8h0M382.2 41.8h0M374.1 65.5h0M381.6 49.2h0M381.3 48.3h0M386.7 42.7h0M378.0 40.5h0M371.6 66.2h0M377.1 61.0h0M369.1 59.8h0M387.1 42.6h0M383.4 33.6h0M373.1 43.6h0M382.5 40.4h0M391.6 48.5h0M383.4 49.8h0M377.4 44.8h0M370.0 37.6h0M371.3 45.3h0M390.1 40.8h0M367.3 44.7h0M388.1 51.5h0M385.6 53.5h0M371.5 44.5h0M373.2 44.4h0M372.9 58.5h0M373.7 39.6h0M384.6 49.2h0M372.8 42.9h0M369.7 56.9h0M372.6 38.0h0M378.1 61.7h0M382.6 50.6h0M382.3 55.9h0M377.4 53.0h0M372.3 32.9h0M374.1 51.7h0M375.7 60.6h0M384.1 61.9h0M375.9 38.5h0M387.4 46.2h0M369.9 54.4h0M377.5 36.6h0M385.0 36.3h0M368.3 57.3h0M381.9 54.1h0M373.6 55.2h0M376.9 65.3h0M385.8 56.0h0M377.5 61.7h0M372.2 66.1h0M368.8 60.6h0M387.4 55.6h0M370.3 58.8h0M380.6 43.1h0M371.7 42.6h0M375.5 64.0h0M389.9 43.0h0M371.1 64.7h0M372.5 42.2h0M386.4 43.9h0M382.4 60.7h0M376.8 58.8h0M384.0 48.3h0M379.9 63.8h0M389.2 41.1h0M380.3 51.2h0M367.8 52.5h0M378.0 33.4h0M382.1 40.2h0M387.8 45.4h0M382.9 61.4h0M371.9 64.6h0M368.1 43.1h0M373.7 36.3h0M380.1 38.7h0M383.6 43.8h0M376.9 52.4h0M381.1 34.9h0M376.6 63.1h0M374.0 34.6h0M371.0 51.9h0M378.3 34.0h0M373.1 41.3h0M382.8 39.9h0M383.7 60.7h0M379.8 44.3h0M381.0 38.9h0M380.0 45.0h0M384.2 53.3h0M371.9 46.0h0M373.2 54.5h0M372.4 48.9h0M382.2 51.2h0M373.7 44.3h0M381.5 35.7h0M378.1 44.6h0M376.6 47.0h0M376.1 42.8h0M369.7 56.8h0M381.1 38.4h0M385.1 53.2h0M372.4 66.2h0M372.7 35.5h0M383.1 48.0h0M388.2 45.1h0M368.7 51.7h0M385.4 43.8h0M367.9 46.0h0M377.2 33.7h0M370.7 41.9h0M381.9 55.2h0M369.0 59.8h0M389.5 48.9h0M384.4 62.7h0M372.8 65.6h0M374.6 60.7h0M374.7 52.6h0M383.2 57.7h0M389.0 41.5h0M376.8 44.2h0M389.4 38.7h0M389.9 41.7h0M368.8 58.7h0M376.9 32.8h0M373.9 56.5h0M387.9 51.3h0M382.1 35.9h0M388.7 51.0h0M384.1 57.3h0M380.7 61.9h0M378.5 46.6h0M374.1 64.5h0M376.3 55.2h0M381.1 40.3h0M384.4 37.4h0M370.4 37.6h0M376.0 57.9h0M381.0 59.8h0M382.1 39.4h0M377.5 57.5h0M381.1 49.9h0M378.0 42.2h0M368.4 58.0h0M383.9 51.7h0M387.1 38.7h0M374.7 52.5h0M374.7 51.5h0M373.5 49.9h0M382.1 35.2h0M377.3 54.9h0M378.1 49.7h0M372.0 57.9h0M385.1 61.4h0M377.1 37.6h0M386.3 47.6h0M369.7 42.3h0M370.0 64.5h0M382.5 52.2h0M370.3 48.5h0M371.9 58.2h0M380.1 56.2h0" stroke="#f4d42c" stroke-width="1.20" stroke-linecap="round"/>
<ellipse cx="375.5" cy="89.5" rx="19.5" ry="23" fill="none" stroke="#3a3a3a" stroke-width="0.8" stroke-dasharray="4.5 3"/>
<path d="M367.3 67.7 C369.2 66.4 372.5 65.6 375.4 65.4 C378.3 65.2 382.1 65.5 384.6 66.5 C387.1 67.5 388.5 69.8 390.4 71.1 C392.3 72.4 394.8 72.9 396.1 74.6 C397.4 76.3 398.8 79.8 398.4 81.5 C398.0 83.2 394.9 83.1 393.8 85.0 C392.7 86.9 392.1 89.9 391.5 93.0 C390.9 96.1 390.8 100.5 390.4 103.4 C390.0 106.3 390.2 108.9 389.2 110.4 C388.2 112.0 386.7 112.9 384.6 112.7 C382.5 112.5 379.4 110.0 376.5 109.2 C373.6 108.4 369.8 108.0 367.3 108.0 C364.8 108.0 362.3 110.7 361.5 109.2 C360.7 107.7 362.5 103.0 362.7 98.8 C362.9 94.6 362.5 88.0 362.7 83.8 C362.9 79.6 363.0 76.2 363.8 73.5 C364.6 70.8 365.4 69.0 367.3 67.7 Z" fill="#72c2aa"/>
<path d="M375.2 107.3h0M370.3 94.4h0M388.7 91.1h0M376.7 66.5h0M373.8 93.0h0M390.3 84.1h0M380.8 100.7h0M393.2 74.3h0M368.9 69.7h0M379.1 69.3h0M364.2 75.0h0M381.7 89.4h0M388.2 94.8h0M390.6 97.0h0M390.7 76.5h0M366.2 69.6h0M377.1 83.1h0M366.0 99.9h0M392.1 88.6h0M365.2 94.7h0M368.4 69.8h0M377.2 107.3h0M384.3 104.1h0M390.3 94.5h0M371.0 106.6h0M377.6 103.1h0M369.6 107.3h0M395.8 83.1h0M367.9 96.1h0M366.7 104.9h0M380.7 84.2h0M385.2 86.1h0M365.2 84.4h0M368.9 87.4h0M380.2 85.6h0M366.4 72.7h0M373.3 69.9h0M381.6 106.3h0M383.6 77.4h0M378.9 101.6h0M365.3 88.1h0M380.3 104.4h0M371.5 109.0h0M372.3 86.5h0M369.0 92.0h0M383.6 68.2h0M373.8 100.3h0M378.9 94.1h0M375.6 67.9h0M362.9 99.6h0M363.1 106.6h0M375.4 72.4h0M383.9 94.4h0M362.6 84.0h0M372.1 106.0h0M390.4 85.6h0M371.3 70.7h0M366.6 107.1h0M368.1 69.3h0M394.9 79.5h0M373.5 68.7h0M381.2 90.5h0M375.5 75.9h0M383.3 78.3h0M374.6 107.6h0M375.0 102.4h0M394.9 80.7h0M379.6 108.0h0M373.5 75.8h0M381.6 108.6h0M378.3 76.7h0M376.4 103.1h0M367.8 95.8h0M364.9 81.0h0M376.3 85.7h0M371.6 69.4h0M373.1 107.0h0M368.4 82.0h0M362.0 107.7h0M380.6 71.1h0M377.9 94.1h0M367.8 86.0h0M388.9 77.7h0M385.0 73.2h0M369.6 91.5h0M381.2 86.5h0M384.0 112.1h0M387.3 74.9h0M371.8 67.3h0M395.2 76.0h0M371.4 77.2h0M387.7 98.3h0M384.0 111.1h0M374.7 82.6h0M384.1 68.4h0M380.6 85.4h0M365.1 108.4h0M387.8 95.3h0M387.8 93.9h0M384.8 75.6h0M376.2 101.6h0M364.2 106.2h0M391.3 74.0h0M373.3 74.6h0M386.7 75.9h0M379.5 67.7h0M396.2 77.0h0M382.0 70.7h0M377.0 82.1h0M368.8 92.3h0M370.7 83.1h0M375.2 92.2h0M363.8 73.7h0M383.2 78.4h0M388.6 90.1h0M366.1 106.0h0M378.0 77.1h0M388.0 100.7h0M376.2 82.6h0M381.8 83.1h0M381.2 97.6h0M374.9 82.4h0M370.2 106.9h0M374.4 96.9h0M389.8 96.4h0M373.4 107.8h0M387.4 98.7h0M394.1 76.8h0M369.6 93.2h0M381.8 66.5h0M383.8 91.0h0M387.7 80.0h0M380.9 72.9h0M391.9 92.6h0M392.7 81.1h0M385.1 110.1h0M368.3 97.8h0M396.2 80.9h0M374.3 89.8h0M382.8 96.4h0M369.0 102.2h0M368.3 73.8h0M373.6 80.1h0M376.0 89.5h0M373.2 83.4h0M385.9 87.5h0M386.1 84.7h0M372.8 92.2h0M369.9 91.9h0M370.2 81.8h0M388.4 78.2h0M365.1 102.5h0M385.8 105.5h0M370.1 97.3h0M378.7 81.6h0M365.8 83.2h0M384.4 79.5h0M381.7 99.5h0M386.9 82.8h0M382.8 77.1h0M374.6 89.7h0M363.5 88.7h0M363.6 105.9h0M393.7 77.0h0M394.7 77.3h0M369.4 104.3h0M376.3 66.4h0M380.7 78.7h0M369.6 84.5h0M369.0 86.8h0M374.9 80.1h0M379.0 72.7h0M377.3 71.0h0M378.7 78.1h0M385.3 84.5h0M369.3 76.8h0M383.4 95.5h0M364.9 104.9h0M372.4 107.9h0M369.4 101.2h0M387.2 90.9h0M379.0 67.2h0M380.7 101.5h0M367.8 73.0h0M362.2 101.5h0M368.9 107.1h0M382.4 71.2h0M387.5 69.0h0M394.4 83.8h0M371.7 76.9h0M375.8 93.9h0M380.6 67.2h0M392.6 74.4h0M365.6 105.2h0M393.9 75.8h0M390.3 73.5h0M381.3 72.6h0M365.7 90.5h0M388.2 100.4h0M373.7 76.3h0M370.4 102.8h0M368.6 73.3h0M370.8 71.2h0M366.1 100.9h0M380.4 91.0h0M370.2 88.5h0M376.5 67.0h0M365.2 90.2h0M380.2 93.2h0M373.1 75.7h0M369.0 87.4h0M374.2 68.3h0M365.8 71.4h0M383.5 80.3h0M396.1 79.6h0M382.3 87.5h0M372.7 78.5h0M364.5 100.2h0M391.4 75.4h0M365.7 76.8h0M388.1 72.9h0M366.6 78.2h0M391.3 73.9h0M376.9 81.0h0M393.8 76.8h0M369.2 68.8h0M383.8 90.5h0M379.4 76.9h0M376.6 67.8h0M392.8 82.2h0M394.2 82.5h0M381.0 105.0h0M370.9 93.1h0M378.2 104.2h0M367.1 94.6h0M390.9 73.5h0M374.3 80.4h0M384.6 87.7h0M376.8 68.1h0M363.7 86.1h0M395.1 79.7h0M390.9 86.7h0M372.7 88.4h0M382.3 84.7h0M383.3 108.1h0M386.5 74.6h0M374.8 65.7h0M376.1 67.7h0M386.7 92.1h0M376.1 108.0h0M372.7 74.8h0M366.7 100.8h0M382.4 96.9h0M389.0 80.2h0M363.3 101.0h0M371.4 84.8h0M381.8 68.1h0M391.8 89.4h0M370.7 72.8h0M377.0 68.1h0M390.3 90.2h0M381.1 98.5h0M387.8 76.8h0M378.9 88.0h0M373.8 74.2h0M387.6 103.7h0M368.9 90.4h0M373.3 75.6h0M367.8 99.2h0M393.3 78.1h0M377.3 73.1h0M395.7 81.8h0M388.4 84.5h0M385.5 70.8h0M370.6 104.3h0M379.4 88.8h0M375.4 107.5h0M386.0 100.9h0M384.4 100.1h0M366.3 93.0h0M376.9 70.1h0M396.5 77.0h0M373.0 80.4h0M384.5 72.5h0M379.0 98.0h0M370.9 68.8h0M384.6 84.2h0M369.4 79.6h0M396.0 82.6h0M383.8 102.8h0M398.1 81.4h0M384.9 93.8h0M367.9 103.2h0M363.3 97.4h0M379.0 74.3h0M382.9 99.9h0M364.5 76.2h0M363.5 99.5h0M368.6 96.2h0M374.1 106.4h0M366.4 105.3h0M378.5 71.0h0M385.8 100.9h0M364.1 97.5h0M376.5 78.4h0M387.5 71.7h0M366.6 70.0h0M396.4 75.1h0M362.9 91.3h0M378.6 74.8h0M377.9 97.7h0M391.3 86.4h0M372.5 86.7h0M377.6 75.1h0M370.9 80.5h0M373.5 72.6h0M391.9 79.9h0M366.6 105.1h0M386.1 91.3h0M386.3 83.7h0M365.3 83.3h0M376.0 67.8h0M376.8 82.2h0M384.4 103.2h0M370.7 87.7h0M385.3 87.6h0M371.0 72.1h0M367.8 99.2h0M378.8 108.0h0M375.3 93.5h0M384.8 98.9h0M386.2 80.0h0M369.4 101.9h0M385.0 101.7h0M378.8 86.2h0M386.8 94.9h0M375.2 106.2h0M374.0 107.4h0M380.4 74.9h0M378.8 76.3h0M375.6 77.3h0M373.5 107.4h0M387.0 92.4h0M384.9 83.7h0M372.8 96.5h0M392.8 85.1h0M395.1 83.1h0M388.2 84.1h0M362.5 107.7h0M368.9 86.8h0M373.2 69.7h0M366.8 97.4h0M383.7 108.5h0M376.3 82.0h0M385.3 86.4h0M386.5 101.0h0M382.6 68.8h0M383.4 95.4h0M382.3 85.2h0M381.8 94.1h0M383.7 104.9h0M387.6 80.1h0M373.3 78.2h0M364.4 102.4h0M378.2 106.3h0M389.3 84.8h0M370.1 68.8h0M384.3 74.4h0M381.2 100.7h0M386.5 88.1h0M372.2 85.4h0M386.0 98.3h0M389.5 81.7h0M372.4 75.6h0M388.3 71.3h0M392.6 75.5h0M364.4 86.7h0M367.6 97.3h0M374.1 92.6h0M369.9 86.4h0M392.7 87.4h0M377.0 75.3h0M371.6 106.7h0M379.0 93.8h0M383.1 94.3h0M375.3 80.2h0M371.8 92.9h0M387.0 85.0h0M381.1 104.6h0M374.5 104.8h0M381.3 104.2h0M389.1 85.1h0M379.5 82.3h0M371.0 79.9h0M378.3 86.2h0M374.5 77.4h0M363.5 87.3h0M376.0 75.6h0M367.3 67.6h0M365.1 74.0h0M366.3 85.2h0M384.6 95.7h0M379.1 78.2h0M373.2 96.6h0M388.7 107.2h0M368.0 94.1h0M392.0 90.1h0M385.5 72.0h0M373.6 69.7h0M386.5 87.1h0M375.1 86.0h0M364.0 80.5h0M374.0 86.3h0M388.4 85.0h0M384.1 80.2h0M378.8 86.5h0M374.6 79.6h0M377.9 65.8h0M381.9 89.0h0M363.3 82.0h0M379.6 108.7h0M388.1 87.6h0M394.2 82.0h0M368.1 87.9h0M364.2 108.1h0M374.1 83.6h0M365.8 83.0h0M390.3 102.0h0M373.1 71.4h0M385.5 83.0h0M365.0 87.3h0M386.9 82.4h0M390.6 87.3h0M378.4 77.0h0M389.5 83.7h0M393.7 75.1h0M371.4 82.3h0M372.1 81.4h0M366.1 79.2h0M383.9 76.5h0M373.4 101.8h0M362.6 90.8h0M374.3 102.7h0M372.0 89.9h0M377.1 68.2h0M364.7 107.7h0M368.5 100.1h0M383.4 104.8h0M386.5 101.9h0M373.7 108.4h0M362.7 87.8h0M394.0 72.9h0M383.7 88.6h0M367.1 87.4h0M382.0 84.8h0M385.3 104.5h0M376.0 78.7h0M366.9 78.4h0M364.8 102.4h0M373.9 73.4h0M373.8 88.7h0M366.9 88.4h0M378.9 85.9h0M389.0 70.6h0M386.8 84.4h0M371.6 81.6h0M377.7 89.5h0M363.5 106.8h0M384.1 83.1h0M386.2 95.1h0M370.3 87.5h0M380.5 93.3h0M363.6 79.1h0M396.8 83.0h0M381.0 67.4h0M366.4 100.5h0M370.1 79.9h0M380.1 96.0h0M375.4 65.9h0M369.5 81.6h0M387.9 99.3h0M383.0 95.6h0M373.6 101.9h0M369.1 89.4h0M384.8 77.4h0M368.2 89.3h0M389.3 77.0h0M370.0 79.2h0M392.2 71.3h0M384.3 105.9h0M362.9 106.8h0M382.4 66.8h0M374.3 78.5h0M378.1 92.2h0M368.4 85.3h0M376.2 75.6h0M374.1 96.4h0M365.1 93.1h0M381.8 110.8h0M379.1 83.1h0M366.0 107.5h0M375.8 71.5h0M363.9 83.9h0M365.9 87.2h0M375.6 106.7h0M379.8 102.7h0M397.1 79.5h0M386.0 102.0h0M363.2 104.2h0M376.6 78.1h0M391.2 83.6h0M381.6 110.6h0M371.8 92.2h0M372.2 106.9h0M394.5 78.2h0M396.2 77.0h0M368.3 72.8h0M381.0 92.3h0M388.8 105.5h0M389.3 83.9h0M363.7 93.1h0M379.2 81.5h0M372.6 91.1h0M373.8 81.3h0M365.8 75.1h0M369.2 75.4h0M388.7 79.1h0M397.5 78.8h0M368.6 93.1h0M372.9 96.3h0M381.1 74.1h0M363.1 99.2h0M379.7 89.8h0M369.3 105.0h0M378.4 86.5h0M390.1 95.6h0M390.9 97.2h0M381.8 77.2h0M381.0 74.0h0M384.5 78.5h0M381.3 89.9h0M393.5 83.3h0M387.9 107.5h0M373.5 77.2h0M385.4 78.7h0M364.1 83.7h0M377.1 79.2h0M362.6 101.7h0M364.2 106.1h0M388.9 107.7h0M377.0 104.0h0M383.4 81.3h0M365.0 96.1h0M371.3 86.1h0M365.7 104.6h0M380.1 98.0h0M372.5 77.5h0M376.9 103.0h0M368.2 87.0h0M380.7 101.5h0M385.8 100.8h0M387.4 111.1h0M367.6 88.6h0M391.2 75.9h0M375.7 75.4h0M386.0 92.8h0M388.1 101.1h0M393.3 74.8h0M387.6 99.0h0M375.0 105.4h0M373.3 94.6h0M383.2 82.4h0M384.6 93.2h0M377.4 85.0h0M367.0 81.0h0M373.1 83.8h0M380.3 106.7h0M373.7 83.7h0M365.9 93.3h0M391.5 86.1h0M386.0 105.8h0M367.9 90.8h0M382.3 107.2h0M378.0 100.7h0M373.6 98.6h0M391.1 86.0h0M383.9 100.1h0M362.4 92.7h0M386.1 79.1h0M390.1 100.5h0M382.9 107.8h0M384.0 99.4h0M374.3 92.0h0M381.9 79.5h0M387.6 93.6h0M384.9 109.9h0M395.2 79.2h0M377.1 76.8h0M388.4 109.4h0M367.1 76.6h0M379.7 94.3h0M367.4 100.1h0M388.5 105.8h0M379.3 105.0h0M375.4 106.2h0M371.4 69.7h0M374.2 70.6h0M381.5 84.3h0M374.9 70.0h0M370.6 85.8h0M377.2 96.4h0M388.0 93.8h0M385.2 83.1h0M374.6 88.0h0M389.2 98.9h0M376.4 71.5h0M383.9 77.1h0M387.5 87.6h0M386.4 101.0h0M387.9 74.7h0M375.4 103.8h0M367.4 90.9h0M371.2 72.6h0M363.8 90.7h0M376.2 78.1h0M374.8 77.4h0M375.9 106.5h0M365.6 102.6h0M385.6 68.6h0M392.4 86.5h0M369.1 99.5h0M385.7 81.0h0M385.2 79.3h0M377.3 92.0h0M362.8 106.9h0M366.7 105.9h0M388.8 73.0h0M365.5 75.5h0M369.7 88.0h0M386.4 78.7h0M386.4 76.5h0M368.1 92.9h0M374.1 78.0h0M384.9 101.3h0M384.2 109.0h0M379.3 100.6h0M388.8 100.0h0M379.1 104.7h0M380.8 94.2h0M371.3 84.6h0M370.2 77.0h0M369.0 84.9h0M376.2 94.8h0M374.6 103.8h0M363.8 81.8h0M385.6 98.9h0M371.1 93.4h0M387.9 79.6h0M367.9 107.4h0M390.2 82.6h0M385.0 77.8h0M379.7 92.8h0M387.8 93.2h0M364.4 79.1h0M386.1 105.6h0M371.0 103.4h0M394.3 80.7h0M372.0 79.4h0M368.6 94.3h0M369.4 70.2h0M383.9 72.3h0M376.9 95.8h0M369.5 80.9h0M376.3 71.8h0M372.1 66.9h0M394.1 76.2h0M373.9 98.1h0M380.4 77.8h0M385.8 81.4h0M374.4 83.9h0M372.9 70.2h0M370.2 90.9h0M374.5 99.7h0M376.8 82.7h0M383.5 79.0h0M385.0 93.1h0M374.0 93.4h0M392.2 88.5h0M379.8 85.6h0M375.6 92.3h0M386.5 103.5h0M384.6 69.8h0M384.1 92.7h0M372.4 82.2h0M388.0 73.7h0M385.8 74.5h0M373.6 73.0h0M385.7 70.4h0M390.4 85.2h0M381.6 80.8h0M385.6 75.8h0M381.6 88.1h0M364.7 75.5h0M365.8 92.5h0M376.2 84.5h0M389.0 87.7h0M363.9 83.2h0M386.6 83.2h0M370.3 103.5h0M386.6 109.4h0M375.6 89.1h0M379.7 76.4h0M381.4 83.9h0M384.6 112.3h0M377.9 103.5h0M381.9 78.5h0M379.0 82.3h0M367.5 82.3h0M372.1 100.5h0M383.8 94.0h0M370.2 89.7h0M390.9 75.0h0M370.3 92.7h0M369.4 75.2h0M381.8 69.5h0M388.8 83.4h0M381.5 67.9h0M376.8 68.1h0M388.7 93.4h0M369.6 88.6h0M391.6 78.9h0M367.9 95.8h0M368.3 71.2h0M373.4 107.6h0M375.9 78.6h0M377.8 80.8h0M374.6 78.4h0M389.0 94.7h0M385.3 73.2h0M373.0 82.7h0M394.9 83.6h0M386.5 87.4h0M375.0 74.0h0M385.3 72.1h0M371.9 74.8h0M386.6 92.9h0M385.4 92.7h0M367.8 91.2h0M367.0 105.3h0M366.5 84.7h0M392.5 87.2h0M393.8 82.0h0M366.5 95.1h0M385.9 98.9h0M383.9 106.7h0M374.4 80.1h0M376.1 94.0h0M379.9 108.9h0M388.8 84.4h0M373.0 71.5h0M374.6 107.0h0M383.3 79.4h0M378.5 69.1h0M384.3 108.3h0M387.4 99.6h0M381.8 112.0h0M391.2 85.2h0M379.5 93.0h0M369.0 95.7h0M395.1 76.3h0M376.5 87.3h0M376.9 83.3h0M382.9 102.7h0M373.8 89.1h0M370.8 94.7h0M378.2 93.4h0M370.7 77.5h0M386.9 85.4h0M388.6 107.2h0M377.7 109.6h0M389.7 82.2h0M366.8 87.7h0M365.0 99.9h0M382.7 82.8h0M383.6 71.7h0M374.8 78.0h0M375.0 108.9h0M370.2 107.4h0M376.9 96.9h0M379.0 70.9h0M380.4 92.4h0M375.1 93.0h0M372.1 66.4h0M375.7 91.2h0M388.7 93.7h0M387.2 76.7h0M386.0 107.2h0M376.7 83.1h0M374.1 85.7h0M382.7 84.9h0M369.3 103.0h0M386.6 108.1h0M362.8 90.0h0M395.2 73.6h0M386.6 84.9h0M367.0 68.0h0M390.0 96.6h0M368.6 104.3h0M368.9 71.4h0M386.2 76.7h0M376.4 74.2h0M365.9 89.2h0M395.6 81.8h0M367.5 91.3h0M372.9 66.2h0M388.8 74.7h0M369.6 89.0h0M386.0 111.5h0M374.8 99.7h0M365.3 102.3h0M384.2 95.2h0M369.4 87.2h0M375.8 81.0h0M378.4 102.7h0M372.3 76.2h0M379.7 71.8h0M376.2 84.5h0M371.2 80.5h0M364.2 101.9h0M368.9 77.3h0M366.6 99.7h0M372.6 81.3h0M375.3 99.0h0M385.0 98.8h0M375.3 103.7h0M364.3 74.0h0M379.1 67.9h0M364.1 98.4h0M385.4 95.1h0M374.9 94.4h0M372.8 98.8h0M385.4 72.3h0M377.1 93.8h0M363.7 91.6h0M395.7 81.1h0M383.4 102.3h0M364.4 100.5h0M367.2 75.2h0M376.3 97.6h0M368.3 107.7h0M377.1 101.8h0M384.4 89.0h0M381.1 104.2h0M367.8 107.6h0M374.9 91.1h0M390.0 85.4h0M371.1 75.0h0M388.1 103.0h0M378.5 70.9h0M391.3 82.0h0M386.1 73.6h0M385.5 85.8h0M387.3 91.3h0M364.3 97.5h0M368.7 101.4h0M380.5 107.0h0M381.0 70.8h0M387.1 92.3h0M364.9 77.3h0M379.1 74.0h0M364.7 86.8h0M377.9 102.4h0M376.3 94.4h0M379.9 82.0h0M372.5 107.1h0M386.6 100.3h0M388.1 85.9h0M377.5 109.4h0M368.4 97.1h0M371.5 102.3h0M365.7 96.8h0M375.2 86.9h0M383.3 97.2h0M373.3 74.4h0M371.9 84.0h0M390.1 92.0h0M368.7 77.4h0M371.7 77.1h0M376.2 67.3h0M385.5 90.1h0M391.6 93.7h0M376.4 79.3h0M375.3 73.7h0M380.7 109.5h0M366.0 84.4h0M361.9 103.9h0M376.7 98.5h0M372.5 95.9h0M390.6 77.6h0M390.0 97.1h0" stroke="#128c6e" stroke-width="1.20" stroke-linecap="round"/>
<path d="M364.0 70.0 C366.3 68.0 373.3 66.3 376.0 68.0 C378.7 69.7 379.2 74.7 380.0 80.0 C380.8 85.3 381.7 95.3 381.0 100.0 C380.3 104.7 378.5 106.7 376.0 108.0 C373.5 109.3 368.3 110.0 366.0 108.0 C363.7 106.0 362.7 100.7 362.0 96.0 C361.3 91.3 361.7 84.3 362.0 80.0 C362.3 75.7 361.7 72.0 364.0 70.0 Z" fill="#0f8a68" opacity="0.6"/>
<path d="M368.8 89.0h0M378.7 78.5h0M373.8 98.3h0M366.0 86.0h0M374.8 96.2h0M375.5 98.4h0M378.1 101.5h0M367.4 97.9h0M365.0 88.0h0M377.5 94.1h0M368.5 107.4h0M368.3 95.6h0M376.1 86.1h0M374.5 92.9h0M365.0 90.5h0M378.9 89.3h0M379.4 83.1h0M366.5 96.6h0M365.3 82.4h0M368.8 86.1h0M377.0 103.0h0M362.3 80.1h0M376.1 75.7h0M363.1 82.0h0M375.4 89.0h0M378.8 93.6h0M374.2 71.8h0M367.7 90.7h0M375.0 72.7h0M375.0 97.0h0M375.1 85.4h0M378.3 97.5h0M369.0 72.4h0M370.4 80.4h0M377.2 91.8h0M380.6 81.6h0M377.3 74.5h0M374.5 71.0h0M367.3 78.5h0M364.6 78.5h0M370.7 88.0h0M370.4 70.5h0M364.2 71.1h0M364.9 79.9h0M371.1 101.7h0M373.1 90.2h0M374.4 78.0h0M379.3 82.4h0M376.4 81.7h0M370.0 86.7h0M361.7 96.1h0M372.9 97.2h0M363.5 86.4h0M377.5 96.4h0M375.3 90.3h0M373.2 103.0h0M375.3 82.8h0M362.8 100.7h0M372.2 94.5h0M369.0 107.1h0M373.5 104.5h0M375.4 107.9h0M368.1 88.9h0M375.7 72.7h0M379.2 97.6h0M368.9 103.3h0M374.4 92.8h0M366.5 95.2h0M374.5 85.9h0M373.2 92.1h0M373.2 75.4h0M368.1 81.3h0M373.4 71.9h0M378.8 102.9h0M379.8 88.6h0M370.2 79.3h0M368.4 83.6h0M370.6 107.6h0M368.0 108.3h0M364.1 91.3h0M373.3 105.3h0M373.9 74.8h0M367.9 95.2h0M376.3 95.5h0M378.6 93.2h0M369.4 93.0h0M364.4 98.9h0M367.4 91.7h0M367.6 92.9h0M373.9 87.4h0M374.4 106.6h0M373.9 108.2h0M378.2 95.2h0M380.3 99.7h0M377.3 91.5h0M373.4 78.7h0M374.7 85.1h0M377.4 74.1h0M367.1 79.8h0M373.7 73.7h0M377.2 97.0h0M376.8 84.1h0M367.0 79.9h0M370.3 101.9h0M373.3 90.2h0M371.7 83.0h0M369.1 101.5h0M366.6 71.7h0M372.6 83.6h0M371.6 76.8h0M367.0 98.1h0M378.3 89.9h0M380.3 91.9h0M380.2 84.0h0M367.9 84.7h0M374.4 87.9h0M371.9 105.9h0M378.0 99.9h0M363.6 93.8h0M364.4 89.5h0M365.4 72.8h0M373.7 98.2h0M376.2 70.9h0M374.2 71.8h0M377.3 77.4h0M376.1 85.7h0M367.6 95.9h0M366.8 85.5h0M375.3 87.8h0M365.1 85.4h0M376.9 75.9h0M364.1 99.4h0M379.6 101.0h0M376.0 106.6h0M374.0 82.6h0M372.4 87.2h0M378.2 78.9h0M372.5 71.6h0M375.3 99.3h0M367.7 82.5h0M366.9 107.6h0M379.1 87.6h0M369.1 88.5h0M367.3 105.2h0M372.4 100.1h0M366.6 72.2h0M377.8 80.1h0M377.2 103.5h0M369.9 85.4h0M373.8 103.3h0M373.8 84.4h0M370.0 89.8h0M379.5 84.9h0M366.7 103.2h0M375.1 85.1h0M365.8 82.1h0M369.2 81.0h0M370.3 90.6h0M371.0 85.1h0M375.4 71.8h0M376.1 100.4h0M369.7 96.6h0M380.6 83.6h0M370.9 107.0h0M375.5 93.0h0M364.4 87.5h0M369.7 82.7h0M365.2 92.4h0M374.3 80.5h0M368.2 77.8h0M365.1 80.9h0M363.6 87.2h0M368.9 104.6h0M370.6 87.2h0M368.7 80.6h0M369.0 100.5h0M375.5 93.8h0M377.6 82.8h0M365.3 89.9h0M361.9 83.7h0M363.7 98.2h0M369.5 77.2h0M376.1 72.8h0M378.4 103.1h0M376.0 91.9h0M370.6 89.4h0M369.5 74.1h0M377.4 80.2h0M373.2 94.0h0M370.9 84.7h0M365.9 101.0h0M367.5 82.6h0M368.1 85.6h0M366.4 101.6h0M377.2 101.7h0M365.2 70.6h0M372.9 92.2h0M365.8 95.2h0M371.1 74.6h0M375.5 82.9h0M375.9 104.7h0M373.1 83.9h0M373.3 86.8h0M365.6 86.4h0M362.5 76.0h0M371.7 83.4h0M365.1 85.1h0M371.3 102.3h0M376.6 103.9h0M373.9 69.7h0M370.0 84.8h0M376.6 83.1h0M373.0 72.1h0M374.4 95.6h0M371.3 107.0h0M374.1 79.6h0M369.8 94.4h0M373.9 95.4h0M376.2 103.7h0M369.7 106.2h0M377.4 73.9h0M371.5 85.5h0M363.9 76.8h0M376.2 70.8h0M375.6 82.8h0M363.5 81.9h0M373.0 78.3h0M378.5 82.1h0M369.5 74.8h0M371.6 89.8h0M372.8 83.2h0M372.9 82.7h0M377.9 83.9h0M375.0 75.4h0M370.9 103.7h0M367.9 107.0h0M369.0 74.9h0M380.9 99.8h0M369.9 98.2h0M368.6 97.5h0M368.0 79.5h0M368.1 80.8h0M364.7 74.6h0M378.9 73.9h0M375.1 107.5h0M362.5 93.3h0M374.0 84.2h0M375.1 105.6h0M373.4 84.6h0M377.2 82.7h0" stroke="#0e8264" stroke-width="1.20" stroke-linecap="round"/>
<path d="M387.8 73.0h0M378.0 72.0h0M379.0 71.9h0M381.1 75.8h0M378.7 69.4h0M378.2 68.2h0M377.8 72.9h0M397.1 79.4h0M395.1 78.9h0M382.9 67.7h0M394.4 74.8h0M385.2 71.8h0M392.6 77.9h0M395.1 81.3h0M379.6 73.1h0M393.1 80.6h0M384.7 75.8h0M381.7 73.8h0M377.1 69.5h0M380.8 69.4h0M377.5 71.2h0M377.8 70.2h0M383.3 71.2h0M389.1 74.8h0M379.5 71.6h0M390.5 79.5h0M390.0 73.8h0M385.7 75.1h0M389.6 75.0h0M381.5 75.8h0M385.7 67.1h0M390.1 72.2h0M377.5 67.7h0M376.4 74.5h0M376.9 70.5h0M382.4 65.7h0M387.7 79.0h0M392.5 73.1h0M373.7 69.5h0M395.1 75.8h0M379.4 70.4h0M376.3 67.3h0M374.4 70.0h0M387.9 68.8h0M387.0 76.9h0M392.5 75.5h0M391.5 70.6h0M389.1 79.4h0M380.6 69.7h0M395.0 74.0h0M395.0 75.1h0M390.5 70.9h0M382.5 74.5h0M394.6 80.2h0M377.7 68.7h0M385.8 73.5h0M379.1 70.9h0M384.6 74.4h0M394.2 80.5h0M386.0 75.9h0M380.4 73.0h0M377.5 71.1h0M383.6 70.2h0M377.1 68.8h0M394.2 80.7h0M379.0 68.1h0M381.7 70.0h0M393.9 79.2h0M391.9 78.9h0M380.7 73.2h0M382.3 72.9h0M383.8 68.6h0M392.4 73.2h0M386.8 68.8h0M380.9 70.1h0M387.3 75.1h0M385.5 76.3h0M376.8 68.6h0M387.4 74.4h0M391.8 77.7h0M376.2 69.2h0M389.5 77.4h0M393.0 81.7h0M382.7 77.4h0M376.6 73.5h0M390.2 77.6h0M378.6 74.9h0M395.9 79.2h0M382.5 69.9h0M384.5 67.6h0" stroke="#2aaade" stroke-width="1.10" stroke-linecap="round"/>
<path d="M388.0 104.5h0M390.2 75.8h0M383.7 72.3h0M394.2 91.6h0M383.7 81.4h0M384.5 77.1h0M380.1 70.8h0M387.0 105.3h0M397.0 82.2h0M391.7 72.6h0M386.4 96.7h0M388.4 80.7h0M388.0 71.5h0M384.6 72.2h0M380.7 96.6h0M382.8 68.4h0M381.3 93.3h0M387.1 92.4h0M391.3 78.5h0M385.0 92.4h0M388.1 103.2h0M387.9 88.5h0M392.5 91.6h0M383.9 80.6h0M386.4 80.5h0M386.1 106.7h0M391.2 84.0h0M390.8 75.4h0M379.4 71.7h0M388.8 78.3h0M383.1 89.0h0M385.1 79.7h0M392.8 83.9h0M384.9 97.4h0M382.9 96.9h0M384.4 94.5h0M385.2 84.4h0M395.6 82.2h0M389.5 78.0h0M389.0 99.1h0M384.6 102.3h0M391.7 74.0h0M387.1 95.9h0M382.2 74.4h0M389.3 86.9h0M390.3 101.3h0M390.3 71.1h0M384.7 76.0h0M381.5 95.0h0M393.9 77.7h0M389.8 80.8h0M384.2 93.0h0M392.2 74.1h0M385.2 92.1h0M382.2 89.8h0M387.6 96.2h0M392.4 86.8h0M382.9 85.1h0M385.6 73.2h0M384.4 76.5h0M393.0 85.7h0M389.2 98.9h0M391.2 72.5h0M391.3 80.3h0M391.5 96.3h0M385.4 82.2h0M387.6 84.6h0M385.3 100.8h0M390.3 94.9h0M381.5 85.7h0M390.2 104.0h0M390.0 74.0h0M392.8 92.9h0M392.2 93.3h0M380.0 74.5h0M388.5 99.9h0M387.5 99.0h0M388.3 79.8h0M384.5 70.2h0M387.1 98.8h0M386.5 79.2h0M389.7 99.0h0M390.4 90.6h0M385.8 93.2h0M391.1 99.8h0M392.2 83.6h0M382.3 94.4h0M389.0 83.5h0M384.7 97.4h0M387.2 85.6h0M394.5 89.3h0M397.0 82.5h0M385.8 95.4h0M392.4 84.4h0M386.2 106.7h0M397.2 82.1h0M393.7 78.0h0M390.4 77.6h0M388.1 83.6h0M381.1 80.1h0M395.1 87.8h0M386.1 105.3h0M384.9 103.9h0M386.8 83.5h0M386.1 85.4h0M380.9 77.1h0M380.2 97.0h0M384.0 85.8h0M381.8 81.6h0M381.7 100.3h0M380.5 69.2h0M391.2 99.5h0M382.2 93.0h0M385.7 80.7h0M387.2 100.4h0M381.6 73.4h0M393.9 83.1h0M389.2 91.9h0M389.6 82.2h0M380.5 74.2h0M390.7 82.7h0M388.7 89.9h0M384.4 69.5h0M385.4 69.7h0M386.0 107.2h0M388.4 71.5h0M383.4 91.1h0M385.9 94.6h0M384.2 75.8h0M388.4 104.3h0M380.3 68.9h0M390.0 85.6h0M389.0 103.6h0M389.7 90.6h0M390.7 96.8h0M389.0 106.2h0M394.2 83.7h0M395.4 86.5h0M390.8 97.0h0M392.8 94.6h0M391.4 74.6h0M383.3 90.4h0M391.1 81.5h0M387.8 94.7h0M393.5 87.8h0M388.7 101.9h0M391.5 89.3h0M387.8 106.9h0M394.7 78.3h0M379.9 74.9h0M389.4 96.3h0M382.5 73.1h0M382.9 68.4h0M386.9 69.8h0M389.8 100.1h0M388.8 70.8h0M389.1 82.7h0M387.8 82.2h0M390.1 84.5h0M392.3 91.0h0" stroke="#e4f4ee" stroke-width="1.10" stroke-linecap="round"/>
<defs><linearGradient id="dg2" x1="0" x2="1" y1="0" y2="0"><stop offset="0" stop-color="#c8c0c0" stop-opacity="0.2"/><stop offset="0.2" stop-color="#a09898" stop-opacity="0.75"/><stop offset="0.42" stop-color="#585050" stop-opacity="0.8"/><stop offset="0.6" stop-color="#203a30" stop-opacity="0.35"/><stop offset="1" stop-color="#0a3a2a" stop-opacity="0"/></linearGradient></defs>
<defs><mask id="dgm2"><ellipse cx="364" cy="84" rx="9" ry="18" fill="url(#dgr)"/></mask></defs>
<rect x="355" y="64" width="18" height="40" fill="url(#dg2)" mask="url(#dgm2)"/>
<g fill="none" stroke="#98686a" stroke-width="0.6"><path d="M368.5 66 Q367.5 46 369.5 39 Q371.5 33.5 374 34 Q377 35.5 377.3 44 L377.2 62"/><path d="M377.4 46 Q378 38.5 380.5 37 Q383.5 36 384.8 41 Q385.5 46 384 52"/><path d="M371 38 Q372.5 36 374 38 Q375 45 374 60"/><path d="M368.5 66 Q364 71 362.5 78"/></g>
<circle cx="352.00" cy="90.00" r="0.70" fill="#3a8a6a"/>
<circle cx="456.50" cy="63.90" r="2.60" fill="#eea21c"/>
<text x="461.80" y="66.21" font-size="6.7" fill="#333">Naive</text>
<circle cx="456.50" cy="72.60" r="2.60" fill="#2aaade"/>
<text x="461.80" y="74.91" font-size="6.7" fill="#333">Early Tm</text>
<circle cx="456.50" cy="81.30" r="2.60" fill="#128c6e"/>
<text x="461.80" y="83.61" font-size="6.7" fill="#333">Term/SenL</text>
<circle cx="456.50" cy="90.00" r="2.60" fill="#f4d42c"/>
<text x="461.80" y="92.31" font-size="6.7" fill="#333">Act</text>
<text x="87.60" y="143.50" font-size="8.4" text-anchor="middle" fill="#333">NonRes_bas</text>
<rect x="53.20" y="155.20" width="16.70" height="31.20" fill="#eaf4ff"/>
<rect x="53.80" y="155.80" width="15.50" height="30.00" fill="#1c4e8a"/>
<line x1="61.55" y1="187.70" x2="61.55" y2="190.20" stroke="#2a2a2a" stroke-width="0.8"/>
<text x="64.15" y="195.60" font-size="6.85" text-anchor="end" fill="#333" transform="rotate(-45 64.15 195.60)">Naive</text>
<rect x="70.80" y="176.20" width="16.70" height="10.20" fill="#eaf4ff"/>
<rect x="71.40" y="176.80" width="15.50" height="1.70" fill="#641a70"/>
<rect x="71.40" y="178.50" width="15.50" height="7.30" fill="#1c4e8a"/>
<line x1="79.15" y1="187.70" x2="79.15" y2="190.20" stroke="#2a2a2a" stroke-width="0.8"/>
<text x="81.75" y="195.60" font-size="6.85" text-anchor="end" fill="#333" transform="rotate(-45 81.75 195.60)">Early Tm</text>
<rect x="88.40" y="153.00" width="16.70" height="33.40" fill="#eaf4ff"/>
<rect x="89.00" y="153.60" width="15.50" height="0.70" fill="#f6b824"/>
<rect x="89.00" y="154.30" width="15.50" height="7.90" fill="#f39118"/>
<rect x="89.00" y="162.20" width="15.50" height="6.40" fill="#e2137c"/>
<rect x="89.00" y="168.60" width="15.50" height="8.70" fill="#641a70"/>
<rect x="89.00" y="177.30" width="15.50" height="8.50" fill="#1c4e8a"/>
<line x1="96.75" y1="187.70" x2="96.75" y2="190.20" stroke="#2a2a2a" stroke-width="0.8"/>
<text x="99.35" y="195.60" font-size="6.85" text-anchor="end" fill="#333" transform="rotate(-45 99.35 195.60)">Term/SenL</text>
<rect x="106.00" y="174.50" width="16.70" height="11.90" fill="#eaf4ff"/>
<rect x="106.60" y="175.10" width="15.50" height="1.70" fill="#f39118"/>
<rect x="106.60" y="176.80" width="15.50" height="2.00" fill="#e2137c"/>
<rect x="106.60" y="178.80" width="15.50" height="2.00" fill="#641a70"/>
<rect x="106.60" y="180.80" width="15.50" height="5.00" fill="#1c4e8a"/>
<line x1="114.35" y1="187.70" x2="114.35" y2="190.20" stroke="#2a2a2a" stroke-width="0.8"/>
<text x="116.95" y="195.60" font-size="6.85" text-anchor="end" fill="#333" transform="rotate(-45 116.95 195.60)">Act</text>
<line x1="50.60" y1="187.70" x2="124.60" y2="187.70" stroke="#2a2a2a" stroke-width="1.1"/>
<text x="165.60" y="143.50" font-size="8.4" text-anchor="middle" fill="#333">NonRes_post</text>
<rect x="131.20" y="149.00" width="16.70" height="37.40" fill="#eaf4ff"/>
<rect x="131.80" y="149.60" width="15.50" height="36.20" fill="#1c4e8a"/>
<line x1="139.55" y1="187.70" x2="139.55" y2="190.20" stroke="#2a2a2a" stroke-width="0.8"/>
<text x="142.15" y="195.60" font-size="6.85" text-anchor="end" fill="#333" transform="rotate(-45 142.15 195.60)">Naive</text>
<rect x="148.80" y="170.50" width="16.70" height="15.90" fill="#eaf4ff"/>
<rect x="149.40" y="171.10" width="15.50" height="1.90" fill="#641a70"/>
<rect x="149.40" y="173.00" width="15.50" height="12.80" fill="#1c4e8a"/>
<line x1="157.15" y1="187.70" x2="157.15" y2="190.20" stroke="#2a2a2a" stroke-width="0.8"/>
<text x="159.75" y="195.60" font-size="6.85" text-anchor="end" fill="#333" transform="rotate(-45 159.75 195.60)">Early Tm</text>
<rect x="166.40" y="160.80" width="16.70" height="25.60" fill="#eaf4ff"/>
<rect x="167.00" y="161.40" width="15.50" height="4.40" fill="#f6b824"/>
<rect x="167.00" y="165.80" width="15.50" height="3.00" fill="#f39118"/>
<rect x="167.00" y="168.80" width="15.50" height="3.90" fill="#e2137c"/>
<rect x="167.00" y="172.70" width="15.50" height="6.50" fill="#641a70"/>
<rect x="167.00" y="179.20" width="15.50" height="6.60" fill="#1c4e8a"/>
<line x1="174.75" y1="187.70" x2="174.75" y2="190.20" stroke="#2a2a2a" stroke-width="0.8"/>
<text x="177.35" y="195.60" font-size="6.85" text-anchor="end" fill="#333" transform="rotate(-45 177.35 195.60)">Term/SenL</text>
<rect x="184.00" y="177.10" width="16.70" height="9.30" fill="#eaf4ff"/>
<rect x="184.60" y="177.70" width="15.50" height="1.30" fill="#e2137c"/>
<rect x="184.60" y="179.00" width="15.50" height="2.50" fill="#641a70"/>
<rect x="184.60" y="181.50" width="15.50" height="4.30" fill="#1c4e8a"/>
<line x1="192.35" y1="187.70" x2="192.35" y2="190.20" stroke="#2a2a2a" stroke-width="0.8"/>
<text x="194.95" y="195.60" font-size="6.85" text-anchor="end" fill="#333" transform="rotate(-45 194.95 195.60)">Act</text>
<line x1="128.60" y1="187.70" x2="202.60" y2="187.70" stroke="#2a2a2a" stroke-width="1.1"/>
<text x="243.80" y="143.50" font-size="8.4" text-anchor="middle" fill="#333">Res_bas</text>
<rect x="209.40" y="175.90" width="16.70" height="10.50" fill="#eaf4ff"/>
<rect x="210.00" y="176.50" width="15.50" height="9.30" fill="#1c4e8a"/>
<line x1="217.75" y1="187.70" x2="217.75" y2="190.20" stroke="#2a2a2a" stroke-width="0.8"/>
<text x="220.35" y="195.60" font-size="6.85" text-anchor="end" fill="#333" transform="rotate(-45 220.35 195.60)">Naive</text>
<rect x="227.00" y="161.80" width="16.70" height="24.60" fill="#eaf4ff"/>
<rect x="227.60" y="162.40" width="15.50" height="3.40" fill="#f39118"/>
<rect x="227.60" y="165.80" width="15.50" height="3.40" fill="#e2137c"/>
<rect x="227.60" y="169.20" width="15.50" height="4.30" fill="#641a70"/>
<rect x="227.60" y="173.50" width="15.50" height="12.30" fill="#1c4e8a"/>
<line x1="235.35" y1="187.70" x2="235.35" y2="190.20" stroke="#2a2a2a" stroke-width="0.8"/>
<text x="237.95" y="195.60" font-size="6.85" text-anchor="end" fill="#333" transform="rotate(-45 237.95 195.60)">Early Tm</text>
<rect x="244.60" y="159.40" width="16.70" height="27.00" fill="#eaf4ff"/>
<rect x="245.20" y="160.00" width="15.50" height="3.50" fill="#f6b824"/>
<rect x="245.20" y="163.50" width="15.50" height="7.20" fill="#f39118"/>
<rect x="245.20" y="170.70" width="15.50" height="6.10" fill="#e2137c"/>
<rect x="245.20" y="176.80" width="15.50" height="5.20" fill="#641a70"/>
<rect x="245.20" y="182.00" width="15.50" height="3.80" fill="#1c4e8a"/>
<line x1="252.95" y1="187.70" x2="252.95" y2="190.20" stroke="#2a2a2a" stroke-width="0.8"/>
<text x="255.55" y="195.60" font-size="6.85" text-anchor="end" fill="#333" transform="rotate(-45 255.55 195.60)">Term/SenL</text>
<rect x="262.20" y="182.60" width="16.70" height="3.80" fill="#eaf4ff"/>
<rect x="262.80" y="183.20" width="15.50" height="1.00" fill="#641a70"/>
<rect x="262.80" y="184.20" width="15.50" height="1.60" fill="#1c4e8a"/>
<line x1="270.55" y1="187.70" x2="270.55" y2="190.20" stroke="#2a2a2a" stroke-width="0.8"/>
<text x="273.15" y="195.60" font-size="6.85" text-anchor="end" fill="#333" transform="rotate(-45 273.15 195.60)">Act</text>
<line x1="206.80" y1="187.70" x2="280.80" y2="187.70" stroke="#2a2a2a" stroke-width="1.1"/>
<text x="321.80" y="143.50" font-size="8.4" text-anchor="middle" fill="#333">Res_post</text>
<rect x="287.40" y="171.00" width="16.70" height="15.40" fill="#eaf4ff"/>
<rect x="288.00" y="171.60" width="15.50" height="14.20" fill="#1c4e8a"/>
<line x1="295.75" y1="187.70" x2="295.75" y2="190.20" stroke="#2a2a2a" stroke-width="0.8"/>
<text x="298.35" y="195.60" font-size="6.85" text-anchor="end" fill="#333" transform="rotate(-45 298.35 195.60)">Naive</text>
<rect x="305.00" y="164.90" width="16.70" height="21.50" fill="#eaf4ff"/>
<rect x="305.60" y="165.50" width="15.50" height="4.10" fill="#f39118"/>
<rect x="305.60" y="169.60" width="15.50" height="1.00" fill="#e2137c"/>
<rect x="305.60" y="170.60" width="15.50" height="5.20" fill="#641a70"/>
<rect x="305.60" y="175.80" width="15.50" height="10.00" fill="#1c4e8a"/>
<line x1="313.35" y1="187.70" x2="313.35" y2="190.20" stroke="#2a2a2a" stroke-width="0.8"/>
<text x="315.95" y="195.60" font-size="6.85" text-anchor="end" fill="#333" transform="rotate(-45 315.95 195.60)">Early Tm</text>
<rect x="322.60" y="159.40" width="16.70" height="27.00" fill="#eaf4ff"/>
<rect x="323.20" y="160.00" width="15.50" height="6.50" fill="#f6b824"/>
<rect x="323.20" y="166.50" width="15.50" height="7.30" fill="#f39118"/>
<rect x="323.20" y="173.80" width="15.50" height="5.40" fill="#e2137c"/>
<rect x="323.20" y="179.20" width="15.50" height="2.30" fill="#641a70"/>
<rect x="323.20" y="181.50" width="15.50" height="4.30" fill="#1c4e8a"/>
<line x1="330.95" y1="187.70" x2="330.95" y2="190.20" stroke="#2a2a2a" stroke-width="0.8"/>
<text x="333.55" y="195.60" font-size="6.85" text-anchor="end" fill="#333" transform="rotate(-45 333.55 195.60)">Term/SenL</text>
<rect x="340.20" y="178.20" width="16.70" height="8.20" fill="#eaf4ff"/>
<rect x="340.80" y="178.80" width="15.50" height="2.20" fill="#f39118"/>
<rect x="340.80" y="181.00" width="15.50" height="2.00" fill="#641a70"/>
<rect x="340.80" y="183.00" width="15.50" height="2.80" fill="#1c4e8a"/>
<line x1="348.55" y1="187.70" x2="348.55" y2="190.20" stroke="#2a2a2a" stroke-width="0.8"/>
<text x="351.15" y="195.60" font-size="6.85" text-anchor="end" fill="#333" transform="rotate(-45 351.15 195.60)">Act</text>
<line x1="284.80" y1="187.70" x2="358.80" y2="187.70" stroke="#2a2a2a" stroke-width="1.1"/>
<line x1="50.60" y1="148.00" x2="50.60" y2="188.20" stroke="#2a2a2a" stroke-width="1.1"/>
<line x1="48.20" y1="159.40" x2="50.60" y2="159.40" stroke="#2a2a2a" stroke-width="0.8"/>
<text x="45.00" y="161.95" font-size="7.4" text-anchor="end" fill="#333" textLength="13.83" lengthAdjust="spacingAndGlyphs">1000</text>
<line x1="48.20" y1="172.70" x2="50.60" y2="172.70" stroke="#2a2a2a" stroke-width="0.8"/>
<text x="45.00" y="175.25" font-size="7.4" text-anchor="end" fill="#333" textLength="10.37" lengthAdjust="spacingAndGlyphs">500</text>
<line x1="48.20" y1="186.00" x2="50.60" y2="186.00" stroke="#2a2a2a" stroke-width="0.8"/>
<text x="45.00" y="188.55" font-size="7.4" text-anchor="end" fill="#333" textLength="3.46" lengthAdjust="spacingAndGlyphs">0</text>
<text x="22.20" y="170.40" font-size="8.4" text-anchor="middle" fill="#333" textLength="33.40" lengthAdjust="spacingAndGlyphs" transform="rotate(-90 22.20 167.50)">Single cells</text>
<rect x="371.20" y="146.00" width="4.40" height="4.40" fill="#f6b824"/>
<text x="378.70" y="150.48" font-size="6.6" fill="#333" textLength="93.60" lengthAdjust="spacingAndGlyphs">Hyperexpanded (100 &lt; X ≤ 500)</text>
<rect x="371.20" y="154.20" width="4.40" height="4.40" fill="#f39118"/>
<text x="378.70" y="158.68" font-size="6.6" fill="#333" textLength="60.00" lengthAdjust="spacingAndGlyphs">Large (20 &lt; X ≤ 100)</text>
<rect x="371.20" y="162.40" width="4.40" height="4.40" fill="#e2137c"/>
<text x="378.70" y="166.88" font-size="6.6" fill="#333" textLength="60.00" lengthAdjust="spacingAndGlyphs">Medium (5 &lt; X ≤ 20)</text>
<rect x="371.20" y="170.60" width="4.40" height="4.40" fill="#4a1a50"/>
<text x="378.70" y="175.08" font-size="6.6" fill="#333" textLength="47.10" lengthAdjust="spacingAndGlyphs">Small (1 &lt; X ≤ 5)</text>
<rect x="371.20" y="178.80" width="4.40" height="4.40" fill="#1c4e8a"/>
<text x="378.70" y="183.28" font-size="6.6" fill="#333" textLength="42.30" lengthAdjust="spacingAndGlyphs">Not Expanded</text>
<rect x="45.6" y="246.9" width="92.2" height="114" fill="none" stroke="#2a2a2a" stroke-width="1.1"/>
<line x1="43.20" y1="249.80" x2="45.60" y2="249.80" stroke="#2a2a2a" stroke-width="0.8"/>
<text x="39.60" y="252.28" font-size="7.2" text-anchor="end" fill="#333" textLength="8.51" lengthAdjust="spacingAndGlyphs">0.8</text>
<line x1="43.20" y1="276.70" x2="45.60" y2="276.70" stroke="#2a2a2a" stroke-width="0.8"/>
<text x="39.60" y="279.18" font-size="7.2" text-anchor="end" fill="#333" textLength="8.51" lengthAdjust="spacingAndGlyphs">0.6</text>
<line x1="43.20" y1="303.60" x2="45.60" y2="303.60" stroke="#2a2a2a" stroke-width="0.8"/>
<text x="39.60" y="306.08" font-size="7.2" text-anchor="end" fill="#333" textLength="8.51" lengthAdjust="spacingAndGlyphs">0.4</text>
<line x1="43.20" y1="330.40" x2="45.60" y2="330.40" stroke="#2a2a2a" stroke-width="0.8"/>
<text x="39.60" y="332.88" font-size="7.2" text-anchor="end" fill="#333" textLength="8.51" lengthAdjust="spacingAndGlyphs">0.2</text>
<line x1="43.20" y1="357.30" x2="45.60" y2="357.30" stroke="#2a2a2a" stroke-width="0.8"/>
<text x="39.60" y="359.78" font-size="7.2" text-anchor="end" fill="#333" textLength="8.51" lengthAdjust="spacingAndGlyphs">0.0</text>
<line x1="58.60" y1="360.90" x2="58.60" y2="363.40" stroke="#2a2a2a" stroke-width="0.8"/>
<text x="58.60" y="372.88" font-size="7.2" text-anchor="middle" fill="#333" textLength="11.91" lengthAdjust="spacingAndGlyphs">0.80</text>
<line x1="77.63" y1="360.90" x2="77.63" y2="363.40" stroke="#2a2a2a" stroke-width="0.8"/>
<text x="77.63" y="372.88" font-size="7.2" text-anchor="middle" fill="#333" textLength="11.91" lengthAdjust="spacingAndGlyphs">0.85</text>
<line x1="96.66" y1="360.90" x2="96.66" y2="363.40" stroke="#2a2a2a" stroke-width="0.8"/>
<text x="96.66" y="372.88" font-size="7.2" text-anchor="middle" fill="#333" textLength="11.91" lengthAdjust="spacingAndGlyphs">0.90</text>
<line x1="115.69" y1="360.90" x2="115.69" y2="363.40" stroke="#2a2a2a" stroke-width="0.8"/>
<text x="115.69" y="372.88" font-size="7.2" text-anchor="middle" fill="#333" textLength="11.91" lengthAdjust="spacingAndGlyphs">0.95</text>
<line x1="134.72" y1="360.90" x2="134.72" y2="363.40" stroke="#2a2a2a" stroke-width="0.8"/>
<text x="134.72" y="372.88" font-size="7.2" text-anchor="middle" fill="#333" textLength="11.91" lengthAdjust="spacingAndGlyphs">1.00</text>
<text x="91.80" y="385.04" font-size="8.8" text-anchor="middle" fill="#333" textLength="46.50" lengthAdjust="spacingAndGlyphs">NeoTCR8 index</text>
<text x="22.40" y="307.04" font-size="8.8" text-anchor="middle" fill="#333" textLength="50.00" lengthAdjust="spacingAndGlyphs" transform="rotate(-90 22.40 304.00)">Expansion index</text>
<circle cx="49.60" cy="355.60" r="3.30" fill="#f0a818"/>
<circle cx="128.40" cy="302.70" r="3.30" fill="#1fb0dc"/>
<circle cx="133.80" cy="251.90" r="4.00" fill="#0e8a60"/>
<circle cx="126.00" cy="275.20" r="2.70" fill="#f2e23c"/>
<circle cx="152.70" cy="290.40" r="3.20" fill="#f29a1e"/>
<text x="159.20" y="292.73" font-size="6.75" fill="#333">Naive</text>
<circle cx="152.70" cy="299.20" r="3.20" fill="#1fb0dc"/>
<text x="159.20" y="301.53" font-size="6.75" fill="#333">Early Tm</text>
<circle cx="152.70" cy="308.00" r="3.20" fill="#12855e"/>
<text x="159.20" y="310.33" font-size="6.75" fill="#333">Term/SenL</text>
<circle cx="152.70" cy="316.80" r="3.20" fill="#f6dc3c"/>
<text x="159.20" y="319.13" font-size="6.75" fill="#333">Act</text>
<text x="285.20" y="245.67" font-size="8.6" text-anchor="middle" fill="#333" textLength="69.20" lengthAdjust="spacingAndGlyphs">In-silico validation</text>
<text x="261.90" y="259.17" font-size="8.6" text-anchor="middle" fill="#333">AML</text>
<text x="309.00" y="259.17" font-size="8.6" text-anchor="middle" fill="#333">HD</text>
<rect x="240.80" y="291.20" width="10.30" height="42.90" fill="#eaf4ff"/>
<rect x="241.30" y="291.70" width="9.30" height="1.50" fill="#641a70"/>
<rect x="241.30" y="293.20" width="9.30" height="40.40" fill="#1c4e8a"/>
<line x1="245.95" y1="336.70" x2="245.95" y2="339.30" stroke="#2a2a2a" stroke-width="0.8"/>
<text x="248.95" y="346.00" font-size="6.5" text-anchor="end" fill="#333" transform="rotate(-45 248.95 346.00)">Naive</text>
<rect x="251.50" y="265.50" width="10.30" height="68.60" fill="#eaf4ff"/>
<rect x="252.00" y="266.00" width="9.30" height="5.60" fill="#f6b824"/>
<rect x="252.00" y="271.60" width="9.30" height="11.30" fill="#f39118"/>
<rect x="252.00" y="282.90" width="9.30" height="10.50" fill="#e2137c"/>
<rect x="252.00" y="293.40" width="9.30" height="13.80" fill="#641a70"/>
<rect x="252.00" y="307.20" width="9.30" height="26.40" fill="#1c4e8a"/>
<line x1="256.65" y1="336.70" x2="256.65" y2="339.30" stroke="#2a2a2a" stroke-width="0.8"/>
<text x="259.65" y="346.00" font-size="6.5" text-anchor="end" fill="#333" transform="rotate(-45 259.65 346.00)">Early Tm</text>
<rect x="262.50" y="273.30" width="10.30" height="60.80" fill="#eaf4ff"/>
<rect x="263.00" y="273.80" width="9.30" height="11.00" fill="#f6b824"/>
<rect x="263.00" y="284.80" width="9.30" height="15.00" fill="#f39118"/>
<rect x="263.00" y="299.80" width="9.30" height="12.10" fill="#e2137c"/>
<rect x="263.00" y="311.90" width="9.30" height="11.50" fill="#641a70"/>
<rect x="263.00" y="323.40" width="9.30" height="10.20" fill="#1c4e8a"/>
<line x1="267.65" y1="336.70" x2="267.65" y2="339.30" stroke="#2a2a2a" stroke-width="0.8"/>
<text x="270.65" y="346.00" font-size="6.5" text-anchor="end" fill="#333" transform="rotate(-45 270.65 346.00)">Term/SenL</text>
<rect x="273.50" y="306.60" width="10.30" height="27.50" fill="#eaf4ff"/>
<rect x="274.00" y="307.10" width="9.30" height="2.70" fill="#f6b824"/>
<rect x="274.00" y="309.80" width="9.30" height="4.90" fill="#f39118"/>
<rect x="274.00" y="314.70" width="9.30" height="5.30" fill="#e2137c"/>
<rect x="274.00" y="320.00" width="9.30" height="6.00" fill="#641a70"/>
<rect x="274.00" y="326.00" width="9.30" height="7.60" fill="#1c4e8a"/>
<line x1="278.65" y1="336.70" x2="278.65" y2="339.30" stroke="#2a2a2a" stroke-width="0.8"/>
<text x="281.65" y="346.00" font-size="6.5" text-anchor="end" fill="#333" transform="rotate(-45 281.65 346.00)">Act</text>
<line x1="239.60" y1="336.70" x2="284.00" y2="336.70" stroke="#2a2a2a" stroke-width="1.1"/>
<rect x="287.60" y="316.60" width="10.30" height="17.50" fill="#eaf4ff"/>
<rect x="288.10" y="317.10" width="9.30" height="16.50" fill="#1c4e8a"/>
<line x1="292.75" y1="336.70" x2="292.75" y2="339.30" stroke="#2a2a2a" stroke-width="0.8"/>
<text x="295.75" y="346.00" font-size="6.5" text-anchor="end" fill="#333" transform="rotate(-45 295.75 346.00)">Naive</text>
<rect x="298.30" y="291.40" width="10.30" height="42.70" fill="#eaf4ff"/>
<rect x="298.80" y="291.90" width="9.30" height="10.60" fill="#f39118"/>
<rect x="298.80" y="302.50" width="9.30" height="7.70" fill="#e2137c"/>
<rect x="298.80" y="310.20" width="9.30" height="7.60" fill="#641a70"/>
<rect x="298.80" y="317.80" width="9.30" height="15.80" fill="#1c4e8a"/>
<line x1="303.45" y1="336.70" x2="303.45" y2="339.30" stroke="#2a2a2a" stroke-width="0.8"/>
<text x="306.45" y="346.00" font-size="6.5" text-anchor="end" fill="#333" transform="rotate(-45 306.45 346.00)">Early Tm</text>
<rect x="308.90" y="310.40" width="10.30" height="23.70" fill="#eaf4ff"/>
<rect x="309.40" y="310.90" width="9.30" height="10.00" fill="#f39118"/>
<rect x="309.40" y="320.90" width="9.30" height="6.40" fill="#e2137c"/>
<rect x="309.40" y="327.30" width="9.30" height="2.20" fill="#641a70"/>
<rect x="309.40" y="329.50" width="9.30" height="4.10" fill="#1c4e8a"/>
<line x1="314.05" y1="336.70" x2="314.05" y2="339.30" stroke="#2a2a2a" stroke-width="0.8"/>
<text x="317.05" y="346.00" font-size="6.5" text-anchor="end" fill="#333" transform="rotate(-45 317.05 346.00)">Term/SenL</text>
<rect x="319.90" y="317.30" width="10.30" height="16.80" fill="#eaf4ff"/>
<rect x="320.40" y="317.80" width="9.30" height="4.00" fill="#f39118"/>
<rect x="320.40" y="321.80" width="9.30" height="2.60" fill="#e2137c"/>
<rect x="320.40" y="324.40" width="9.30" height="3.40" fill="#641a70"/>
<rect x="320.40" y="327.80" width="9.30" height="5.80" fill="#1c4e8a"/>
<line x1="325.05" y1="336.70" x2="325.05" y2="339.30" stroke="#2a2a2a" stroke-width="0.8"/>
<text x="328.05" y="346.00" font-size="6.5" text-anchor="end" fill="#333" transform="rotate(-45 328.05 346.00)">Act</text>
<line x1="286.90" y1="336.70" x2="331.30" y2="336.70" stroke="#2a2a2a" stroke-width="1.1"/>
<line x1="239.60" y1="262.50" x2="239.60" y2="337.20" stroke="#2a2a2a" stroke-width="1.1"/>
<line x1="237.20" y1="269.20" x2="239.60" y2="269.20" stroke="#2a2a2a" stroke-width="0.8"/>
<text x="233.40" y="271.75" font-size="7.4" text-anchor="end" fill="#333" textLength="13.83" lengthAdjust="spacingAndGlyphs">8000</text>
<line x1="237.20" y1="285.40" x2="239.60" y2="285.40" stroke="#2a2a2a" stroke-width="0.8"/>
<text x="233.40" y="287.95" font-size="7.4" text-anchor="end" fill="#333" textLength="13.83" lengthAdjust="spacingAndGlyphs">6000</text>
<line x1="237.20" y1="301.50" x2="239.60" y2="301.50" stroke="#2a2a2a" stroke-width="0.8"/>
<text x="233.40" y="304.05" font-size="7.4" text-anchor="end" fill="#333" textLength="13.83" lengthAdjust="spacingAndGlyphs">4000</text>
<line x1="237.20" y1="317.70" x2="239.60" y2="317.70" stroke="#2a2a2a" stroke-width="0.8"/>
<text x="233.40" y="320.25" font-size="7.4" text-anchor="end" fill="#333" textLength="13.83" lengthAdjust="spacingAndGlyphs">2000</text>
<line x1="237.20" y1="333.80" x2="239.60" y2="333.80" stroke="#2a2a2a" stroke-width="0.8"/>
<text x="233.40" y="336.35" font-size="7.4" text-anchor="end" fill="#333" textLength="3.46" lengthAdjust="spacingAndGlyphs">0</text>
<text x="210.30" y="302.97" font-size="8.6" text-anchor="middle" fill="#333" textLength="35.00" lengthAdjust="spacingAndGlyphs" transform="rotate(-90 210.30 300.00)">Single cells</text>
<rect x="336.50" y="285.25" width="4.30" height="4.30" fill="#f6b824"/>
<text x="344.20" y="289.75" font-size="6.8" fill="#333" textLength="46.60" lengthAdjust="spacingAndGlyphs">Hyperexpanded</text>
<rect x="336.50" y="301.65" width="4.30" height="4.30" fill="#f39118"/>
<text x="344.20" y="306.15" font-size="6.8" fill="#333" textLength="58.10" lengthAdjust="spacingAndGlyphs">Large (20 &lt; X ≤ 100)</text>
<rect x="336.50" y="309.95" width="4.30" height="4.30" fill="#e2137c"/>
<text x="344.20" y="314.45" font-size="6.8" fill="#333" textLength="59.30" lengthAdjust="spacingAndGlyphs">Medium (5 &lt; X ≤ 20)</text>
<rect x="336.50" y="318.25" width="4.30" height="4.30" fill="#4a1a50"/>
<text x="344.20" y="322.75" font-size="6.8" fill="#333" textLength="47.30" lengthAdjust="spacingAndGlyphs">Small (1 &lt; X ≤ 5)</text>
<rect x="336.50" y="326.65" width="4.30" height="4.30" fill="#1c4e8a"/>
<text x="344.20" y="331.15" font-size="6.8" fill="#333" textLength="42.40" lengthAdjust="spacingAndGlyphs">Not Expanded</text>
<text x="344.20" y="297.75" font-size="6.8" fill="#333" textLength="45.00" lengthAdjust="spacingAndGlyphs">(100 &lt; X ≤ 500)</text>
<line x1="439.50" y1="262.00" x2="435.90" y2="303.50" stroke="#bbb" stroke-width="0.5" stroke-dasharray="1 1"/>
<circle cx="439.40" cy="259.20" r="2.80" fill="#f2e030"/>
<circle cx="471.70" cy="270.30" r="2.80" fill="#30b8e0"/>
<circle cx="505.50" cy="293.50" r="2.80" fill="#e0b020"/>
<circle cx="435.80" cy="306.80" r="2.80" fill="#1a78b0"/>
<circle cx="448.30" cy="331.50" r="2.80" fill="#14906a"/>
<line x1="469.62" y1="269.59" x2="444.32" y2="260.89" stroke="#333" stroke-width="0.8"/>
<path d="M442.43 260.24 L445.91 259.96 L445.00 262.60 Z" fill="#333"/>
<line x1="503.69" y1="292.26" x2="475.99" y2="273.24" stroke="#333" stroke-width="0.8"/>
<path d="M474.34 272.11 L477.77 272.77 L476.18 275.08 Z" fill="#333"/>
<line x1="470.16" y1="271.87" x2="439.45" y2="303.09" stroke="#333" stroke-width="0.8"/>
<path d="M438.04 304.52 L439.29 301.26 L441.29 303.22 Z" fill="#333"/>
<line x1="470.91" y1="272.35" x2="450.16" y2="326.64" stroke="#333" stroke-width="0.8"/>
<path d="M449.44 328.51 L449.28 325.02 L451.89 326.02 Z" fill="#333"/>
<line x1="436.79" y1="308.76" x2="445.95" y2="326.86" stroke="#333" stroke-width="0.8"/>
<path d="M446.86 328.64 L444.16 326.42 L446.66 325.16 Z" fill="#333"/>
<text x="439.40" y="261.37" font-size="6.3" text-anchor="middle" fill="#3a3a3a">Act</text>
<text x="471.70" y="272.47" font-size="6.3" text-anchor="middle" fill="#3a3a3a">Early Tm</text>
<text x="505.50" y="295.67" font-size="6.3" text-anchor="middle" fill="#3a3a3a">Naive</text>
<text x="435.80" y="308.97" font-size="6.3" text-anchor="middle" fill="#3a3a3a">Int</text>
<text x="448.30" y="333.67" font-size="6.3" text-anchor="middle" fill="#3a3a3a">Term/SenL</text>
<path d="M28.9 432.5 C29.6 430.4 30.6 429.2 32.3 428.2 C34.0 427.2 37.0 426.5 39.3 426.4 C41.6 426.2 44.1 426.4 46.2 427.3 C48.4 428.2 50.6 430.7 52.2 431.6 C53.8 432.5 54.5 433.4 55.7 432.5 C56.9 431.6 58.3 427.8 59.2 426.4 C60.1 424.9 60.1 423.9 60.9 423.8 C61.7 423.7 62.9 424.7 63.8 425.6 C64.7 426.5 65.3 429.0 66.1 429.0 C66.9 429.0 68.0 426.3 68.7 425.6 C69.4 424.9 69.8 424.4 70.4 424.7 C71.0 425.0 71.5 425.7 72.1 427.3 C72.7 428.9 73.0 432.8 73.9 434.2 C74.8 435.6 75.9 435.4 77.3 436.0 C78.7 436.6 80.9 436.8 82.5 437.7 C84.1 438.6 85.6 439.4 86.8 441.1 C88.0 442.8 89.1 445.7 89.4 448.0 C89.7 450.3 89.1 453.0 88.5 455.0 C87.9 457.0 87.6 459.1 86.0 460.2 C84.4 461.3 81.0 462.2 79.1 461.9 C77.2 461.6 75.9 459.8 74.7 458.4 C73.5 457.0 73.1 454.9 72.1 453.3 C71.1 451.7 70.1 449.9 68.7 448.9 C67.3 447.9 65.2 447.2 63.5 447.2 C61.8 447.2 59.8 448.2 58.3 448.9 C56.8 449.6 55.7 449.9 54.8 451.5 C53.9 453.1 53.7 456.4 53.1 458.4 C52.5 460.4 52.3 461.9 51.4 463.6 C50.5 465.3 49.3 467.4 47.9 468.8 C46.5 470.2 44.7 471.6 42.7 472.3 C40.7 473.0 38.1 473.1 35.8 473.1 C33.5 473.1 30.6 472.9 28.9 472.3 C27.2 471.7 25.8 470.9 25.4 469.7 C25.0 468.5 25.7 467.0 26.3 465.4 C26.9 463.8 28.5 462.5 28.9 460.2 C29.3 457.9 29.0 454.7 28.9 451.5 C28.8 448.3 28.0 444.3 28.0 441.1 C28.0 437.9 28.2 434.6 28.9 432.5 Z" fill="#d8d8d8"/>
<path d="M56.5 446.5 Q61.0 444.5 66.0 446" fill="none" stroke="#fff" stroke-width="0.8"/>
<text x="56.30" y="419.42" font-size="7" text-anchor="middle" fill="#333">Act</text>
<circle cx="19.50" cy="457.00" r="0.90" fill="#d8d8d8"/>
<path d="M110.4 432.5 C111.1 430.4 112.1 429.2 113.8 428.2 C115.5 427.2 118.5 426.5 120.8 426.4 C123.1 426.2 125.6 426.4 127.7 427.3 C129.8 428.2 132.1 430.7 133.7 431.6 C135.3 432.5 136.0 433.4 137.2 432.5 C138.4 431.6 139.8 427.8 140.7 426.4 C141.6 424.9 141.6 423.9 142.4 423.8 C143.2 423.7 144.4 424.7 145.3 425.6 C146.2 426.5 146.8 429.0 147.6 429.0 C148.4 429.0 149.5 426.3 150.2 425.6 C150.9 424.9 151.3 424.4 151.9 424.7 C152.5 425.0 153.0 425.7 153.6 427.3 C154.2 428.9 154.5 432.8 155.4 434.2 C156.3 435.6 157.4 435.4 158.8 436.0 C160.2 436.6 162.4 436.8 164.0 437.7 C165.6 438.6 167.2 439.4 168.3 441.1 C169.5 442.8 170.6 445.7 170.9 448.0 C171.2 450.3 170.6 453.0 170.0 455.0 C169.4 457.0 169.1 459.1 167.5 460.2 C165.9 461.3 162.5 462.2 160.6 461.9 C158.7 461.6 157.4 459.8 156.2 458.4 C155.0 457.0 154.6 454.9 153.6 453.3 C152.6 451.7 151.6 449.9 150.2 448.9 C148.8 447.9 146.7 447.2 145.0 447.2 C143.3 447.2 141.2 448.2 139.8 448.9 C138.4 449.6 137.2 449.9 136.3 451.5 C135.4 453.1 135.2 456.4 134.6 458.4 C134.0 460.4 133.8 461.9 132.9 463.6 C132.0 465.3 130.8 467.4 129.4 468.8 C128.0 470.2 126.2 471.6 124.2 472.3 C122.2 473.0 119.6 473.1 117.3 473.1 C115.0 473.1 112.1 472.9 110.4 472.3 C108.7 471.7 107.3 470.9 106.9 469.7 C106.5 468.5 107.2 467.0 107.8 465.4 C108.4 463.8 110.0 462.5 110.4 460.2 C110.8 457.9 110.6 454.7 110.4 451.5 C110.2 448.3 109.5 444.3 109.5 441.1 C109.5 437.9 109.7 434.6 110.4 432.5 Z" fill="#d8d8d8"/>
<path d="M138.0 446.5 Q142.5 444.5 147.5 446" fill="none" stroke="#fff" stroke-width="0.8"/>
<text x="135.70" y="419.42" font-size="7" text-anchor="middle" fill="#333">Int</text>
<circle cx="101.00" cy="457.00" r="0.90" fill="#d8d8d8"/>
<path d="M192.9 432.5 C193.6 430.4 194.6 429.2 196.3 428.2 C198.0 427.2 201.0 426.5 203.3 426.4 C205.6 426.2 208.0 426.4 210.2 427.3 C212.3 428.2 214.6 430.7 216.2 431.6 C217.8 432.5 218.5 433.4 219.7 432.5 C220.9 431.6 222.3 427.8 223.2 426.4 C224.1 424.9 224.1 423.9 224.9 423.8 C225.7 423.7 226.9 424.7 227.8 425.6 C228.7 426.5 229.3 429.0 230.1 429.0 C230.9 429.0 232.0 426.3 232.7 425.6 C233.4 424.9 233.8 424.4 234.4 424.7 C235.0 425.0 235.5 425.7 236.1 427.3 C236.7 428.9 237.0 432.8 237.9 434.2 C238.8 435.6 239.9 435.4 241.3 436.0 C242.7 436.6 244.9 436.8 246.5 437.7 C248.1 438.6 249.7 439.4 250.8 441.1 C252.0 442.8 253.1 445.7 253.4 448.0 C253.7 450.3 253.1 453.0 252.5 455.0 C251.9 457.0 251.6 459.1 250.0 460.2 C248.4 461.3 245.0 462.2 243.1 461.9 C241.2 461.6 239.9 459.8 238.7 458.4 C237.5 457.0 237.1 454.9 236.1 453.3 C235.1 451.7 234.1 449.9 232.7 448.9 C231.3 447.9 229.2 447.2 227.5 447.2 C225.8 447.2 223.8 448.2 222.3 448.9 C220.9 449.6 219.7 449.9 218.8 451.5 C217.9 453.1 217.7 456.4 217.1 458.4 C216.5 460.4 216.3 461.9 215.4 463.6 C214.5 465.3 213.4 467.4 211.9 468.8 C210.4 470.2 208.7 471.6 206.7 472.3 C204.7 473.0 202.1 473.1 199.8 473.1 C197.5 473.1 194.6 472.9 192.9 472.3 C191.2 471.7 189.8 470.9 189.4 469.7 C189.0 468.5 189.7 467.0 190.3 465.4 C190.9 463.8 192.5 462.5 192.9 460.2 C193.3 457.9 193.1 454.7 192.9 451.5 C192.8 448.3 192.0 444.3 192.0 441.1 C192.0 437.9 192.2 434.6 192.9 432.5 Z" fill="#d8d8d8"/>
<path d="M220.5 446.5 Q225.0 444.5 230.0 446" fill="none" stroke="#fff" stroke-width="0.8"/>
<text x="221.30" y="419.42" font-size="7" text-anchor="middle" fill="#333">Term/SenL</text>
<circle cx="183.50" cy="457.00" r="0.90" fill="#d8d8d8"/>
<path d="M37.5 436.2 L37.5 453" stroke="#f4c4d0" stroke-width="2.2" fill="none"/>
<path d="M37.5 436.2 L37.5 453.5" stroke="#e8889c" stroke-width="0.8" fill="none"/>
<path d="M35.2 450.5 L37.5 454.5 L39.8 450.5" stroke="#e8889c" stroke-width="0.8" fill="none"/>
<path d="M37.7 436.2 Q48 435.5 55 437.5" stroke="#a8dcec" stroke-width="2" fill="none"/>
<path d="M37.7 436 Q48 435.3 55 437.2" stroke="#4a9ab8" stroke-width="0.7" fill="none"/>
<circle cx="56.50" cy="441.10" r="2.50" fill="#000"/>
<circle cx="36.50" cy="458.20" r="1.50" fill="#000"/>
<circle cx="37.60" cy="435.90" r="0.70" fill="#333"/>
<path d="M120.2 437 L119 455.5" stroke="#f2b6c4" stroke-width="2.2" fill="none"/>
<path d="M120.2 437 L119 455.5" stroke="#e8889c" stroke-width="0.7" fill="none"/>
<path d="M120.5 460 L126 465.5" stroke="#b4def0" stroke-width="3" fill="none"/>
<path d="M121 460.3 L125.8 465" stroke="#5ab2d8" stroke-width="0.9" fill="none"/>
<path d="M123.2 464.6 L126.2 465.4 L125.6 462.2" stroke="#2a7ab0" stroke-width="0.8" fill="none"/>
<circle cx="120.20" cy="436.00" r="1.10" fill="#000"/>
<circle cx="118.70" cy="458.10" r="2.60" fill="#000"/>
<circle cx="126.60" cy="467.30" r="0.80" fill="#000"/>
<path d="M222 444 Q228 455 220 464 Q214 468 209.5 467.3" stroke="#bfe2f0" stroke-width="1.6" fill="none"/>
<path d="M222 444 Q228 455 220 464 Q214 468 209.5 467.3" stroke="#7cc4e8" stroke-width="0.5" fill="none"/>
<path d="M219 443.5 Q211 450 209.5 461" stroke="#a8d8ee" stroke-width="2.6" fill="none"/>
<path d="M219 443.5 Q211 450 209.5 461" stroke="#5ab2d8" stroke-width="0.9" fill="none"/>
<path d="M207.2 460 L209.4 463.8 L211.6 460.2" stroke="#2a86b8" stroke-width="1" fill="none"/>
<path d="M208.5 467 Q202 466.5 201.2 461" stroke="#f2bccb" stroke-width="2.6" fill="none"/>
<path d="M208.5 467 Q202 466.5 201.2 461" stroke="#e8889c" stroke-width="0.8" fill="none"/>
<path d="M199.3 462.5 L201 459.6 L203 462.3" stroke="#e8889c" stroke-width="0.8" fill="none"/>
<circle cx="220.60" cy="441.40" r="2.50" fill="#000"/>
<circle cx="200.70" cy="458.20" r="1.50" fill="#000"/>
<circle cx="208.80" cy="467.50" r="0.70" fill="#000"/>
<text x="91.00" y="490.38" font-size="6.6" text-anchor="middle" fill="#333">Unique Clones</text>
<circle cx="23.10" cy="500.00" r="2.25" fill="#0a0a0a"/>
<text x="29.40" y="502.28" font-size="6.6" fill="#333" textLength="13.60" lengthAdjust="spacingAndGlyphs">1000</text>
<circle cx="53.10" cy="500.00" r="3.00" fill="#0a0a0a"/>
<text x="59.75" y="502.28" font-size="6.6" fill="#333" textLength="13.60" lengthAdjust="spacingAndGlyphs">1500</text>
<circle cx="82.80" cy="500.00" r="3.50" fill="#0a0a0a"/>
<text x="91.30" y="502.28" font-size="6.6" fill="#333" textLength="13.60" lengthAdjust="spacingAndGlyphs">2000</text>
<circle cx="112.60" cy="500.00" r="4.00" fill="#0a0a0a"/>
<text x="120.80" y="502.28" font-size="6.6" fill="#333" textLength="13.60" lengthAdjust="spacingAndGlyphs">2500</text>
<circle cx="142.00" cy="500.00" r="4.50" fill="#0a0a0a"/>
<text x="150.50" y="502.28" font-size="6.6" fill="#333" textLength="13.60" lengthAdjust="spacingAndGlyphs">3000</text>
<text x="213.90" y="485.58" font-size="6.6" text-anchor="middle" fill="#333" textLength="64.30" lengthAdjust="spacingAndGlyphs">Relative Proportion of</text>
<text x="213.90" y="493.68" font-size="6.6" text-anchor="middle" fill="#333" textLength="70.50" lengthAdjust="spacingAndGlyphs">Clones of Starting Node</text>
<defs><linearGradient id="gg" x1="0" x2="1" y1="0" y2="0"><stop offset="0" stop-color="#1478c0"/><stop offset="0.2" stop-color="#40a6d8"/><stop offset="0.38" stop-color="#bce6f4"/><stop offset="0.5" stop-color="#fcf7f3"/><stop offset="0.66" stop-color="#f8c6b6"/><stop offset="0.85" stop-color="#f07060"/><stop offset="1" stop-color="#e02828"/></linearGradient></defs>
<rect x="187.30" y="500.60" width="48.10" height="8.70" fill="url(#gg)"/>
<text x="188.60" y="517.38" font-size="6.6" text-anchor="middle" fill="#333">Min</text>
<text x="234.50" y="517.38" font-size="6.6" text-anchor="middle" fill="#333">Max</text>
<defs><linearGradient id="hb1" x1="0" x2="1" y1="0" y2="0"><stop offset="0" stop-color="#fde8d4"/><stop offset="0.23" stop-color="#fde8d4"/><stop offset="0.3" stop-color="#d8eff6"/><stop offset="0.6" stop-color="#d0e7f1"/><stop offset="0.7" stop-color="#d0eae4"/><stop offset="1" stop-color="#d0eae4"/></linearGradient></defs>
<text x="334.20" y="416.01" font-size="6.7" text-anchor="middle" fill="#333">Lineage 1</text>
<text x="334.20" y="424.31" font-size="6.7" text-anchor="middle" fill="#333">(Term/SenL)</text>
<text x="415.00" y="416.51" font-size="6.7" text-anchor="middle" fill="#333">Lineage 2</text>
<text x="414.60" y="424.11" font-size="6.7" text-anchor="middle" fill="#333">(Act)</text>
<rect x="310.00" y="428.80" width="49.00" height="45.70" fill="url(#hb1)"/>
<path d="M316.9 472.4 C317.4 471.6 318.8 469.3 320.0 467.5 C321.2 465.7 322.8 463.1 324.0 461.5 C325.2 459.9 326.5 459.2 327.5 458.2 C328.5 457.2 329.2 457.2 330.1 455.5 C331.0 453.8 332.0 450.9 333.0 448.0 C334.0 445.1 335.1 440.8 336.0 438.0 C336.9 435.2 337.8 432.5 338.5 431.0 C339.2 429.5 339.5 428.9 340.1 428.8 C340.7 428.7 341.1 428.2 342.0 430.5 C342.9 432.8 344.4 438.0 345.6 442.7 C346.8 447.4 348.1 454.3 349.2 458.6 C350.3 462.9 351.8 466.8 352.3 468.4" fill="none" stroke="#3aaa76" stroke-width="1.1"/>
<path d="M316.9 472.4 C317.8 472.2 320.0 471.5 322.0 471.2 C324.0 470.9 327.2 471.5 328.8 470.6 C330.4 469.7 330.5 468.1 331.5 465.7 C332.5 463.3 333.8 459.1 335.0 456.0 C336.2 452.9 337.5 448.7 338.5 446.9 C339.5 445.1 340.0 445.9 341.2 445.4 C342.4 444.8 343.8 444.7 345.6 443.6 C347.4 442.5 350.8 439.5 351.8 438.7" fill="none" stroke="#b41a48" stroke-width="1.25"/>
<line x1="309.60" y1="428.50" x2="309.60" y2="475.00" stroke="#2a2a2a" stroke-width="1.1"/>
<line x1="309.10" y1="474.50" x2="359.00" y2="474.50" stroke="#2a2a2a" stroke-width="1.1"/>
<line x1="307.20" y1="430.40" x2="309.60" y2="430.40" stroke="#2a2a2a" stroke-width="0.8"/>
<text x="304.00" y="432.95" font-size="7.4" text-anchor="end" fill="#333" textLength="8.74" lengthAdjust="spacingAndGlyphs">0.6</text>
<line x1="307.20" y1="444.40" x2="309.60" y2="444.40" stroke="#2a2a2a" stroke-width="0.8"/>
<text x="304.00" y="446.95" font-size="7.4" text-anchor="end" fill="#333" textLength="8.74" lengthAdjust="spacingAndGlyphs">0.4</text>
<line x1="307.20" y1="458.50" x2="309.60" y2="458.50" stroke="#2a2a2a" stroke-width="0.8"/>
<text x="304.00" y="461.05" font-size="7.4" text-anchor="end" fill="#333" textLength="8.74" lengthAdjust="spacingAndGlyphs">0.2</text>
<line x1="307.20" y1="472.60" x2="309.60" y2="472.60" stroke="#2a2a2a" stroke-width="0.8"/>
<text x="304.00" y="475.15" font-size="7.4" text-anchor="end" fill="#333" textLength="8.74" lengthAdjust="spacingAndGlyphs">0.0</text>
<line x1="316.50" y1="474.50" x2="316.50" y2="477.00" stroke="#2a2a2a" stroke-width="0.8"/>
<text x="318.80" y="480.90" font-size="6.8" text-anchor="end" fill="#333" transform="rotate(-90 318.80 480.90)">Naive</text>
<line x1="328.40" y1="474.50" x2="328.40" y2="477.00" stroke="#2a2a2a" stroke-width="0.8"/>
<text x="330.70" y="480.90" font-size="6.8" text-anchor="end" fill="#333" transform="rotate(-90 330.70 480.90)">Early Tm</text>
<line x1="340.50" y1="474.50" x2="340.50" y2="477.00" stroke="#2a2a2a" stroke-width="0.8"/>
<text x="342.80" y="480.90" font-size="6.8" text-anchor="end" fill="#333" transform="rotate(-90 342.80 480.90)">Int</text>
<line x1="352.60" y1="474.50" x2="352.60" y2="477.00" stroke="#2a2a2a" stroke-width="0.8"/>
<text x="354.90" y="480.90" font-size="6.8" text-anchor="end" fill="#333" transform="rotate(-90 354.90 480.90)">Term/SenL</text>
<rect x="390.20" y="428.80" width="16.80" height="45.70" fill="#fdeee2"/>
<rect x="407.00" y="428.80" width="15.30" height="45.70" fill="#dcf0f8"/>
<rect x="422.30" y="428.80" width="16.90" height="45.70" fill="#fef7e4"/>
<path d="M399.5 472.6 C400.1 472.1 401.8 470.9 403.0 469.5 C404.2 468.1 405.7 465.8 407.0 464.2 C408.3 462.6 409.7 460.7 411.0 459.6 C412.3 458.5 413.6 457.8 414.9 457.6 C416.2 457.4 417.6 457.9 419.0 458.4 C420.4 458.9 421.7 460.0 423.0 460.8 C424.3 461.6 425.8 462.8 427.0 463.4 C428.2 464.0 429.9 464.4 430.5 464.6" fill="none" stroke="#3aaa76" stroke-width="1.1"/>
<path d="M399.5 472.6 C400.8 472.4 404.4 471.8 407.0 471.5 C409.6 471.2 412.9 471.1 414.9 470.8 C416.9 470.5 417.6 470.4 419.0 469.8 C420.4 469.2 421.7 468.1 423.0 467.4 C424.3 466.7 425.8 465.8 427.0 465.4 C428.2 465.0 429.9 465.1 430.5 465.0" fill="none" stroke="#b41a48" stroke-width="1.25"/>
<line x1="389.70" y1="428.50" x2="389.70" y2="475.00" stroke="#2a2a2a" stroke-width="1.1"/>
<line x1="389.20" y1="474.50" x2="439.20" y2="474.50" stroke="#2a2a2a" stroke-width="1.1"/>
<line x1="387.30" y1="430.40" x2="389.70" y2="430.40" stroke="#2a2a2a" stroke-width="0.8"/>
<text x="384.10" y="432.95" font-size="7.4" text-anchor="end" fill="#333" textLength="8.74" lengthAdjust="spacingAndGlyphs">0.6</text>
<line x1="387.30" y1="444.40" x2="389.70" y2="444.40" stroke="#2a2a2a" stroke-width="0.8"/>
<text x="384.10" y="446.95" font-size="7.4" text-anchor="end" fill="#333" textLength="8.74" lengthAdjust="spacingAndGlyphs">0.4</text>
<line x1="387.30" y1="458.50" x2="389.70" y2="458.50" stroke="#2a2a2a" stroke-width="0.8"/>
<text x="384.10" y="461.05" font-size="7.4" text-anchor="end" fill="#333" textLength="8.74" lengthAdjust="spacingAndGlyphs">0.2</text>
<line x1="387.30" y1="472.60" x2="389.70" y2="472.60" stroke="#2a2a2a" stroke-width="0.8"/>
<text x="384.10" y="475.15" font-size="7.4" text-anchor="end" fill="#333" textLength="8.74" lengthAdjust="spacingAndGlyphs">0.0</text>
<line x1="399.50" y1="474.50" x2="399.50" y2="477.00" stroke="#2a2a2a" stroke-width="0.8"/>
<text x="401.80" y="480.90" font-size="6.8" text-anchor="end" fill="#333" transform="rotate(-90 401.80 480.90)">Naive</text>
<line x1="414.90" y1="474.50" x2="414.90" y2="477.00" stroke="#2a2a2a" stroke-width="0.8"/>
<text x="417.20" y="480.90" font-size="6.8" text-anchor="end" fill="#333" transform="rotate(-90 417.20 480.90)">Early Tm</text>
<line x1="430.50" y1="474.50" x2="430.50" y2="477.00" stroke="#2a2a2a" stroke-width="0.8"/>
<text x="432.80" y="480.90" font-size="6.8" text-anchor="end" fill="#333" transform="rotate(-90 432.80 480.90)">Act</text>
<text x="286.50" y="454.24" font-size="8.8" text-anchor="middle" fill="#333" textLength="55.00" lengthAdjust="spacingAndGlyphs" transform="rotate(-90 286.50 451.20)">Relative frequency</text>
<text x="447.80" y="445.68" font-size="6.9" fill="#333">Response</text>
<line x1="447.80" y1="451.40" x2="454.10" y2="451.40" stroke="#b81c48" stroke-width="1.1"/>
<line x1="447.80" y1="459.60" x2="454.10" y2="459.60" stroke="#3cae78" stroke-width="1.1"/>
<text x="457.50" y="453.78" font-size="6.9" fill="#333">NonRes</text>
<text x="457.50" y="461.98" font-size="6.9" fill="#333">Res</text>
<rect x="135.4" y="542.5" width="142.6" height="142.5" fill="none" stroke="#1a1a1a" stroke-width="1.25"/>
<line x1="133.00" y1="545.80" x2="135.40" y2="545.80" stroke="#2a2a2a" stroke-width="0.7"/>
<text x="129.10" y="547.59" font-size="4.9" text-anchor="end" fill="#222" textLength="46.08" lengthAdjust="spacingAndGlyphs">Leukocyte homeostasis</text>
<line x1="133.00" y1="551.70" x2="135.40" y2="551.70" stroke="#2a2a2a" stroke-width="0.7"/>
<text x="129.10" y="553.49" font-size="4.9" text-anchor="end" fill="#222" textLength="50.58" lengthAdjust="spacingAndGlyphs">Lymph node development</text>
<line x1="133.00" y1="557.60" x2="135.40" y2="557.60" stroke="#2a2a2a" stroke-width="0.7"/>
<text x="129.10" y="559.39" font-size="4.9" text-anchor="end" fill="#222" textLength="38.08" lengthAdjust="spacingAndGlyphs">T cell differentiation</text>
<line x1="133.00" y1="563.50" x2="135.40" y2="563.50" stroke="#2a2a2a" stroke-width="0.7"/>
<text x="129.10" y="565.29" font-size="4.9" text-anchor="end" fill="#222" textLength="47.88" lengthAdjust="spacingAndGlyphs">Lymphocyte proliferation</text>
<line x1="133.00" y1="569.40" x2="135.40" y2="569.40" stroke="#2a2a2a" stroke-width="0.7"/>
<text x="129.10" y="571.19" font-size="4.9" text-anchor="end" fill="#222" textLength="57.60" lengthAdjust="spacingAndGlyphs">Mononuclear cell proliferation</text>
<line x1="133.00" y1="575.30" x2="135.40" y2="575.30" stroke="#2a2a2a" stroke-width="0.7"/>
<text x="129.10" y="577.09" font-size="4.9" text-anchor="end" fill="#222" textLength="61.52" lengthAdjust="spacingAndGlyphs">Homeostasis of number of cells</text>
<line x1="133.00" y1="581.20" x2="135.40" y2="581.20" stroke="#2a2a2a" stroke-width="0.7"/>
<text x="129.10" y="582.99" font-size="4.9" text-anchor="end" fill="#222" textLength="58.33" lengthAdjust="spacingAndGlyphs">Leukocyte mediated immunity</text>
<line x1="133.00" y1="587.10" x2="135.40" y2="587.10" stroke="#2a2a2a" stroke-width="0.7"/>
<text x="129.10" y="588.89" font-size="4.9" text-anchor="end" fill="#222" textLength="19.85" lengthAdjust="spacingAndGlyphs">Cell killing</text>
<line x1="133.00" y1="593.00" x2="135.40" y2="593.00" stroke="#2a2a2a" stroke-width="0.7"/>
<text x="129.10" y="594.79" font-size="4.9" text-anchor="end" fill="#222" textLength="62.26" lengthAdjust="spacingAndGlyphs">Leukocyte mediated cytotoxicity</text>
<line x1="133.00" y1="598.90" x2="135.40" y2="598.90" stroke="#2a2a2a" stroke-width="0.7"/>
<text x="129.10" y="600.69" font-size="4.9" text-anchor="end" fill="#222" textLength="68.63" lengthAdjust="spacingAndGlyphs">Positive regulation of cell activation</text>
<line x1="133.00" y1="604.80" x2="135.40" y2="604.80" stroke="#2a2a2a" stroke-width="0.7"/>
<text x="129.10" y="606.59" font-size="4.9" text-anchor="end" fill="#222" textLength="55.15" lengthAdjust="spacingAndGlyphs">Leukocyte cell-cell adhesion</text>
<line x1="133.00" y1="610.70" x2="135.40" y2="610.70" stroke="#2a2a2a" stroke-width="0.7"/>
<text x="129.10" y="612.49" font-size="4.9" text-anchor="end" fill="#222" textLength="61.84" lengthAdjust="spacingAndGlyphs">Lymphocyte mediated immunity</text>
<line x1="133.00" y1="616.60" x2="135.40" y2="616.60" stroke="#2a2a2a" stroke-width="0.7"/>
<text x="129.10" y="618.39" font-size="4.9" text-anchor="end" fill="#222" textLength="57.44" lengthAdjust="spacingAndGlyphs">Regulation of T cell activation</text>
<line x1="133.00" y1="622.50" x2="135.40" y2="622.50" stroke="#2a2a2a" stroke-width="0.7"/>
<text x="129.10" y="624.29" font-size="4.9" text-anchor="end" fill="#222" textLength="77.19" lengthAdjust="spacingAndGlyphs">MHC class II protein complex assembly</text>
<line x1="133.00" y1="628.40" x2="135.40" y2="628.40" stroke="#2a2a2a" stroke-width="0.7"/>
<text x="129.10" y="630.19" font-size="4.9" text-anchor="end" fill="#222" textLength="118.14" lengthAdjust="spacingAndGlyphs">Peptide antigen assembly with MHC class II protein complex</text>
<line x1="133.00" y1="634.30" x2="135.40" y2="634.30" stroke="#2a2a2a" stroke-width="0.7"/>
<text x="129.10" y="636.09" font-size="4.9" text-anchor="end" fill="#222" textLength="80.89" lengthAdjust="spacingAndGlyphs">Regulation of leukocyte cell-cell adhesion</text>
<line x1="133.00" y1="640.20" x2="135.40" y2="640.20" stroke="#2a2a2a" stroke-width="0.7"/>
<text x="129.10" y="639.59" font-size="4.9" text-anchor="end" fill="#222" textLength="113.70" lengthAdjust="spacingAndGlyphs">Antigen processing and presentation of exogenous peptide</text>
<text x="129.10" y="644.59" font-size="4.9" text-anchor="end" fill="#222" textLength="47.02" lengthAdjust="spacingAndGlyphs">antigen via MHC class II</text>
<line x1="133.00" y1="646.10" x2="135.40" y2="646.10" stroke="#2a2a2a" stroke-width="0.7"/>
<text x="129.10" y="647.89" font-size="4.9" text-anchor="end" fill="#222" textLength="62.25" lengthAdjust="spacingAndGlyphs">MHC protein complex assembly</text>
<line x1="133.00" y1="652.00" x2="135.40" y2="652.00" stroke="#2a2a2a" stroke-width="0.7"/>
<text x="129.10" y="653.79" font-size="4.9" text-anchor="end" fill="#222" textLength="46.66" lengthAdjust="spacingAndGlyphs">Translational elongation</text>
<line x1="133.00" y1="657.90" x2="135.40" y2="657.90" stroke="#2a2a2a" stroke-width="0.7"/>
<text x="129.10" y="659.69" font-size="4.9" text-anchor="end" fill="#222" textLength="89.88" lengthAdjust="spacingAndGlyphs">Regulation of myeloid leukocyte differentiation</text>
<line x1="133.00" y1="663.80" x2="135.40" y2="663.80" stroke="#2a2a2a" stroke-width="0.7"/>
<text x="129.10" y="665.59" font-size="4.9" text-anchor="end" fill="#222" textLength="73.46" lengthAdjust="spacingAndGlyphs">Regulation of leukocyte differentiation</text>
<line x1="133.00" y1="669.70" x2="135.40" y2="669.70" stroke="#2a2a2a" stroke-width="0.7"/>
<text x="129.10" y="671.49" font-size="4.9" text-anchor="end" fill="#222" textLength="62.51" lengthAdjust="spacingAndGlyphs">Positive regulation of translation</text>
<line x1="133.00" y1="675.60" x2="135.40" y2="675.60" stroke="#2a2a2a" stroke-width="0.7"/>
<text x="129.10" y="677.39" font-size="4.9" text-anchor="end" fill="#222" textLength="75.41" lengthAdjust="spacingAndGlyphs">Regulation of immune effector process</text>
<line x1="133.00" y1="681.50" x2="135.40" y2="681.50" stroke="#2a2a2a" stroke-width="0.7"/>
<text x="129.10" y="680.89" font-size="4.9" text-anchor="end" fill="#222" textLength="92.85" lengthAdjust="spacingAndGlyphs">Regulation of nucleotide-binding oligomerization</text>
<text x="129.10" y="685.89" font-size="4.9" text-anchor="end" fill="#222" textLength="74.91" lengthAdjust="spacingAndGlyphs">domain containing 2 signaling pathway</text>
<circle cx="151.50" cy="545.80" r="2.70" fill="#e83838" stroke="#444" stroke-width="0.3"/>
<circle cx="179.00" cy="545.80" r="0.70" fill="#b8b8b8" stroke="#444" stroke-width="0.3"/>
<circle cx="206.50" cy="545.80" r="0.80" fill="#b8b8b8" stroke="#444" stroke-width="0.3"/>
<circle cx="261.60" cy="545.80" r="1.20" fill="#b8b8b8" stroke="#444" stroke-width="0.3"/>
<circle cx="151.50" cy="551.70" r="2.20" fill="#e23030" stroke="#444" stroke-width="0.3"/>
<circle cx="206.50" cy="551.70" r="0.70" fill="#b8b8b8" stroke="#444" stroke-width="0.3"/>
<circle cx="234.00" cy="551.70" r="1.00" fill="#2a5a6a" stroke="#444" stroke-width="0.3"/>
<circle cx="151.50" cy="557.60" r="2.80" fill="#f8dac6" stroke="#928a88" stroke-width="0.65"/>
<circle cx="179.00" cy="557.60" r="1.30" fill="#8b3a3a" stroke="#444" stroke-width="0.3"/>
<circle cx="206.50" cy="557.60" r="1.90" fill="#7a0a22" stroke="#444" stroke-width="0.3"/>
<circle cx="234.00" cy="557.60" r="1.60" fill="#ecc6bc" stroke="#928a88" stroke-width="0.65"/>
<circle cx="261.60" cy="557.60" r="1.50" fill="#fff" stroke="#928a88" stroke-width="0.65"/>
<circle cx="151.50" cy="563.50" r="2.90" fill="#f8dac6" stroke="#928a88" stroke-width="0.65"/>
<circle cx="179.00" cy="563.50" r="1.90" fill="#7a0a22" stroke="#444" stroke-width="0.3"/>
<circle cx="206.50" cy="563.50" r="1.90" fill="#7a0a22" stroke="#444" stroke-width="0.3"/>
<circle cx="234.00" cy="563.50" r="1.60" fill="#ecc6bc" stroke="#928a88" stroke-width="0.65"/>
<circle cx="261.60" cy="563.50" r="0.80" fill="#b8b8b8" stroke="#444" stroke-width="0.3"/>
<circle cx="151.50" cy="569.40" r="2.90" fill="#f8dac6" stroke="#928a88" stroke-width="0.65"/>
<circle cx="179.00" cy="569.40" r="1.90" fill="#7a0a22" stroke="#444" stroke-width="0.3"/>
<circle cx="206.50" cy="569.40" r="1.80" fill="#7a0a22" stroke="#444" stroke-width="0.3"/>
<circle cx="234.00" cy="569.40" r="1.60" fill="#ecc6bc" stroke="#928a88" stroke-width="0.65"/>
<circle cx="261.60" cy="569.40" r="0.80" fill="#b8b8b8" stroke="#444" stroke-width="0.3"/>
<circle cx="151.50" cy="575.30" r="2.80" fill="#f8dac6" stroke="#928a88" stroke-width="0.65"/>
<circle cx="179.00" cy="575.30" r="1.30" fill="#e8b4b0" stroke="#444" stroke-width="0.3"/>
<circle cx="206.50" cy="575.30" r="1.30" fill="#f4e0dc" stroke="#928a88" stroke-width="0.65"/>
<circle cx="234.00" cy="575.30" r="0.80" fill="#b8b8b8" stroke="#444" stroke-width="0.3"/>
<circle cx="261.60" cy="575.30" r="2.10" fill="#7a0a22" stroke="#444" stroke-width="0.3"/>
<circle cx="151.50" cy="581.20" r="1.90" fill="#dcdce2" stroke="#928a88" stroke-width="0.65"/>
<circle cx="179.00" cy="581.20" r="2.30" fill="#7a0a22" stroke="#444" stroke-width="0.3"/>
<circle cx="206.50" cy="581.20" r="1.90" fill="#7a0a22" stroke="#444" stroke-width="0.3"/>
<circle cx="234.00" cy="581.20" r="1.20" fill="#b8b8b8" stroke="#444" stroke-width="0.3"/>
<circle cx="261.60" cy="581.20" r="2.10" fill="#7a0a22" stroke="#444" stroke-width="0.3"/>
<circle cx="151.50" cy="587.10" r="1.70" fill="#dcdce2" stroke="#928a88" stroke-width="0.65"/>
<circle cx="179.00" cy="587.10" r="2.10" fill="#7a0a22" stroke="#444" stroke-width="0.3"/>
<circle cx="206.50" cy="587.10" r="1.60" fill="#7a0a22" stroke="#444" stroke-width="0.3"/>
<circle cx="234.00" cy="587.10" r="0.80" fill="#b8b8b8" stroke="#444" stroke-width="0.3"/>
<circle cx="261.60" cy="587.10" r="2.10" fill="#7a0a22" stroke="#444" stroke-width="0.3"/>
<circle cx="151.50" cy="593.00" r="1.70" fill="#dcdce2" stroke="#928a88" stroke-width="0.65"/>
<circle cx="179.00" cy="593.00" r="1.90" fill="#7a0a22" stroke="#444" stroke-width="0.3"/>
<circle cx="206.50" cy="593.00" r="1.60" fill="#7a0a22" stroke="#444" stroke-width="0.3"/>
<circle cx="261.60" cy="593.00" r="2.00" fill="#7a0a22" stroke="#444" stroke-width="0.3"/>
<circle cx="151.50" cy="598.90" r="2.70" fill="#f8dac6" stroke="#928a88" stroke-width="0.65"/>
<circle cx="179.00" cy="598.90" r="2.10" fill="#7a0a22" stroke="#444" stroke-width="0.3"/>
<circle cx="206.50" cy="598.90" r="2.30" fill="#7a0a22" stroke="#444" stroke-width="0.3"/>
<circle cx="234.00" cy="598.90" r="1.50" fill="#d0dce6" stroke="#928a88" stroke-width="0.65"/>
<circle cx="261.60" cy="598.90" r="1.60" fill="#5a9aa8" stroke="#444" stroke-width="0.3"/>
<circle cx="151.50" cy="604.80" r="2.20" fill="#dcdce2" stroke="#928a88" stroke-width="0.65"/>
<circle cx="179.00" cy="604.80" r="2.10" fill="#7a0a22" stroke="#444" stroke-width="0.3"/>
<circle cx="206.50" cy="604.80" r="2.40" fill="#7a0a22" stroke="#444" stroke-width="0.3"/>
<circle cx="234.00" cy="604.80" r="1.80" fill="#c98a7c" stroke="#444" stroke-width="0.3"/>
<circle cx="261.60" cy="604.80" r="1.60" fill="#2a80a8" stroke="#444" stroke-width="0.3"/>
<circle cx="151.50" cy="610.70" r="1.80" fill="#e4e4ec" stroke="#928a88" stroke-width="0.65"/>
<circle cx="179.00" cy="610.70" r="2.10" fill="#7a0a22" stroke="#444" stroke-width="0.3"/>
<circle cx="206.50" cy="610.70" r="2.00" fill="#7a0a22" stroke="#444" stroke-width="0.3"/>
<circle cx="234.00" cy="610.70" r="1.20" fill="#c8d8d4" stroke="#444" stroke-width="0.3"/>
<circle cx="261.60" cy="610.70" r="1.80" fill="#7a0a22" stroke="#444" stroke-width="0.3"/>
<circle cx="151.50" cy="616.60" r="2.20" fill="#dcdce2" stroke="#928a88" stroke-width="0.65"/>
<circle cx="179.00" cy="616.60" r="2.10" fill="#7a0a22" stroke="#444" stroke-width="0.3"/>
<circle cx="206.50" cy="616.60" r="2.40" fill="#7a0a22" stroke="#444" stroke-width="0.3"/>
<circle cx="234.00" cy="616.60" r="2.00" fill="#7a0a22" stroke="#444" stroke-width="0.3"/>
<circle cx="261.60" cy="616.60" r="1.50" fill="#fff" stroke="#928a88" stroke-width="0.65"/>
<circle cx="179.00" cy="622.50" r="1.00" fill="#7a0a22" stroke="#444" stroke-width="0.3"/>
<circle cx="206.50" cy="622.50" r="1.80" fill="#7a0a22" stroke="#444" stroke-width="0.3"/>
<circle cx="179.00" cy="628.40" r="1.00" fill="#7a0a22" stroke="#444" stroke-width="0.3"/>
<circle cx="206.50" cy="628.40" r="1.80" fill="#7a0a22" stroke="#444" stroke-width="0.3"/>
<circle cx="151.50" cy="634.30" r="2.20" fill="#dcdce2" stroke="#928a88" stroke-width="0.65"/>
<circle cx="179.00" cy="634.30" r="2.10" fill="#7a0a22" stroke="#444" stroke-width="0.3"/>
<circle cx="206.50" cy="634.30" r="2.40" fill="#7a0a22" stroke="#444" stroke-width="0.3"/>
<circle cx="234.00" cy="634.30" r="1.70" fill="#c89088" stroke="#444" stroke-width="0.3"/>
<circle cx="261.60" cy="634.30" r="1.40" fill="#fff" stroke="#928a88" stroke-width="0.65"/>
<circle cx="179.00" cy="640.20" r="0.90" fill="#5a1020" stroke="#444" stroke-width="0.3"/>
<circle cx="206.50" cy="640.20" r="1.80" fill="#7a0a22" stroke="#444" stroke-width="0.3"/>
<circle cx="179.00" cy="646.10" r="0.90" fill="#5a1020" stroke="#444" stroke-width="0.3"/>
<circle cx="206.50" cy="646.10" r="1.80" fill="#7a0a22" stroke="#444" stroke-width="0.3"/>
<circle cx="234.00" cy="652.00" r="1.50" fill="#401028" stroke="#444" stroke-width="0.3"/>
<circle cx="179.00" cy="657.90" r="1.00" fill="#b8b8b8" stroke="#444" stroke-width="0.3"/>
<circle cx="206.50" cy="657.90" r="1.60" fill="#7a0a22" stroke="#444" stroke-width="0.3"/>
<circle cx="234.00" cy="657.90" r="1.60" fill="#c98a7c" stroke="#444" stroke-width="0.3"/>
<circle cx="151.50" cy="663.80" r="2.20" fill="#dcdce2" stroke="#928a88" stroke-width="0.65"/>
<circle cx="179.00" cy="663.80" r="1.30" fill="#b87060" stroke="#444" stroke-width="0.3"/>
<circle cx="206.50" cy="663.80" r="2.20" fill="#7a0a22" stroke="#444" stroke-width="0.3"/>
<circle cx="234.00" cy="663.80" r="1.60" fill="#c98a7c" stroke="#444" stroke-width="0.3"/>
<circle cx="261.60" cy="663.80" r="1.50" fill="#c8c8c8" stroke="#928a88" stroke-width="0.65"/>
<circle cx="179.00" cy="669.70" r="0.70" fill="#401020" stroke="#444" stroke-width="0.3"/>
<circle cx="206.50" cy="669.70" r="0.80" fill="#b8b8b8" stroke="#444" stroke-width="0.3"/>
<circle cx="234.00" cy="669.70" r="1.50" fill="#c98a7c" stroke="#444" stroke-width="0.3"/>
<circle cx="151.50" cy="675.60" r="2.20" fill="#dcdce2" stroke="#928a88" stroke-width="0.65"/>
<circle cx="179.00" cy="675.60" r="2.10" fill="#7a0a22" stroke="#444" stroke-width="0.3"/>
<circle cx="206.50" cy="675.60" r="1.80" fill="#7a0a22" stroke="#444" stroke-width="0.3"/>
<circle cx="234.00" cy="675.60" r="1.20" fill="#c0c0c0" stroke="#444" stroke-width="0.3"/>
<circle cx="261.60" cy="675.60" r="2.60" fill="#7a0a22" stroke="#444" stroke-width="0.3"/>
<circle cx="261.60" cy="681.50" r="1.50" fill="#50101c" stroke="#444" stroke-width="0.3"/>
<line x1="151.50" y1="685.00" x2="151.50" y2="687.30" stroke="#2a2a2a" stroke-width="0.7"/>
<text x="153.40" y="691.60" font-size="4.5" text-anchor="end" fill="#444" transform="rotate(-45 153.40 691.60)">Early Tm</text>
<line x1="179.00" y1="685.00" x2="179.00" y2="687.30" stroke="#2a2a2a" stroke-width="0.7"/>
<text x="180.90" y="691.60" font-size="4.5" text-anchor="end" fill="#444" transform="rotate(-45 180.90 691.60)">Int</text>
<line x1="206.50" y1="685.00" x2="206.50" y2="687.30" stroke="#2a2a2a" stroke-width="0.7"/>
<text x="208.40" y="691.60" font-size="4.5" text-anchor="end" fill="#444" transform="rotate(-45 208.40 691.60)">Act</text>
<line x1="234.00" y1="685.00" x2="234.00" y2="687.30" stroke="#2a2a2a" stroke-width="0.7"/>
<text x="235.90" y="691.60" font-size="4.5" text-anchor="end" fill="#444" transform="rotate(-45 235.90 691.60)">Naive</text>
<line x1="261.60" y1="685.00" x2="261.60" y2="687.30" stroke="#2a2a2a" stroke-width="0.7"/>
<text x="263.50" y="691.60" font-size="4.5" text-anchor="end" fill="#444" transform="rotate(-45 263.50 691.60)">Term/SenL</text>
<text x="292.30" y="576.83" font-size="5.6" fill="#333" textLength="25.40" lengthAdjust="spacingAndGlyphs">GeneRatio</text>
<circle cx="295.90" cy="582.10" r="1.40" fill="#4a4a4a" stroke="#222" stroke-width="0.5"/>
<text x="301.00" y="584.03" font-size="5.6" fill="#333">0.1</text>
<circle cx="295.90" cy="587.00" r="1.80" fill="#4a4a4a" stroke="#222" stroke-width="0.5"/>
<text x="301.00" y="588.93" font-size="5.6" fill="#333">0.2</text>
<circle cx="295.90" cy="592.90" r="2.20" fill="#4a4a4a" stroke="#222" stroke-width="0.5"/>
<text x="301.00" y="594.83" font-size="5.6" fill="#333">0.3</text>
<text x="284.60" y="615.70" font-size="5.8" text-anchor="middle" fill="#333" textLength="18.00" lengthAdjust="spacingAndGlyphs" transform="rotate(90 284.60 613.70)">GO_BP</text>
<text x="292.30" y="609.13" font-size="5.6" fill="#333" font-style="italic" textLength="19.00" lengthAdjust="spacingAndGlyphs">P.adjust</text>
<defs><linearGradient id="pg" x1="0" x2="0" y1="0" y2="1"><stop offset="0" stop-color="#0a5a80"/><stop offset="0.3" stop-color="#5aaccc"/><stop offset="0.5" stop-color="#f6f0f0"/><stop offset="0.75" stop-color="#f0a0a8"/><stop offset="1" stop-color="#c00020"/></linearGradient></defs>
<rect x="292.30" y="612.80" width="4.60" height="21.40" fill="url(#pg)"/>
<text x="300.10" y="615.33" font-size="5.6" fill="#333" textLength="9.60" lengthAdjust="spacingAndGlyphs">.050</text>
<text x="300.10" y="625.83" font-size="5.6" fill="#333" textLength="9.60" lengthAdjust="spacingAndGlyphs">.025</text>
<text x="300.10" y="636.13" font-size="5.6" fill="#333" textLength="9.60" lengthAdjust="spacingAndGlyphs">.000</text>
<text x="292.30" y="648.43" font-size="5.6" fill="#333" textLength="18.80" lengthAdjust="spacingAndGlyphs">Non-sig</text>
<circle cx="295.70" cy="652.90" r="1.30" fill="#fff" stroke="#888" stroke-width="0.5"/>
<text x="377.50" y="557.17" font-size="8.6" fill="#333">Res vs. NonRes post-treatment</text>
<rect x="380" y="562.5" width="115" height="69.5" fill="none" stroke="#222" stroke-width="1.1"/>
<line x1="403.30" y1="563.00" x2="403.30" y2="632.00" stroke="#222" stroke-width="0.85" stroke-dasharray="3.2 2.4"/>
<line x1="457.00" y1="563.00" x2="457.00" y2="632.00" stroke="#222" stroke-width="0.85" stroke-dasharray="3.2 2.4"/>
<line x1="430.40" y1="562.50" x2="430.40" y2="632.00" stroke="#111" stroke-width="0.9"/>
<line x1="377.30" y1="570.00" x2="380.00" y2="570.00" stroke="#2a2a2a" stroke-width="0.8"/>
<text x="374.80" y="572.31" font-size="6.7" text-anchor="end" fill="#333">Int</text>
<line x1="385.00" y1="570.00" x2="392.60" y2="570.00" stroke="#c8102e" stroke-width="1.1"/>
<circle cx="388.80" cy="570.00" r="2.70" fill="#c8102e"/>
<line x1="377.30" y1="583.80" x2="380.00" y2="583.80" stroke="#2a2a2a" stroke-width="0.8"/>
<text x="374.80" y="586.11" font-size="6.7" text-anchor="end" fill="#333">Early Tm</text>
<line x1="405.50" y1="583.80" x2="414.00" y2="583.80" stroke="#1a4a80" stroke-width="1.1"/>
<circle cx="409.30" cy="583.80" r="2.70" fill="#1a4a80"/>
<line x1="377.30" y1="597.50" x2="380.00" y2="597.50" stroke="#2a2a2a" stroke-width="0.8"/>
<text x="374.80" y="599.81" font-size="6.7" text-anchor="end" fill="#333">Act</text>
<line x1="431.00" y1="597.50" x2="442.00" y2="597.50" stroke="#1a4a80" stroke-width="1.1"/>
<circle cx="435.50" cy="597.50" r="2.70" fill="#1a4a80"/>
<line x1="377.30" y1="611.30" x2="380.00" y2="611.30" stroke="#2a2a2a" stroke-width="0.8"/>
<text x="374.80" y="613.61" font-size="6.7" text-anchor="end" fill="#333">Naive</text>
<line x1="453.00" y1="611.30" x2="457.00" y2="611.30" stroke="#1a4a80" stroke-width="1.1"/>
<circle cx="455.00" cy="611.30" r="2.70" fill="#1a4a80"/>
<line x1="377.30" y1="625.00" x2="380.00" y2="625.00" stroke="#2a2a2a" stroke-width="0.8"/>
<text x="374.80" y="627.31" font-size="6.7" text-anchor="end" fill="#333">Term/SenL</text>
<line x1="477.00" y1="625.00" x2="490.00" y2="625.00" stroke="#c8102e" stroke-width="1.1"/>
<circle cx="483.30" cy="625.00" r="2.70" fill="#c8102e"/>
<line x1="403.30" y1="632.00" x2="403.30" y2="634.50" stroke="#2a2a2a" stroke-width="0.8"/>
<text x="403.30" y="643.78" font-size="7.2" text-anchor="middle" fill="#333">−1</text>
<line x1="430.00" y1="632.00" x2="430.00" y2="634.50" stroke="#2a2a2a" stroke-width="0.8"/>
<text x="430.00" y="643.78" font-size="7.2" text-anchor="middle" fill="#333">0</text>
<line x1="457.00" y1="632.00" x2="457.00" y2="634.50" stroke="#2a2a2a" stroke-width="0.8"/>
<text x="457.00" y="643.78" font-size="7.2" text-anchor="middle" fill="#333">1</text>
<line x1="483.80" y1="632.00" x2="483.80" y2="634.50" stroke="#2a2a2a" stroke-width="0.8"/>
<text x="483.80" y="643.78" font-size="7.2" text-anchor="middle" fill="#333">2</text>
<text x="437.90" y="656.84" font-size="8.8" text-anchor="middle" fill="#333" textLength="36.90" lengthAdjust="spacingAndGlyphs">obs_log2FD</text>
<text x="349.80" y="667.55" font-size="6.8" fill="#333" textLength="32.60" lengthAdjust="spacingAndGlyphs">significance</text>
<line x1="388.10" y1="662.40" x2="388.10" y2="668.00" stroke="#c8102e" stroke-width="0.8"/>
<circle cx="388.10" cy="665.20" r="1.50" fill="#c8102e"/>
<text x="393.00" y="667.48" font-size="6.6" fill="#333" textLength="90.00" lengthAdjust="spacingAndGlyphs">FDR &lt; 0.05 &amp; abs(Log2FD) &gt; 1</text>
<line x1="487.30" y1="662.40" x2="487.30" y2="668.00" stroke="#1a4a80" stroke-width="0.8"/>
<circle cx="487.30" cy="665.20" r="1.50" fill="#1a4a80"/>
<text x="491.20" y="667.48" font-size="6.6" fill="#333">n.s.</text>
<line x1="0" y1="0.5" x2="520" y2="0.5" stroke="#6a6a6a"/><line x1="0.5" y1="0" x2="0.5" y2="713" stroke="#6a6a6a"/><line x1="519.5" y1="0" x2="519.5" y2="713" stroke="#5a5a5a"/><line x1="0" y1="712.5" x2="520" y2="712.5" stroke="#404040"/>
</svg>
</body></html>
